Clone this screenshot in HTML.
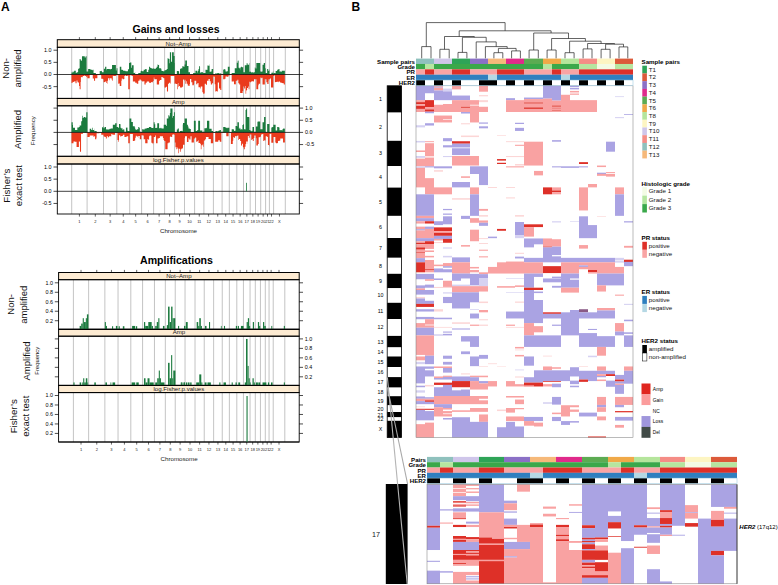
<!DOCTYPE html>
<html><head><meta charset="utf-8"><title>Figure</title>
<style>
html,body{margin:0;padding:0;background:#fff;}
body{width:778px;height:585px;overflow:hidden;font-family:"Liberation Sans",sans-serif;}
svg{display:block;font-family:"Liberation Sans",sans-serif;}
</style></head><body>
<svg width="778" height="585" viewBox="0 0 778 585">
<rect width="778" height="585" fill="#fff"/>
<g shape-rendering="auto">
<rect x="416.00" y="85.85" width="9.00" height="14.31" fill="#aaa3e3"/>
<rect x="416.00" y="100.15" width="9.00" height="2.00" fill="#f9a2a2"/>
<rect x="416.00" y="102.15" width="9.00" height="2.15" fill="#de3028"/>
<rect x="416.00" y="104.31" width="9.00" height="1.54" fill="#f9a2a2"/>
<rect x="416.00" y="105.85" width="9.00" height="3.08" fill="#de3028"/>
<rect x="416.00" y="108.92" width="9.00" height="3.08" fill="#f9a2a2"/>
<rect x="416.00" y="125.23" width="9.00" height="2.15" fill="#d6d2f2"/>
<rect x="416.00" y="140.92" width="9.00" height="1.54" fill="#d6d2f2"/>
<rect x="416.00" y="150.46" width="9.00" height="1.54" fill="#f9a2a2"/>
<rect x="416.00" y="156.00" width="9.00" height="1.85" fill="#d6d2f2"/>
<rect x="416.00" y="158.62" width="9.00" height="7.69" fill="#f9a2a2"/>
<rect x="416.00" y="166.31" width="9.00" height="1.54" fill="#d6d2f2"/>
<rect x="416.00" y="167.85" width="9.00" height="6.15" fill="#f9a2a2"/>
<rect x="425.00" y="85.85" width="9.00" height="7.38" fill="#aaa3e3"/>
<rect x="425.00" y="100.15" width="9.00" height="6.92" fill="#de3028"/>
<rect x="425.00" y="107.08" width="9.00" height="2.31" fill="#f9a2a2"/>
<rect x="425.00" y="109.38" width="9.00" height="2.31" fill="#de3028"/>
<rect x="425.00" y="111.69" width="9.00" height="1.54" fill="#aaa3e3"/>
<rect x="425.00" y="123.23" width="9.00" height="2.31" fill="#aaa3e3"/>
<rect x="425.00" y="141.23" width="9.00" height="0.92" fill="#f9a2a2"/>
<rect x="425.00" y="143.23" width="9.00" height="13.08" fill="#f9a2a2"/>
<rect x="425.00" y="157.54" width="9.00" height="8.77" fill="#f9a2a2"/>
<rect x="425.00" y="166.31" width="9.00" height="1.08" fill="#aaa3e3"/>
<rect x="434.00" y="85.85" width="9.00" height="0.92" fill="#f9a2a2"/>
<rect x="434.00" y="86.77" width="9.00" height="0.92" fill="#aaa3e3"/>
<rect x="434.00" y="87.69" width="9.00" height="2.77" fill="#f9a2a2"/>
<rect x="434.00" y="90.46" width="9.00" height="9.69" fill="#aaa3e3"/>
<rect x="434.00" y="104.77" width="9.00" height="7.23" fill="#f9a2a2"/>
<rect x="434.00" y="115.54" width="9.00" height="6.92" fill="#f9a2a2"/>
<rect x="434.00" y="166.31" width="9.00" height="2.00" fill="#aaa3e3"/>
<rect x="434.00" y="170.15" width="9.00" height="1.54" fill="#fcd6d6"/>
<rect x="443.00" y="88.62" width="9.00" height="2.77" fill="#d6d2f2"/>
<rect x="443.00" y="91.38" width="9.00" height="8.77" fill="#aaa3e3"/>
<rect x="443.00" y="104.00" width="9.00" height="8.00" fill="#f9a2a2"/>
<rect x="443.00" y="115.54" width="9.00" height="3.54" fill="#f9a2a2"/>
<rect x="443.00" y="119.69" width="9.00" height="2.77" fill="#f9a2a2"/>
<rect x="443.00" y="138.15" width="9.00" height="3.08" fill="#aaa3e3"/>
<rect x="443.00" y="145.23" width="9.00" height="2.15" fill="#aaa3e3"/>
<rect x="443.00" y="156.00" width="9.00" height="1.08" fill="#d6d2f2"/>
<rect x="443.00" y="166.31" width="9.00" height="2.00" fill="#aaa3e3"/>
<rect x="452.00" y="85.85" width="9.00" height="3.54" fill="#f9a2a2"/>
<rect x="452.00" y="95.54" width="9.00" height="4.62" fill="#aaa3e3"/>
<rect x="452.00" y="100.15" width="9.00" height="11.85" fill="#f9a2a2"/>
<rect x="452.00" y="141.23" width="9.00" height="2.46" fill="#de3028"/>
<rect x="452.00" y="143.69" width="9.00" height="3.38" fill="#aaa3e3"/>
<rect x="452.00" y="147.08" width="9.00" height="1.23" fill="#d6d2f2"/>
<rect x="452.00" y="148.31" width="9.00" height="6.77" fill="#aaa3e3"/>
<rect x="452.00" y="156.00" width="9.00" height="9.54" fill="#f9a2a2"/>
<rect x="461.00" y="95.54" width="9.00" height="4.62" fill="#aaa3e3"/>
<rect x="461.00" y="100.15" width="9.00" height="6.62" fill="#f9a2a2"/>
<rect x="461.00" y="106.77" width="9.00" height="1.08" fill="#de3028"/>
<rect x="461.00" y="107.85" width="9.00" height="4.15" fill="#f9a2a2"/>
<rect x="461.00" y="112.00" width="9.00" height="1.54" fill="#aaa3e3"/>
<rect x="461.00" y="123.23" width="9.00" height="1.08" fill="#fcd6d6"/>
<rect x="461.00" y="135.54" width="9.00" height="1.54" fill="#fcd6d6"/>
<rect x="461.00" y="141.23" width="9.00" height="2.46" fill="#de3028"/>
<rect x="461.00" y="143.69" width="9.00" height="3.38" fill="#aaa3e3"/>
<rect x="461.00" y="147.08" width="9.00" height="1.23" fill="#d6d2f2"/>
<rect x="461.00" y="148.31" width="9.00" height="6.77" fill="#aaa3e3"/>
<rect x="461.00" y="156.00" width="9.00" height="9.54" fill="#f9a2a2"/>
<rect x="470.00" y="100.15" width="9.00" height="4.62" fill="#f9a2a2"/>
<rect x="470.00" y="105.54" width="9.00" height="16.92" fill="#f9a2a2"/>
<rect x="470.00" y="135.54" width="9.00" height="1.54" fill="#fcd6d6"/>
<rect x="470.00" y="156.00" width="9.00" height="9.54" fill="#f9a2a2"/>
<rect x="470.00" y="166.31" width="9.00" height="7.69" fill="#aaa3e3"/>
<rect x="479.00" y="85.85" width="9.00" height="5.85" fill="#f9a2a2"/>
<rect x="479.00" y="95.08" width="9.00" height="1.23" fill="#fcd6d6"/>
<rect x="479.00" y="100.15" width="9.00" height="2.00" fill="#fcd6d6"/>
<rect x="479.00" y="106.77" width="9.00" height="5.23" fill="#f9a2a2"/>
<rect x="479.00" y="122.46" width="9.00" height="1.23" fill="#aaa3e3"/>
<rect x="479.00" y="126.31" width="9.00" height="2.00" fill="#aaa3e3"/>
<rect x="479.00" y="166.31" width="9.00" height="7.69" fill="#aaa3e3"/>
<rect x="497.00" y="135.08" width="9.00" height="0.62" fill="#fcd6d6"/>
<rect x="497.00" y="159.08" width="9.00" height="1.54" fill="#de3028"/>
<rect x="497.00" y="162.77" width="9.00" height="1.23" fill="#de3028"/>
<rect x="506.00" y="98.15" width="9.00" height="2.00" fill="#aaa3e3"/>
<rect x="506.00" y="100.15" width="9.00" height="11.85" fill="#f9a2a2"/>
<rect x="506.00" y="141.23" width="9.00" height="0.92" fill="#fcd6d6"/>
<rect x="506.00" y="156.00" width="9.00" height="1.08" fill="#fcd6d6"/>
<rect x="506.00" y="166.31" width="9.00" height="1.08" fill="#f9a2a2"/>
<rect x="515.00" y="100.15" width="9.00" height="11.85" fill="#f9a2a2"/>
<rect x="515.00" y="122.77" width="9.00" height="1.23" fill="#aaa3e3"/>
<rect x="515.00" y="127.85" width="9.00" height="3.08" fill="#aaa3e3"/>
<rect x="515.00" y="141.23" width="9.00" height="0.92" fill="#fcd6d6"/>
<rect x="515.00" y="144.77" width="9.00" height="1.08" fill="#f9a2a2"/>
<rect x="515.00" y="156.00" width="9.00" height="1.08" fill="#fcd6d6"/>
<rect x="515.00" y="164.00" width="9.00" height="1.54" fill="#fcd6d6"/>
<rect x="515.00" y="166.31" width="9.00" height="1.08" fill="#f9a2a2"/>
<rect x="524.00" y="97.54" width="10.00" height="1.54" fill="#aaa3e3"/>
<rect x="524.00" y="99.08" width="10.00" height="3.38" fill="#f9a2a2"/>
<rect x="524.00" y="102.46" width="10.00" height="1.23" fill="#de3028"/>
<rect x="524.00" y="103.69" width="10.00" height="3.69" fill="#f9a2a2"/>
<rect x="524.00" y="107.38" width="10.00" height="1.54" fill="#de3028"/>
<rect x="524.00" y="108.92" width="10.00" height="3.08" fill="#f9a2a2"/>
<rect x="524.00" y="141.69" width="10.00" height="23.85" fill="#f9a2a2"/>
<rect x="534.00" y="97.54" width="9.00" height="1.54" fill="#aaa3e3"/>
<rect x="534.00" y="99.08" width="9.00" height="3.38" fill="#f9a2a2"/>
<rect x="534.00" y="102.46" width="9.00" height="1.23" fill="#de3028"/>
<rect x="534.00" y="103.69" width="9.00" height="3.69" fill="#f9a2a2"/>
<rect x="534.00" y="107.38" width="9.00" height="1.54" fill="#de3028"/>
<rect x="534.00" y="108.92" width="9.00" height="3.08" fill="#f9a2a2"/>
<rect x="534.00" y="141.69" width="9.00" height="23.85" fill="#f9a2a2"/>
<rect x="534.00" y="170.92" width="9.00" height="3.08" fill="#f9a2a2"/>
<rect x="543.00" y="85.85" width="9.00" height="12.77" fill="#aaa3e3"/>
<rect x="543.00" y="98.62" width="9.00" height="13.38" fill="#f9a2a2"/>
<rect x="552.00" y="85.85" width="9.00" height="14.77" fill="#aaa3e3"/>
<rect x="552.00" y="100.62" width="9.00" height="4.92" fill="#f9a2a2"/>
<rect x="552.00" y="105.54" width="9.00" height="1.23" fill="#de3028"/>
<rect x="552.00" y="106.77" width="9.00" height="1.08" fill="#f9a2a2"/>
<rect x="552.00" y="107.85" width="9.00" height="0.77" fill="#de3028"/>
<rect x="552.00" y="108.62" width="9.00" height="1.85" fill="#f9a2a2"/>
<rect x="552.00" y="110.46" width="9.00" height="0.92" fill="#de3028"/>
<rect x="552.00" y="111.38" width="9.00" height="0.62" fill="#f9a2a2"/>
<rect x="552.00" y="140.15" width="9.00" height="1.54" fill="#aaa3e3"/>
<rect x="552.00" y="166.31" width="9.00" height="1.08" fill="#aaa3e3"/>
<rect x="561.00" y="94.77" width="9.00" height="17.23" fill="#f9a2a2"/>
<rect x="561.00" y="166.31" width="9.00" height="1.54" fill="#aaa3e3"/>
<rect x="570.00" y="85.85" width="9.00" height="1.23" fill="#aaa3e3"/>
<rect x="570.00" y="87.85" width="9.00" height="1.54" fill="#aaa3e3"/>
<rect x="570.00" y="90.92" width="9.00" height="1.54" fill="#f9a2a2"/>
<rect x="570.00" y="93.54" width="9.00" height="1.23" fill="#f9a2a2"/>
<rect x="570.00" y="100.15" width="9.00" height="11.85" fill="#f9a2a2"/>
<rect x="570.00" y="166.31" width="9.00" height="1.54" fill="#aaa3e3"/>
<rect x="579.00" y="100.15" width="9.00" height="11.85" fill="#f9a2a2"/>
<rect x="579.00" y="162.15" width="9.00" height="1.85" fill="#de3028"/>
<rect x="579.00" y="166.31" width="9.00" height="1.08" fill="#aaa3e3"/>
<rect x="588.00" y="100.15" width="9.00" height="11.85" fill="#f9a2a2"/>
<rect x="597.00" y="165.54" width="9.00" height="1.54" fill="#f9a2a2"/>
<rect x="597.00" y="172.92" width="9.00" height="1.08" fill="#aaa3e3"/>
<rect x="606.00" y="141.69" width="9.00" height="10.00" fill="#aaa3e3"/>
<rect x="606.00" y="172.00" width="9.00" height="0.92" fill="#f9a2a2"/>
<rect x="615.00" y="96.31" width="9.00" height="0.77" fill="#d6d2f2"/>
<rect x="615.00" y="117.08" width="9.00" height="1.08" fill="#d6d2f2"/>
<rect x="624.00" y="114.00" width="9.00" height="0.77" fill="#aaa3e3"/>
<rect x="416.00" y="172.00" width="9.00" height="15.38" fill="#f9a2a2"/>
<rect x="416.00" y="194.31" width="9.00" height="21.54" fill="#aaa3e3"/>
<rect x="416.00" y="215.85" width="9.00" height="2.31" fill="#f9a2a2"/>
<rect x="416.00" y="218.15" width="9.00" height="3.08" fill="#aaa3e3"/>
<rect x="416.00" y="221.23" width="9.00" height="2.31" fill="#f9a2a2"/>
<rect x="416.00" y="226.62" width="9.00" height="2.62" fill="#f9a2a2"/>
<rect x="416.00" y="229.23" width="9.00" height="1.23" fill="#aaa3e3"/>
<rect x="416.00" y="230.46" width="9.00" height="7.69" fill="#f9a2a2"/>
<rect x="416.00" y="238.15" width="9.00" height="3.08" fill="#aaa3e3"/>
<rect x="416.00" y="241.23" width="9.00" height="1.54" fill="#f9a2a2"/>
<rect x="416.00" y="242.77" width="9.00" height="1.54" fill="#de3028"/>
<rect x="416.00" y="244.31" width="9.00" height="3.08" fill="#f9a2a2"/>
<rect x="416.00" y="247.38" width="9.00" height="2.31" fill="#de3028"/>
<rect x="416.00" y="249.69" width="9.00" height="2.31" fill="#f9a2a2"/>
<rect x="416.00" y="252.00" width="9.00" height="0.77" fill="#de3028"/>
<rect x="416.00" y="252.77" width="9.00" height="5.38" fill="#f9a2a2"/>
<rect x="416.00" y="258.15" width="9.00" height="2.31" fill="#aaa3e3"/>
<rect x="416.00" y="260.46" width="9.00" height="1.54" fill="#f9a2a2"/>
<rect x="425.00" y="178.15" width="9.00" height="16.15" fill="#f9a2a2"/>
<rect x="425.00" y="194.31" width="9.00" height="21.54" fill="#aaa3e3"/>
<rect x="425.00" y="215.85" width="9.00" height="2.31" fill="#f9a2a2"/>
<rect x="425.00" y="218.15" width="9.00" height="3.08" fill="#aaa3e3"/>
<rect x="425.00" y="221.23" width="9.00" height="2.31" fill="#de3028"/>
<rect x="425.00" y="226.62" width="9.00" height="2.31" fill="#aaa3e3"/>
<rect x="425.00" y="228.92" width="9.00" height="9.23" fill="#f9a2a2"/>
<rect x="425.00" y="238.15" width="9.00" height="3.08" fill="#aaa3e3"/>
<rect x="425.00" y="241.23" width="9.00" height="2.77" fill="#de3028"/>
<rect x="425.00" y="244.00" width="9.00" height="4.92" fill="#f9a2a2"/>
<rect x="425.00" y="250.46" width="9.00" height="1.54" fill="#f9a2a2"/>
<rect x="425.00" y="255.85" width="9.00" height="1.54" fill="#f9a2a2"/>
<rect x="434.00" y="187.38" width="9.00" height="6.92" fill="#f9a2a2"/>
<rect x="434.00" y="221.23" width="9.00" height="3.85" fill="#aaa3e3"/>
<rect x="434.00" y="227.38" width="9.00" height="3.85" fill="#de3028"/>
<rect x="434.00" y="231.23" width="9.00" height="1.54" fill="#f9a2a2"/>
<rect x="434.00" y="232.77" width="9.00" height="3.08" fill="#de3028"/>
<rect x="434.00" y="235.85" width="9.00" height="3.08" fill="#aaa3e3"/>
<rect x="434.00" y="238.92" width="9.00" height="1.54" fill="#f9a2a2"/>
<rect x="434.00" y="242.00" width="9.00" height="1.08" fill="#fcd6d6"/>
<rect x="443.00" y="187.38" width="9.00" height="6.92" fill="#f9a2a2"/>
<rect x="443.00" y="208.92" width="9.00" height="1.23" fill="#aaa3e3"/>
<rect x="443.00" y="213.54" width="9.00" height="1.23" fill="#aaa3e3"/>
<rect x="443.00" y="216.31" width="9.00" height="8.00" fill="#aaa3e3"/>
<rect x="443.00" y="227.38" width="9.00" height="3.85" fill="#de3028"/>
<rect x="443.00" y="231.23" width="9.00" height="1.54" fill="#f9a2a2"/>
<rect x="443.00" y="232.77" width="9.00" height="3.08" fill="#de3028"/>
<rect x="443.00" y="235.85" width="9.00" height="3.08" fill="#aaa3e3"/>
<rect x="443.00" y="238.92" width="9.00" height="3.85" fill="#de3028"/>
<rect x="443.00" y="247.38" width="9.00" height="1.23" fill="#d6d2f2"/>
<rect x="443.00" y="255.85" width="9.00" height="1.54" fill="#d6d2f2"/>
<rect x="452.00" y="182.00" width="9.00" height="5.38" fill="#aaa3e3"/>
<rect x="452.00" y="198.15" width="9.00" height="1.54" fill="#fcd6d6"/>
<rect x="452.00" y="257.38" width="9.00" height="4.62" fill="#aaa3e3"/>
<rect x="461.00" y="176.31" width="9.00" height="1.54" fill="#f9a2a2"/>
<rect x="461.00" y="182.00" width="9.00" height="5.38" fill="#aaa3e3"/>
<rect x="461.00" y="198.15" width="9.00" height="1.54" fill="#fcd6d6"/>
<rect x="461.00" y="215.85" width="9.00" height="3.08" fill="#aaa3e3"/>
<rect x="461.00" y="245.08" width="9.00" height="1.54" fill="#f9a2a2"/>
<rect x="461.00" y="257.38" width="9.00" height="4.62" fill="#aaa3e3"/>
<rect x="470.00" y="172.00" width="9.00" height="1.85" fill="#aaa3e3"/>
<rect x="470.00" y="187.38" width="9.00" height="6.92" fill="#f9a2a2"/>
<rect x="470.00" y="194.31" width="9.00" height="21.54" fill="#aaa3e3"/>
<rect x="470.00" y="218.15" width="9.00" height="4.62" fill="#f9a2a2"/>
<rect x="470.00" y="229.69" width="9.00" height="11.54" fill="#f9a2a2"/>
<rect x="479.00" y="172.00" width="9.00" height="13.08" fill="#aaa3e3"/>
<rect x="479.00" y="208.92" width="9.00" height="1.85" fill="#f9a2a2"/>
<rect x="479.00" y="215.08" width="9.00" height="1.54" fill="#fcd6d6"/>
<rect x="479.00" y="220.46" width="9.00" height="2.31" fill="#f9a2a2"/>
<rect x="479.00" y="222.77" width="9.00" height="3.08" fill="#aaa3e3"/>
<rect x="479.00" y="238.15" width="9.00" height="0.92" fill="#fcd6d6"/>
<rect x="479.00" y="243.08" width="9.00" height="0.92" fill="#fcd6d6"/>
<rect x="479.00" y="249.69" width="9.00" height="1.08" fill="#f9a2a2"/>
<rect x="479.00" y="256.31" width="9.00" height="1.08" fill="#f9a2a2"/>
<rect x="488.00" y="187.08" width="9.00" height="0.92" fill="#fcd6d6"/>
<rect x="488.00" y="236.62" width="9.00" height="1.54" fill="#aaa3e3"/>
<rect x="497.00" y="228.92" width="9.00" height="1.85" fill="#de3028"/>
<rect x="506.00" y="187.08" width="9.00" height="0.92" fill="#fcd6d6"/>
<rect x="506.00" y="197.38" width="9.00" height="1.08" fill="#fcd6d6"/>
<rect x="515.00" y="215.08" width="9.00" height="1.54" fill="#fcd6d6"/>
<rect x="515.00" y="222.00" width="9.00" height="13.08" fill="#aaa3e3"/>
<rect x="515.00" y="235.08" width="9.00" height="3.08" fill="#d6d2f2"/>
<rect x="515.00" y="252.77" width="9.00" height="1.08" fill="#fcd6d6"/>
<rect x="515.00" y="256.62" width="9.00" height="1.85" fill="#aaa3e3"/>
<rect x="524.00" y="224.31" width="10.00" height="2.77" fill="#de3028"/>
<rect x="524.00" y="227.08" width="10.00" height="9.54" fill="#f9a2a2"/>
<rect x="524.00" y="238.46" width="10.00" height="8.92" fill="#aaa3e3"/>
<rect x="524.00" y="257.85" width="10.00" height="4.15" fill="#aaa3e3"/>
<rect x="534.00" y="172.00" width="9.00" height="3.38" fill="#f9a2a2"/>
<rect x="534.00" y="224.31" width="9.00" height="2.77" fill="#de3028"/>
<rect x="534.00" y="238.46" width="9.00" height="5.85" fill="#aaa3e3"/>
<rect x="534.00" y="257.85" width="9.00" height="4.15" fill="#aaa3e3"/>
<rect x="543.00" y="187.38" width="9.00" height="6.92" fill="#de3028"/>
<rect x="543.00" y="238.46" width="9.00" height="8.15" fill="#f9a2a2"/>
<rect x="543.00" y="246.62" width="9.00" height="0.77" fill="#de3028"/>
<rect x="543.00" y="247.38" width="9.00" height="14.62" fill="#aaa3e3"/>
<rect x="552.00" y="187.38" width="9.00" height="3.08" fill="#f9a2a2"/>
<rect x="552.00" y="190.46" width="9.00" height="1.85" fill="#de3028"/>
<rect x="552.00" y="192.31" width="9.00" height="2.00" fill="#f9a2a2"/>
<rect x="552.00" y="221.23" width="9.00" height="1.23" fill="#d6d2f2"/>
<rect x="552.00" y="239.23" width="9.00" height="7.38" fill="#f9a2a2"/>
<rect x="552.00" y="246.62" width="9.00" height="8.46" fill="#aaa3e3"/>
<rect x="552.00" y="256.31" width="9.00" height="5.69" fill="#aaa3e3"/>
<rect x="561.00" y="257.85" width="9.00" height="4.15" fill="#aaa3e3"/>
<rect x="570.00" y="221.23" width="9.00" height="0.62" fill="#d6d2f2"/>
<rect x="570.00" y="257.85" width="9.00" height="4.15" fill="#aaa3e3"/>
<rect x="579.00" y="187.38" width="9.00" height="23.08" fill="#f9a2a2"/>
<rect x="579.00" y="216.31" width="9.00" height="21.85" fill="#aaa3e3"/>
<rect x="579.00" y="245.08" width="9.00" height="3.54" fill="#f9a2a2"/>
<rect x="579.00" y="257.85" width="9.00" height="4.15" fill="#aaa3e3"/>
<rect x="588.00" y="184.00" width="9.00" height="3.38" fill="#f9a2a2"/>
<rect x="588.00" y="225.08" width="9.00" height="13.08" fill="#aaa3e3"/>
<rect x="588.00" y="257.85" width="9.00" height="4.15" fill="#aaa3e3"/>
<rect x="597.00" y="172.77" width="9.00" height="1.08" fill="#aaa3e3"/>
<rect x="597.00" y="173.85" width="9.00" height="2.00" fill="#f9a2a2"/>
<rect x="597.00" y="216.31" width="9.00" height="0.62" fill="#fcd6d6"/>
<rect x="597.00" y="257.85" width="9.00" height="4.15" fill="#aaa3e3"/>
<rect x="606.00" y="173.85" width="9.00" height="2.77" fill="#f9a2a2"/>
<rect x="606.00" y="257.85" width="9.00" height="4.15" fill="#aaa3e3"/>
<rect x="615.00" y="187.38" width="9.00" height="6.92" fill="#f9a2a2"/>
<rect x="615.00" y="194.31" width="9.00" height="21.54" fill="#aaa3e3"/>
<rect x="615.00" y="257.85" width="9.00" height="2.62" fill="#d6d2f2"/>
<rect x="624.00" y="221.23" width="9.00" height="1.23" fill="#aaa3e3"/>
<rect x="624.00" y="245.85" width="9.00" height="1.85" fill="#f9a2a2"/>
<rect x="624.00" y="259.69" width="9.00" height="2.31" fill="#de3028"/>
<rect x="416.00" y="260.00" width="9.00" height="2.31" fill="#aaa3e3"/>
<rect x="416.00" y="262.31" width="9.00" height="10.00" fill="#de3028"/>
<rect x="416.00" y="273.85" width="9.00" height="5.38" fill="#aaa3e3"/>
<rect x="416.00" y="285.38" width="9.00" height="3.08" fill="#aaa3e3"/>
<rect x="416.00" y="288.46" width="9.00" height="1.54" fill="#f9a2a2"/>
<rect x="416.00" y="290.00" width="9.00" height="4.62" fill="#aaa3e3"/>
<rect x="416.00" y="296.92" width="9.00" height="1.54" fill="#fcd6d6"/>
<rect x="416.00" y="298.46" width="9.00" height="5.38" fill="#aaa3e3"/>
<rect x="416.00" y="303.85" width="9.00" height="3.08" fill="#de3028"/>
<rect x="416.00" y="309.23" width="9.00" height="2.31" fill="#aaa3e3"/>
<rect x="416.00" y="316.92" width="9.00" height="2.31" fill="#aaa3e3"/>
<rect x="416.00" y="323.08" width="9.00" height="4.62" fill="#f9a2a2"/>
<rect x="416.00" y="327.69" width="9.00" height="7.69" fill="#aaa3e3"/>
<rect x="416.00" y="335.38" width="9.00" height="14.62" fill="#f9a2a2"/>
<rect x="425.00" y="260.00" width="9.00" height="9.23" fill="#f9a2a2"/>
<rect x="425.00" y="269.23" width="9.00" height="1.23" fill="#de3028"/>
<rect x="425.00" y="270.46" width="9.00" height="1.85" fill="#f9a2a2"/>
<rect x="425.00" y="273.85" width="9.00" height="5.38" fill="#aaa3e3"/>
<rect x="425.00" y="279.23" width="9.00" height="1.54" fill="#f9a2a2"/>
<rect x="425.00" y="284.62" width="9.00" height="3.08" fill="#aaa3e3"/>
<rect x="425.00" y="290.00" width="9.00" height="4.62" fill="#aaa3e3"/>
<rect x="425.00" y="300.77" width="9.00" height="3.08" fill="#aaa3e3"/>
<rect x="425.00" y="303.85" width="9.00" height="3.08" fill="#de3028"/>
<rect x="425.00" y="309.23" width="9.00" height="2.31" fill="#aaa3e3"/>
<rect x="425.00" y="316.92" width="9.00" height="2.31" fill="#aaa3e3"/>
<rect x="425.00" y="319.23" width="9.00" height="5.38" fill="#f9a2a2"/>
<rect x="425.00" y="325.38" width="9.00" height="2.31" fill="#f9a2a2"/>
<rect x="425.00" y="327.69" width="9.00" height="7.69" fill="#aaa3e3"/>
<rect x="425.00" y="335.38" width="9.00" height="14.62" fill="#f9a2a2"/>
<rect x="434.00" y="264.62" width="9.00" height="1.54" fill="#f9a2a2"/>
<rect x="434.00" y="268.46" width="9.00" height="3.85" fill="#aaa3e3"/>
<rect x="434.00" y="278.46" width="9.00" height="1.54" fill="#aaa3e3"/>
<rect x="434.00" y="286.92" width="9.00" height="1.08" fill="#fcd6d6"/>
<rect x="434.00" y="309.23" width="9.00" height="2.31" fill="#fcd6d6"/>
<rect x="434.00" y="317.69" width="9.00" height="1.54" fill="#aaa3e3"/>
<rect x="434.00" y="326.92" width="9.00" height="0.77" fill="#fcd6d6"/>
<rect x="434.00" y="334.62" width="9.00" height="0.77" fill="#aaa3e3"/>
<rect x="443.00" y="263.08" width="9.00" height="3.08" fill="#f9a2a2"/>
<rect x="443.00" y="266.15" width="9.00" height="1.54" fill="#aaa3e3"/>
<rect x="443.00" y="269.23" width="9.00" height="3.08" fill="#aaa3e3"/>
<rect x="443.00" y="280.77" width="9.00" height="6.15" fill="#f9a2a2"/>
<rect x="443.00" y="286.92" width="9.00" height="1.08" fill="#fcd6d6"/>
<rect x="443.00" y="292.31" width="9.00" height="1.23" fill="#d6d2f2"/>
<rect x="443.00" y="296.92" width="9.00" height="6.15" fill="#aaa3e3"/>
<rect x="443.00" y="317.69" width="9.00" height="1.54" fill="#aaa3e3"/>
<rect x="443.00" y="326.92" width="9.00" height="0.77" fill="#fcd6d6"/>
<rect x="443.00" y="331.54" width="9.00" height="1.08" fill="#aaa3e3"/>
<rect x="443.00" y="333.85" width="9.00" height="1.54" fill="#aaa3e3"/>
<rect x="452.00" y="260.00" width="9.00" height="2.31" fill="#aaa3e3"/>
<rect x="452.00" y="262.31" width="9.00" height="11.23" fill="#f9a2a2"/>
<rect x="452.00" y="273.54" width="9.00" height="7.23" fill="#aaa3e3"/>
<rect x="452.00" y="284.62" width="9.00" height="1.54" fill="#d6d2f2"/>
<rect x="452.00" y="286.15" width="9.00" height="6.15" fill="#f9a2a2"/>
<rect x="452.00" y="292.31" width="9.00" height="16.15" fill="#aaa3e3"/>
<rect x="452.00" y="322.31" width="9.00" height="1.54" fill="#fcd6d6"/>
<rect x="452.00" y="328.46" width="9.00" height="1.08" fill="#aaa3e3"/>
<rect x="461.00" y="260.00" width="9.00" height="2.31" fill="#aaa3e3"/>
<rect x="461.00" y="262.31" width="9.00" height="11.23" fill="#f9a2a2"/>
<rect x="461.00" y="273.54" width="9.00" height="4.92" fill="#aaa3e3"/>
<rect x="461.00" y="284.62" width="9.00" height="1.54" fill="#d6d2f2"/>
<rect x="461.00" y="286.15" width="9.00" height="6.15" fill="#f9a2a2"/>
<rect x="461.00" y="292.31" width="9.00" height="16.15" fill="#aaa3e3"/>
<rect x="461.00" y="322.31" width="9.00" height="1.54" fill="#fcd6d6"/>
<rect x="461.00" y="328.46" width="9.00" height="1.08" fill="#aaa3e3"/>
<rect x="461.00" y="336.15" width="9.00" height="5.38" fill="#aaa3e3"/>
<rect x="470.00" y="266.92" width="9.00" height="1.54" fill="#f9a2a2"/>
<rect x="470.00" y="270.00" width="9.00" height="2.31" fill="#f9a2a2"/>
<rect x="470.00" y="273.85" width="9.00" height="11.54" fill="#aaa3e3"/>
<rect x="470.00" y="286.15" width="9.00" height="6.15" fill="#f9a2a2"/>
<rect x="470.00" y="292.31" width="9.00" height="10.00" fill="#aaa3e3"/>
<rect x="470.00" y="309.23" width="9.00" height="0.77" fill="#d6d2f2"/>
<rect x="470.00" y="313.54" width="9.00" height="4.92" fill="#aaa3e3"/>
<rect x="470.00" y="324.62" width="9.00" height="1.23" fill="#f9a2a2"/>
<rect x="470.00" y="336.15" width="9.00" height="10.77" fill="#aaa3e3"/>
<rect x="479.00" y="272.31" width="9.00" height="1.85" fill="#f9a2a2"/>
<rect x="479.00" y="274.15" width="9.00" height="4.31" fill="#aaa3e3"/>
<rect x="479.00" y="278.46" width="9.00" height="7.69" fill="#d6d2f2"/>
<rect x="479.00" y="286.15" width="9.00" height="5.38" fill="#f9a2a2"/>
<rect x="479.00" y="301.54" width="9.00" height="1.54" fill="#fcd6d6"/>
<rect x="479.00" y="310.00" width="9.00" height="2.31" fill="#f9a2a2"/>
<rect x="479.00" y="319.23" width="9.00" height="1.08" fill="#fcd6d6"/>
<rect x="479.00" y="324.62" width="9.00" height="1.23" fill="#fcd6d6"/>
<rect x="488.00" y="266.92" width="9.00" height="6.62" fill="#f9a2a2"/>
<rect x="497.00" y="262.31" width="9.00" height="11.23" fill="#f9a2a2"/>
<rect x="497.00" y="286.15" width="9.00" height="1.54" fill="#f9a2a2"/>
<rect x="506.00" y="261.54" width="9.00" height="12.00" fill="#f9a2a2"/>
<rect x="506.00" y="278.15" width="9.00" height="0.62" fill="#d6d2f2"/>
<rect x="506.00" y="286.15" width="9.00" height="1.54" fill="#f9a2a2"/>
<rect x="506.00" y="292.00" width="9.00" height="0.62" fill="#d6d2f2"/>
<rect x="506.00" y="311.54" width="9.00" height="6.92" fill="#aaa3e3"/>
<rect x="506.00" y="324.62" width="9.00" height="1.23" fill="#f9a2a2"/>
<rect x="506.00" y="326.92" width="9.00" height="0.77" fill="#fcd6d6"/>
<rect x="515.00" y="261.54" width="9.00" height="12.00" fill="#f9a2a2"/>
<rect x="515.00" y="278.15" width="9.00" height="0.62" fill="#d6d2f2"/>
<rect x="515.00" y="285.38" width="9.00" height="1.54" fill="#f9a2a2"/>
<rect x="515.00" y="292.00" width="9.00" height="0.62" fill="#d6d2f2"/>
<rect x="515.00" y="301.54" width="9.00" height="1.23" fill="#fcd6d6"/>
<rect x="515.00" y="311.54" width="9.00" height="6.92" fill="#aaa3e3"/>
<rect x="515.00" y="326.92" width="9.00" height="0.77" fill="#fcd6d6"/>
<rect x="515.00" y="346.92" width="9.00" height="1.54" fill="#f9a2a2"/>
<rect x="524.00" y="260.00" width="10.00" height="2.31" fill="#aaa3e3"/>
<rect x="524.00" y="262.31" width="10.00" height="11.23" fill="#f9a2a2"/>
<rect x="524.00" y="273.54" width="10.00" height="14.15" fill="#aaa3e3"/>
<rect x="524.00" y="287.69" width="10.00" height="2.31" fill="#de3028"/>
<rect x="524.00" y="290.00" width="10.00" height="33.08" fill="#aaa3e3"/>
<rect x="524.00" y="323.08" width="10.00" height="12.31" fill="#f9a2a2"/>
<rect x="524.00" y="335.38" width="10.00" height="11.54" fill="#aaa3e3"/>
<rect x="534.00" y="260.00" width="9.00" height="2.31" fill="#aaa3e3"/>
<rect x="534.00" y="262.31" width="9.00" height="11.23" fill="#f9a2a2"/>
<rect x="534.00" y="273.54" width="9.00" height="3.38" fill="#aaa3e3"/>
<rect x="534.00" y="287.69" width="9.00" height="2.31" fill="#de3028"/>
<rect x="534.00" y="291.54" width="9.00" height="1.54" fill="#aaa3e3"/>
<rect x="534.00" y="300.00" width="9.00" height="23.08" fill="#aaa3e3"/>
<rect x="534.00" y="326.15" width="9.00" height="6.15" fill="#f9a2a2"/>
<rect x="534.00" y="335.38" width="9.00" height="11.54" fill="#aaa3e3"/>
<rect x="543.00" y="260.00" width="9.00" height="2.31" fill="#aaa3e3"/>
<rect x="543.00" y="266.15" width="9.00" height="6.92" fill="#de3028"/>
<rect x="543.00" y="278.46" width="9.00" height="3.85" fill="#aaa3e3"/>
<rect x="543.00" y="312.31" width="9.00" height="1.54" fill="#de3028"/>
<rect x="543.00" y="313.85" width="9.00" height="4.62" fill="#aaa3e3"/>
<rect x="543.00" y="335.38" width="9.00" height="11.54" fill="#aaa3e3"/>
<rect x="552.00" y="260.00" width="9.00" height="2.31" fill="#aaa3e3"/>
<rect x="552.00" y="266.15" width="9.00" height="6.92" fill="#de3028"/>
<rect x="552.00" y="276.62" width="9.00" height="1.54" fill="#aaa3e3"/>
<rect x="552.00" y="278.46" width="9.00" height="3.85" fill="#aaa3e3"/>
<rect x="552.00" y="285.85" width="9.00" height="1.85" fill="#aaa3e3"/>
<rect x="552.00" y="312.31" width="9.00" height="1.54" fill="#de3028"/>
<rect x="552.00" y="313.85" width="9.00" height="4.62" fill="#aaa3e3"/>
<rect x="552.00" y="324.62" width="9.00" height="1.23" fill="#aaa3e3"/>
<rect x="552.00" y="335.38" width="9.00" height="11.54" fill="#aaa3e3"/>
<rect x="561.00" y="260.00" width="9.00" height="2.31" fill="#aaa3e3"/>
<rect x="561.00" y="262.31" width="9.00" height="11.23" fill="#f9a2a2"/>
<rect x="561.00" y="273.54" width="9.00" height="14.15" fill="#aaa3e3"/>
<rect x="561.00" y="287.69" width="9.00" height="4.92" fill="#f9a2a2"/>
<rect x="561.00" y="312.31" width="9.00" height="23.08" fill="#aaa3e3"/>
<rect x="570.00" y="260.00" width="9.00" height="2.31" fill="#aaa3e3"/>
<rect x="570.00" y="262.31" width="9.00" height="11.23" fill="#f9a2a2"/>
<rect x="570.00" y="273.54" width="9.00" height="4.92" fill="#aaa3e3"/>
<rect x="570.00" y="279.69" width="9.00" height="8.00" fill="#aaa3e3"/>
<rect x="570.00" y="287.69" width="9.00" height="4.92" fill="#f9a2a2"/>
<rect x="570.00" y="310.00" width="9.00" height="25.38" fill="#aaa3e3"/>
<rect x="579.00" y="260.00" width="9.00" height="2.31" fill="#aaa3e3"/>
<rect x="579.00" y="262.31" width="9.00" height="3.08" fill="#f9a2a2"/>
<rect x="579.00" y="265.38" width="9.00" height="1.54" fill="#aaa3e3"/>
<rect x="579.00" y="266.92" width="9.00" height="2.31" fill="#f9a2a2"/>
<rect x="579.00" y="309.23" width="9.00" height="3.08" fill="#8a5a86"/>
<rect x="579.00" y="312.31" width="9.00" height="6.15" fill="#aaa3e3"/>
<rect x="579.00" y="333.08" width="9.00" height="13.85" fill="#aaa3e3"/>
<rect x="588.00" y="260.00" width="9.00" height="2.31" fill="#aaa3e3"/>
<rect x="588.00" y="262.31" width="9.00" height="7.69" fill="#f9a2a2"/>
<rect x="588.00" y="270.00" width="9.00" height="2.31" fill="#de3028"/>
<rect x="588.00" y="272.31" width="9.00" height="1.23" fill="#f9a2a2"/>
<rect x="588.00" y="312.31" width="9.00" height="6.15" fill="#aaa3e3"/>
<rect x="588.00" y="328.92" width="9.00" height="1.08" fill="#aaa3e3"/>
<rect x="588.00" y="333.08" width="9.00" height="13.85" fill="#aaa3e3"/>
<rect x="597.00" y="260.00" width="9.00" height="2.31" fill="#aaa3e3"/>
<rect x="597.00" y="262.31" width="9.00" height="11.23" fill="#f9a2a2"/>
<rect x="597.00" y="273.54" width="9.00" height="11.85" fill="#aaa3e3"/>
<rect x="597.00" y="285.38" width="9.00" height="6.15" fill="#f9a2a2"/>
<rect x="597.00" y="308.00" width="9.00" height="2.46" fill="#f9a2a2"/>
<rect x="597.00" y="310.46" width="9.00" height="8.00" fill="#aaa3e3"/>
<rect x="597.00" y="336.15" width="9.00" height="10.77" fill="#aaa3e3"/>
<rect x="597.00" y="346.92" width="9.00" height="3.08" fill="#f9a2a2"/>
<rect x="606.00" y="260.00" width="9.00" height="2.31" fill="#aaa3e3"/>
<rect x="606.00" y="262.31" width="9.00" height="11.23" fill="#f9a2a2"/>
<rect x="606.00" y="273.54" width="9.00" height="11.85" fill="#aaa3e3"/>
<rect x="606.00" y="308.00" width="9.00" height="2.46" fill="#f9a2a2"/>
<rect x="606.00" y="310.46" width="9.00" height="8.00" fill="#aaa3e3"/>
<rect x="606.00" y="336.15" width="9.00" height="10.77" fill="#aaa3e3"/>
<rect x="615.00" y="261.54" width="9.00" height="0.77" fill="#aaa3e3"/>
<rect x="615.00" y="266.92" width="9.00" height="6.62" fill="#f9a2a2"/>
<rect x="615.00" y="273.54" width="9.00" height="11.85" fill="#aaa3e3"/>
<rect x="615.00" y="294.62" width="9.00" height="1.08" fill="#f9a2a2"/>
<rect x="615.00" y="323.08" width="9.00" height="8.46" fill="#f9a2a2"/>
<rect x="615.00" y="331.54" width="9.00" height="3.85" fill="#aaa3e3"/>
<rect x="624.00" y="260.00" width="9.00" height="1.85" fill="#de3028"/>
<rect x="624.00" y="261.85" width="9.00" height="4.31" fill="#aaa3e3"/>
<rect x="624.00" y="303.85" width="9.00" height="1.08" fill="#d6d2f2"/>
<rect x="624.00" y="319.69" width="9.00" height="1.54" fill="#aaa3e3"/>
<rect x="624.00" y="332.31" width="9.00" height="1.54" fill="#aaa3e3"/>
<rect x="624.00" y="335.38" width="9.00" height="11.54" fill="#aaa3e3"/>
<rect x="416.00" y="348.00" width="9.00" height="6.92" fill="#f9a2a2"/>
<rect x="416.00" y="356.46" width="9.00" height="3.85" fill="#f9a2a2"/>
<rect x="416.00" y="361.85" width="9.00" height="2.31" fill="#d6d2f2"/>
<rect x="416.00" y="366.46" width="9.00" height="16.92" fill="#aaa3e3"/>
<rect x="416.00" y="385.69" width="9.00" height="1.54" fill="#aaa3e3"/>
<rect x="416.00" y="390.31" width="9.00" height="2.31" fill="#d6d2f2"/>
<rect x="416.00" y="396.46" width="9.00" height="2.31" fill="#aaa3e3"/>
<rect x="416.00" y="398.77" width="9.00" height="2.31" fill="#f9a2a2"/>
<rect x="416.00" y="401.08" width="9.00" height="3.08" fill="#aaa3e3"/>
<rect x="416.00" y="406.46" width="9.00" height="0.77" fill="#fcd6d6"/>
<rect x="416.00" y="408.77" width="9.00" height="1.08" fill="#de3028"/>
<rect x="416.00" y="409.85" width="9.00" height="10.46" fill="#aaa3e3"/>
<rect x="416.00" y="424.15" width="9.00" height="13.35" fill="#f9a2a2"/>
<rect x="425.00" y="348.00" width="9.00" height="7.69" fill="#f9a2a2"/>
<rect x="425.00" y="355.69" width="9.00" height="8.46" fill="#aaa3e3"/>
<rect x="425.00" y="366.46" width="9.00" height="2.31" fill="#aaa3e3"/>
<rect x="425.00" y="370.31" width="9.00" height="6.15" fill="#aaa3e3"/>
<rect x="425.00" y="384.92" width="9.00" height="1.54" fill="#fcd6d6"/>
<rect x="425.00" y="397.23" width="9.00" height="1.54" fill="#aaa3e3"/>
<rect x="425.00" y="398.77" width="9.00" height="1.54" fill="#f9a2a2"/>
<rect x="425.00" y="400.31" width="9.00" height="1.54" fill="#de3028"/>
<rect x="425.00" y="401.85" width="9.00" height="2.31" fill="#aaa3e3"/>
<rect x="425.00" y="408.77" width="9.00" height="1.08" fill="#de3028"/>
<rect x="425.00" y="411.08" width="9.00" height="9.23" fill="#aaa3e3"/>
<rect x="425.00" y="422.62" width="9.00" height="14.88" fill="#f9a2a2"/>
<rect x="434.00" y="366.46" width="9.00" height="1.54" fill="#f9a2a2"/>
<rect x="434.00" y="376.46" width="9.00" height="1.54" fill="#f9a2a2"/>
<rect x="434.00" y="378.00" width="9.00" height="1.54" fill="#aaa3e3"/>
<rect x="434.00" y="382.62" width="9.00" height="2.31" fill="#de3028"/>
<rect x="434.00" y="387.23" width="9.00" height="8.77" fill="#aaa3e3"/>
<rect x="434.00" y="396.00" width="9.00" height="8.15" fill="#f9a2a2"/>
<rect x="434.00" y="404.15" width="9.00" height="3.08" fill="#aaa3e3"/>
<rect x="434.00" y="407.23" width="9.00" height="9.23" fill="#f9a2a2"/>
<rect x="443.00" y="355.69" width="9.00" height="3.08" fill="#aaa3e3"/>
<rect x="443.00" y="361.85" width="9.00" height="2.77" fill="#aaa3e3"/>
<rect x="443.00" y="366.46" width="9.00" height="1.54" fill="#f9a2a2"/>
<rect x="443.00" y="368.00" width="9.00" height="4.62" fill="#aaa3e3"/>
<rect x="443.00" y="375.69" width="9.00" height="1.23" fill="#f9a2a2"/>
<rect x="443.00" y="376.92" width="9.00" height="2.62" fill="#aaa3e3"/>
<rect x="443.00" y="382.62" width="9.00" height="2.31" fill="#de3028"/>
<rect x="443.00" y="384.92" width="9.00" height="11.08" fill="#aaa3e3"/>
<rect x="443.00" y="396.00" width="9.00" height="8.15" fill="#f9a2a2"/>
<rect x="443.00" y="404.15" width="9.00" height="3.85" fill="#aaa3e3"/>
<rect x="443.00" y="408.00" width="9.00" height="1.54" fill="#f9a2a2"/>
<rect x="443.00" y="411.08" width="9.00" height="2.31" fill="#f9a2a2"/>
<rect x="443.00" y="414.15" width="9.00" height="2.31" fill="#f9a2a2"/>
<rect x="443.00" y="418.00" width="9.00" height="1.54" fill="#aaa3e3"/>
<rect x="452.00" y="376.46" width="9.00" height="4.62" fill="#aaa3e3"/>
<rect x="452.00" y="381.08" width="9.00" height="6.15" fill="#de3028"/>
<rect x="452.00" y="390.31" width="9.00" height="5.69" fill="#aaa3e3"/>
<rect x="452.00" y="396.00" width="9.00" height="8.15" fill="#f9a2a2"/>
<rect x="452.00" y="410.31" width="9.00" height="1.54" fill="#f9a2a2"/>
<rect x="452.00" y="417.23" width="9.00" height="20.27" fill="#aaa3e3"/>
<rect x="461.00" y="351.38" width="9.00" height="2.77" fill="#aaa3e3"/>
<rect x="461.00" y="373.38" width="9.00" height="1.08" fill="#fcd6d6"/>
<rect x="461.00" y="376.46" width="9.00" height="4.62" fill="#aaa3e3"/>
<rect x="461.00" y="381.08" width="9.00" height="6.15" fill="#de3028"/>
<rect x="461.00" y="389.54" width="9.00" height="6.46" fill="#aaa3e3"/>
<rect x="461.00" y="396.00" width="9.00" height="8.15" fill="#f9a2a2"/>
<rect x="461.00" y="410.31" width="9.00" height="1.54" fill="#f9a2a2"/>
<rect x="461.00" y="417.23" width="9.00" height="20.27" fill="#aaa3e3"/>
<rect x="470.00" y="356.46" width="9.00" height="9.69" fill="#aaa3e3"/>
<rect x="470.00" y="375.69" width="9.00" height="1.54" fill="#f9a2a2"/>
<rect x="470.00" y="377.23" width="9.00" height="3.85" fill="#aaa3e3"/>
<rect x="470.00" y="381.08" width="9.00" height="8.46" fill="#f9a2a2"/>
<rect x="470.00" y="396.00" width="9.00" height="8.15" fill="#f9a2a2"/>
<rect x="470.00" y="408.00" width="9.00" height="3.85" fill="#f9a2a2"/>
<rect x="470.00" y="421.85" width="9.00" height="15.65" fill="#aaa3e3"/>
<rect x="479.00" y="354.92" width="9.00" height="3.85" fill="#aaa3e3"/>
<rect x="479.00" y="366.15" width="9.00" height="0.62" fill="#fcd6d6"/>
<rect x="479.00" y="375.69" width="9.00" height="1.54" fill="#f9a2a2"/>
<rect x="479.00" y="381.08" width="9.00" height="2.31" fill="#aaa3e3"/>
<rect x="479.00" y="383.38" width="9.00" height="6.15" fill="#f9a2a2"/>
<rect x="479.00" y="396.00" width="9.00" height="2.77" fill="#f9a2a2"/>
<rect x="479.00" y="400.31" width="9.00" height="3.85" fill="#f9a2a2"/>
<rect x="479.00" y="408.00" width="9.00" height="3.85" fill="#f9a2a2"/>
<rect x="479.00" y="414.46" width="9.00" height="7.38" fill="#f9a2a2"/>
<rect x="479.00" y="421.85" width="9.00" height="15.65" fill="#aaa3e3"/>
<rect x="488.00" y="363.38" width="9.00" height="0.77" fill="#fcd6d6"/>
<rect x="488.00" y="381.08" width="9.00" height="5.38" fill="#f9a2a2"/>
<rect x="497.00" y="366.46" width="9.00" height="0.46" fill="#fcd6d6"/>
<rect x="497.00" y="409.54" width="9.00" height="1.54" fill="#fcd6d6"/>
<rect x="497.00" y="427.23" width="9.00" height="10.27" fill="#aaa3e3"/>
<rect x="506.00" y="381.08" width="9.00" height="5.38" fill="#f9a2a2"/>
<rect x="506.00" y="396.00" width="9.00" height="1.54" fill="#f9a2a2"/>
<rect x="506.00" y="408.00" width="9.00" height="4.62" fill="#f9a2a2"/>
<rect x="506.00" y="416.46" width="9.00" height="4.62" fill="#f9a2a2"/>
<rect x="506.00" y="421.85" width="9.00" height="15.65" fill="#aaa3e3"/>
<rect x="515.00" y="349.54" width="9.00" height="0.77" fill="#fcd6d6"/>
<rect x="515.00" y="354.92" width="9.00" height="1.54" fill="#f9a2a2"/>
<rect x="515.00" y="369.54" width="9.00" height="0.77" fill="#d6d2f2"/>
<rect x="515.00" y="376.46" width="9.00" height="1.08" fill="#fcd6d6"/>
<rect x="515.00" y="384.15" width="9.00" height="2.31" fill="#f9a2a2"/>
<rect x="515.00" y="396.00" width="9.00" height="1.54" fill="#f9a2a2"/>
<rect x="515.00" y="399.54" width="9.00" height="4.62" fill="#f9a2a2"/>
<rect x="515.00" y="408.00" width="9.00" height="1.23" fill="#f9a2a2"/>
<rect x="515.00" y="416.46" width="9.00" height="4.62" fill="#f9a2a2"/>
<rect x="515.00" y="426.46" width="9.00" height="11.04" fill="#aaa3e3"/>
<rect x="524.00" y="356.46" width="10.00" height="9.23" fill="#aaa3e3"/>
<rect x="524.00" y="377.23" width="10.00" height="5.38" fill="#aaa3e3"/>
<rect x="524.00" y="382.62" width="10.00" height="3.08" fill="#de3028"/>
<rect x="524.00" y="385.69" width="10.00" height="1.08" fill="#f9a2a2"/>
<rect x="524.00" y="416.92" width="10.00" height="4.15" fill="#aaa3e3"/>
<rect x="524.00" y="421.08" width="10.00" height="4.62" fill="#f9a2a2"/>
<rect x="534.00" y="370.31" width="9.00" height="12.31" fill="#aaa3e3"/>
<rect x="534.00" y="382.62" width="9.00" height="3.85" fill="#de3028"/>
<rect x="534.00" y="416.92" width="9.00" height="4.15" fill="#aaa3e3"/>
<rect x="534.00" y="422.62" width="9.00" height="3.85" fill="#f9a2a2"/>
<rect x="543.00" y="355.69" width="9.00" height="0.77" fill="#fcd6d6"/>
<rect x="543.00" y="366.46" width="9.00" height="3.85" fill="#f9a2a2"/>
<rect x="543.00" y="370.31" width="9.00" height="10.77" fill="#aaa3e3"/>
<rect x="543.00" y="381.08" width="9.00" height="0.77" fill="#de3028"/>
<rect x="543.00" y="384.15" width="9.00" height="2.31" fill="#f9a2a2"/>
<rect x="543.00" y="402.62" width="9.00" height="0.77" fill="#aaa3e3"/>
<rect x="552.00" y="367.23" width="9.00" height="1.54" fill="#f9a2a2"/>
<rect x="552.00" y="370.31" width="9.00" height="10.77" fill="#aaa3e3"/>
<rect x="552.00" y="381.08" width="9.00" height="0.77" fill="#de3028"/>
<rect x="552.00" y="383.69" width="9.00" height="3.54" fill="#aaa3e3"/>
<rect x="552.00" y="396.92" width="9.00" height="7.69" fill="#aaa3e3"/>
<rect x="552.00" y="412.62" width="9.00" height="1.54" fill="#f9a2a2"/>
<rect x="552.00" y="416.92" width="9.00" height="4.15" fill="#aaa3e3"/>
<rect x="561.00" y="370.31" width="9.00" height="10.77" fill="#aaa3e3"/>
<rect x="561.00" y="405.23" width="9.00" height="11.23" fill="#f9a2a2"/>
<rect x="561.00" y="421.08" width="9.00" height="3.85" fill="#aaa3e3"/>
<rect x="570.00" y="367.23" width="9.00" height="9.23" fill="#aaa3e3"/>
<rect x="570.00" y="380.62" width="9.00" height="3.54" fill="#aaa3e3"/>
<rect x="570.00" y="385.69" width="9.00" height="1.54" fill="#aaa3e3"/>
<rect x="570.00" y="405.23" width="9.00" height="2.00" fill="#f9a2a2"/>
<rect x="570.00" y="409.54" width="9.00" height="2.31" fill="#f9a2a2"/>
<rect x="570.00" y="421.08" width="9.00" height="1.54" fill="#aaa3e3"/>
<rect x="579.00" y="366.15" width="9.00" height="0.62" fill="#fcd6d6"/>
<rect x="579.00" y="370.77" width="9.00" height="8.77" fill="#aaa3e3"/>
<rect x="579.00" y="379.54" width="9.00" height="2.31" fill="#de3028"/>
<rect x="579.00" y="412.62" width="9.00" height="3.85" fill="#aaa3e3"/>
<rect x="588.00" y="355.69" width="9.00" height="1.54" fill="#d6d2f2"/>
<rect x="588.00" y="370.77" width="9.00" height="10.31" fill="#aaa3e3"/>
<rect x="588.00" y="412.62" width="9.00" height="3.85" fill="#aaa3e3"/>
<rect x="588.00" y="436.46" width="9.00" height="1.04" fill="#de3028"/>
<rect x="597.00" y="348.00" width="9.00" height="7.69" fill="#f9a2a2"/>
<rect x="597.00" y="366.46" width="9.00" height="4.31" fill="#f9a2a2"/>
<rect x="597.00" y="370.77" width="9.00" height="3.38" fill="#aaa3e3"/>
<rect x="597.00" y="374.15" width="9.00" height="1.85" fill="#f9a2a2"/>
<rect x="597.00" y="376.00" width="9.00" height="1.23" fill="#aaa3e3"/>
<rect x="597.00" y="379.54" width="9.00" height="1.54" fill="#f9a2a2"/>
<rect x="597.00" y="396.92" width="9.00" height="8.00" fill="#f9a2a2"/>
<rect x="597.00" y="404.92" width="9.00" height="2.31" fill="#aaa3e3"/>
<rect x="597.00" y="407.23" width="9.00" height="4.62" fill="#f9a2a2"/>
<rect x="597.00" y="416.46" width="9.00" height="3.85" fill="#f9a2a2"/>
<rect x="597.00" y="436.46" width="9.00" height="1.04" fill="#de3028"/>
<rect x="606.00" y="370.77" width="9.00" height="3.38" fill="#aaa3e3"/>
<rect x="606.00" y="374.15" width="9.00" height="1.85" fill="#de3028"/>
<rect x="606.00" y="380.62" width="9.00" height="6.15" fill="#aaa3e3"/>
<rect x="615.00" y="374.92" width="9.00" height="4.62" fill="#aaa3e3"/>
<rect x="615.00" y="379.54" width="9.00" height="2.00" fill="#de3028"/>
<rect x="615.00" y="381.54" width="9.00" height="2.15" fill="#aaa3e3"/>
<rect x="615.00" y="383.69" width="9.00" height="1.23" fill="#f9a2a2"/>
<rect x="615.00" y="384.92" width="9.00" height="8.92" fill="#aaa3e3"/>
<rect x="615.00" y="396.92" width="9.00" height="8.00" fill="#f9a2a2"/>
<rect x="615.00" y="404.92" width="9.00" height="2.31" fill="#aaa3e3"/>
<rect x="615.00" y="411.08" width="9.00" height="1.23" fill="#de3028"/>
<rect x="615.00" y="416.92" width="9.00" height="3.69" fill="#aaa3e3"/>
<rect x="615.00" y="424.92" width="9.00" height="2.77" fill="#f9a2a2"/>
<rect x="624.00" y="366.46" width="9.00" height="4.31" fill="#f9a2a2"/>
<rect x="624.00" y="370.77" width="9.00" height="12.92" fill="#aaa3e3"/>
<rect x="624.00" y="396.92" width="9.00" height="8.00" fill="#f9a2a2"/>
<rect x="624.00" y="411.08" width="9.00" height="1.23" fill="#de3028"/>
<rect x="624.00" y="416.92" width="9.00" height="3.69" fill="#aaa3e3"/>
</g>
<rect x="416.0" y="85.8" width="217.0" height="351.7" fill="none" stroke="#777" stroke-width="0.5"/>
<rect x="416.00" y="58.60" width="9.00" height="5.41" fill="#8fc1bd"/>
<rect x="416.00" y="63.96" width="9.00" height="5.41" fill="#3aa84a"/>
<rect x="416.00" y="69.32" width="9.00" height="5.41" fill="#f9a4a4"/>
<rect x="416.00" y="74.68" width="9.00" height="5.41" fill="#2f7fbf"/>
<rect x="416.00" y="80.04" width="9.00" height="5.36" fill="#000"/>
<rect x="425.00" y="58.60" width="9.00" height="5.41" fill="#8fc1bd"/>
<rect x="425.00" y="63.96" width="9.00" height="5.41" fill="#b6e6a0"/>
<rect x="425.00" y="69.32" width="9.00" height="5.41" fill="#de3028"/>
<rect x="425.00" y="74.68" width="9.00" height="5.41" fill="#2f7fbf"/>
<rect x="425.00" y="80.04" width="9.00" height="5.36" fill="#fff"/>
<rect x="434.00" y="58.60" width="9.00" height="5.41" fill="#cfc6ea"/>
<rect x="434.00" y="63.96" width="9.00" height="5.41" fill="#3aa84a"/>
<rect x="434.00" y="69.32" width="9.00" height="5.41" fill="#f9a4a4"/>
<rect x="434.00" y="74.68" width="9.00" height="5.41" fill="#2f7fbf"/>
<rect x="434.00" y="80.04" width="9.00" height="5.36" fill="#000"/>
<rect x="443.00" y="58.60" width="9.00" height="5.41" fill="#cfc6ea"/>
<rect x="443.00" y="63.96" width="9.00" height="5.41" fill="#3aa84a"/>
<rect x="443.00" y="69.32" width="9.00" height="5.41" fill="#f9a4a4"/>
<rect x="443.00" y="74.68" width="9.00" height="5.41" fill="#2f7fbf"/>
<rect x="443.00" y="80.04" width="9.00" height="5.36" fill="#fff"/>
<rect x="452.00" y="58.60" width="9.00" height="5.41" fill="#2ea457"/>
<rect x="452.00" y="63.96" width="9.00" height="5.41" fill="#3aa84a"/>
<rect x="452.00" y="69.32" width="9.00" height="5.41" fill="#de3028"/>
<rect x="452.00" y="74.68" width="9.00" height="5.41" fill="#2f7fbf"/>
<rect x="452.00" y="80.04" width="9.00" height="5.36" fill="#000"/>
<rect x="461.00" y="58.60" width="9.00" height="5.41" fill="#2ea457"/>
<rect x="461.00" y="63.96" width="9.00" height="5.41" fill="#3aa84a"/>
<rect x="461.00" y="69.32" width="9.00" height="5.41" fill="#de3028"/>
<rect x="461.00" y="74.68" width="9.00" height="5.41" fill="#2f7fbf"/>
<rect x="461.00" y="80.04" width="9.00" height="5.36" fill="#fff"/>
<rect x="470.00" y="58.60" width="9.00" height="5.41" fill="#8b70c6"/>
<rect x="470.00" y="63.96" width="9.00" height="5.41" fill="#3aa84a"/>
<rect x="470.00" y="69.32" width="9.00" height="5.41" fill="#f9a4a4"/>
<rect x="470.00" y="74.68" width="9.00" height="5.41" fill="#2f7fbf"/>
<rect x="470.00" y="80.04" width="9.00" height="5.36" fill="#fff"/>
<rect x="479.00" y="58.60" width="9.00" height="5.41" fill="#8b70c6"/>
<rect x="479.00" y="63.96" width="9.00" height="5.41" fill="#3aa84a"/>
<rect x="479.00" y="69.32" width="9.00" height="5.41" fill="#f9a4a4"/>
<rect x="479.00" y="74.68" width="9.00" height="5.41" fill="#2f7fbf"/>
<rect x="479.00" y="80.04" width="9.00" height="5.36" fill="#000"/>
<rect x="488.00" y="58.60" width="9.00" height="5.41" fill="#f6b97a"/>
<rect x="488.00" y="63.96" width="9.00" height="5.41" fill="#3aa84a"/>
<rect x="488.00" y="69.32" width="9.00" height="5.41" fill="#f9a4a4"/>
<rect x="488.00" y="74.68" width="9.00" height="5.41" fill="#b5d8e4"/>
<rect x="488.00" y="80.04" width="9.00" height="5.36" fill="#000"/>
<rect x="497.00" y="58.60" width="9.00" height="5.41" fill="#f6b97a"/>
<rect x="497.00" y="63.96" width="9.00" height="5.41" fill="#3aa84a"/>
<rect x="497.00" y="69.32" width="9.00" height="5.41" fill="#de3028"/>
<rect x="497.00" y="74.68" width="9.00" height="5.41" fill="#2f7fbf"/>
<rect x="497.00" y="80.04" width="9.00" height="5.36" fill="#fff"/>
<rect x="506.00" y="58.60" width="9.00" height="5.41" fill="#e02a8b"/>
<rect x="506.00" y="63.96" width="9.00" height="5.41" fill="#3aa84a"/>
<rect x="506.00" y="69.32" width="9.00" height="5.41" fill="#de3028"/>
<rect x="506.00" y="74.68" width="9.00" height="5.41" fill="#2f7fbf"/>
<rect x="506.00" y="80.04" width="9.00" height="5.36" fill="#000"/>
<rect x="515.00" y="58.60" width="9.00" height="5.41" fill="#e02a8b"/>
<rect x="515.00" y="63.96" width="9.00" height="5.41" fill="#3aa84a"/>
<rect x="515.00" y="69.32" width="9.00" height="5.41" fill="#de3028"/>
<rect x="515.00" y="74.68" width="9.00" height="5.41" fill="#2f7fbf"/>
<rect x="515.00" y="80.04" width="9.00" height="5.36" fill="#fff"/>
<rect x="524.00" y="58.60" width="10.00" height="5.41" fill="#5cab52"/>
<rect x="524.00" y="63.96" width="10.00" height="5.41" fill="#3aa84a"/>
<rect x="524.00" y="69.32" width="10.00" height="5.41" fill="#f9a4a4"/>
<rect x="524.00" y="74.68" width="10.00" height="5.41" fill="#2f7fbf"/>
<rect x="524.00" y="80.04" width="10.00" height="5.36" fill="#000"/>
<rect x="534.00" y="58.60" width="9.00" height="5.41" fill="#5cab52"/>
<rect x="534.00" y="63.96" width="9.00" height="5.41" fill="#3aa84a"/>
<rect x="534.00" y="69.32" width="9.00" height="5.41" fill="#f9a4a4"/>
<rect x="534.00" y="74.68" width="9.00" height="5.41" fill="#2f7fbf"/>
<rect x="534.00" y="80.04" width="9.00" height="5.36" fill="#fff"/>
<rect x="543.00" y="58.60" width="9.00" height="5.41" fill="#f0a948"/>
<rect x="543.00" y="63.96" width="9.00" height="5.41" fill="#b6e6a0"/>
<rect x="543.00" y="69.32" width="9.00" height="5.41" fill="#f9a4a4"/>
<rect x="543.00" y="74.68" width="9.00" height="5.41" fill="#2f7fbf"/>
<rect x="543.00" y="80.04" width="9.00" height="5.36" fill="#000"/>
<rect x="552.00" y="58.60" width="9.00" height="5.41" fill="#f0a948"/>
<rect x="552.00" y="63.96" width="9.00" height="5.41" fill="#3aa84a"/>
<rect x="552.00" y="69.32" width="9.00" height="5.41" fill="#de3028"/>
<rect x="552.00" y="74.68" width="9.00" height="5.41" fill="#2f7fbf"/>
<rect x="552.00" y="80.04" width="9.00" height="5.36" fill="#fff"/>
<rect x="561.00" y="58.60" width="9.00" height="5.41" fill="#b5e59c"/>
<rect x="561.00" y="63.96" width="9.00" height="5.41" fill="#3aa84a"/>
<rect x="561.00" y="69.32" width="9.00" height="5.41" fill="#f9a4a4"/>
<rect x="561.00" y="74.68" width="9.00" height="5.41" fill="#b5d8e4"/>
<rect x="561.00" y="80.04" width="9.00" height="5.36" fill="#000"/>
<rect x="570.00" y="58.60" width="9.00" height="5.41" fill="#b5e59c"/>
<rect x="570.00" y="63.96" width="9.00" height="5.41" fill="#3aa84a"/>
<rect x="570.00" y="69.32" width="9.00" height="5.41" fill="#f9a4a4"/>
<rect x="570.00" y="74.68" width="9.00" height="5.41" fill="#2f7fbf"/>
<rect x="570.00" y="80.04" width="9.00" height="5.36" fill="#fff"/>
<rect x="579.00" y="58.60" width="9.00" height="5.41" fill="#f58d86"/>
<rect x="579.00" y="63.96" width="9.00" height="5.41" fill="#b6e6a0"/>
<rect x="579.00" y="69.32" width="9.00" height="5.41" fill="#de3028"/>
<rect x="579.00" y="74.68" width="9.00" height="5.41" fill="#2f7fbf"/>
<rect x="579.00" y="80.04" width="9.00" height="5.36" fill="#000"/>
<rect x="588.00" y="58.60" width="9.00" height="5.41" fill="#f58d86"/>
<rect x="588.00" y="63.96" width="9.00" height="5.41" fill="#b6e6a0"/>
<rect x="588.00" y="69.32" width="9.00" height="5.41" fill="#de3028"/>
<rect x="588.00" y="74.68" width="9.00" height="5.41" fill="#2f7fbf"/>
<rect x="588.00" y="80.04" width="9.00" height="5.36" fill="#fff"/>
<rect x="597.00" y="58.60" width="9.00" height="5.41" fill="#fdf5c2"/>
<rect x="597.00" y="63.96" width="9.00" height="5.41" fill="#f3fbe4"/>
<rect x="597.00" y="69.32" width="9.00" height="5.41" fill="#de3028"/>
<rect x="597.00" y="74.68" width="9.00" height="5.41" fill="#2f7fbf"/>
<rect x="597.00" y="80.04" width="9.00" height="5.36" fill="#000"/>
<rect x="606.00" y="58.60" width="9.00" height="5.41" fill="#fdf5c2"/>
<rect x="606.00" y="63.96" width="9.00" height="5.41" fill="#f3fbe4"/>
<rect x="606.00" y="69.32" width="9.00" height="5.41" fill="#de3028"/>
<rect x="606.00" y="74.68" width="9.00" height="5.41" fill="#2f7fbf"/>
<rect x="606.00" y="80.04" width="9.00" height="5.36" fill="#fff"/>
<rect x="615.00" y="58.60" width="9.00" height="5.41" fill="#dc5a3a"/>
<rect x="615.00" y="63.96" width="9.00" height="5.41" fill="#b6e6a0"/>
<rect x="615.00" y="69.32" width="9.00" height="5.41" fill="#de3028"/>
<rect x="615.00" y="74.68" width="9.00" height="5.41" fill="#2f7fbf"/>
<rect x="615.00" y="80.04" width="9.00" height="5.36" fill="#000"/>
<rect x="624.00" y="58.60" width="9.00" height="5.41" fill="#dc5a3a"/>
<rect x="624.00" y="63.96" width="9.00" height="5.41" fill="#b6e6a0"/>
<rect x="624.00" y="69.32" width="9.00" height="5.41" fill="#de3028"/>
<rect x="624.00" y="74.68" width="9.00" height="5.41" fill="#2f7fbf"/>
<rect x="624.00" y="80.04" width="9.00" height="5.36" fill="#fff"/>
<rect x="416.0" y="80.04" width="217.0" height="5.36" fill="none" stroke="#8fc4dc" stroke-width="0.5"/>
<text x="415.00" y="63.76" font-size="6.1" text-anchor="end" font-weight="bold" fill="#000">Sample pairs</text>
<text x="415.00" y="69.12" font-size="6.1" text-anchor="end" font-weight="bold" fill="#000">Grade</text>
<text x="415.00" y="74.48" font-size="6.1" text-anchor="end" font-weight="bold" fill="#000">PR</text>
<text x="415.00" y="79.84" font-size="6.1" text-anchor="end" font-weight="bold" fill="#000">ER</text>
<text x="415.00" y="85.20" font-size="6.1" text-anchor="end" font-weight="bold" fill="#000">HER2</text>
<path d="M421.7 58.3 L421.7 46.6 L431.0 46.6 L431.0 58.3" fill="none" stroke="#222" stroke-width="0.7"/>
<path d="M439.9 58.3 L439.9 49.3 L449.2 49.3 L449.2 58.3" fill="none" stroke="#222" stroke-width="0.7"/>
<path d="M458.0 58.3 L458.0 52.4 L466.9 52.4 L466.9 58.3" fill="none" stroke="#222" stroke-width="0.7"/>
<path d="M493.9 58.3 L493.9 52.7 L502.8 52.7 L502.8 58.3" fill="none" stroke="#222" stroke-width="0.7"/>
<path d="M511.6 58.3 L511.6 50.9 L520.4 50.9 L520.4 58.3" fill="none" stroke="#222" stroke-width="0.7"/>
<path d="M498.4 52.7 L498.4 48.4 L516.1 48.4 L516.1 50.9" fill="none" stroke="#222" stroke-width="0.7"/>
<path d="M485.4 58.3 L485.4 46.6 L507.2 46.6 L507.2 48.4" fill="none" stroke="#222" stroke-width="0.7"/>
<path d="M476.2 58.3 L476.2 41.9 L496.2 41.9 L496.2 46.6" fill="none" stroke="#222" stroke-width="0.7"/>
<path d="M462.4 52.4 L462.4 37.3 L486.2 37.3 L486.2 41.9" fill="none" stroke="#222" stroke-width="0.7"/>
<path d="M444.5 49.3 L444.5 36.5 L474.3 36.5 L474.3 37.3" fill="none" stroke="#222" stroke-width="0.7"/>
<path d="M529.1 58.3 L529.1 50.0 L538.3 50.0 L538.3 58.3" fill="none" stroke="#222" stroke-width="0.7"/>
<path d="M547.1 58.3 L547.1 50.0 L556.1 50.0 L556.1 58.3" fill="none" stroke="#222" stroke-width="0.7"/>
<path d="M565.0 58.3 L565.0 52.7 L574.1 52.7 L574.1 58.3" fill="none" stroke="#222" stroke-width="0.7"/>
<path d="M583.1 58.3 L583.1 48.9 L592.0 48.9 L592.0 58.3" fill="none" stroke="#222" stroke-width="0.7"/>
<path d="M601.1 58.3 L601.1 49.3 L610.1 49.3 L610.1 58.3" fill="none" stroke="#222" stroke-width="0.7"/>
<path d="M619.0 58.3 L619.0 46.9 L627.8 46.9 L627.8 58.3" fill="none" stroke="#222" stroke-width="0.7"/>
<path d="M605.6 49.3 L605.6 44.2 L623.5 44.2 L623.5 46.9" fill="none" stroke="#222" stroke-width="0.7"/>
<path d="M587.6 48.9 L587.6 43.5 L614.5 43.5 L614.5 44.2" fill="none" stroke="#222" stroke-width="0.7"/>
<path d="M569.6 52.7 L569.6 41.2 L601.1 41.2 L601.1 43.5" fill="none" stroke="#222" stroke-width="0.7"/>
<path d="M551.6 50.0 L551.6 38.5 L585.4 38.5 L585.4 41.2" fill="none" stroke="#222" stroke-width="0.7"/>
<path d="M533.7 50.0 L533.7 33.0 L568.5 33.0 L568.5 38.5" fill="none" stroke="#222" stroke-width="0.7"/>
<path d="M459.2 36.5 L459.2 30.8 L551.1 30.8 L551.1 33.0" fill="none" stroke="#222" stroke-width="0.7"/>
<path d="M426.3 46.6 L426.3 22.6 L505.1 22.6 L505.1 30.8" fill="none" stroke="#222" stroke-width="0.7"/>
<rect x="387.20" y="85.80" width="14.30" height="26.80" fill="#000"/>
<rect x="387.20" y="112.60" width="14.30" height="28.20" fill="#fff"/>
<rect x="387.20" y="140.80" width="14.30" height="25.30" fill="#000"/>
<rect x="387.20" y="166.10" width="14.30" height="21.50" fill="#fff"/>
<rect x="387.20" y="187.60" width="14.30" height="28.30" fill="#000"/>
<rect x="387.20" y="215.90" width="14.30" height="22.10" fill="#fff"/>
<rect x="387.20" y="238.00" width="14.30" height="19.80" fill="#000"/>
<rect x="387.20" y="257.80" width="14.30" height="16.00" fill="#fff"/>
<rect x="387.20" y="273.80" width="14.30" height="14.40" fill="#000"/>
<rect x="387.20" y="288.20" width="14.30" height="14.60" fill="#fff"/>
<rect x="387.20" y="302.80" width="14.30" height="16.20" fill="#000"/>
<rect x="387.20" y="319.00" width="14.30" height="16.90" fill="#fff"/>
<rect x="387.20" y="335.90" width="14.30" height="11.50" fill="#000"/>
<rect x="387.20" y="347.40" width="14.30" height="9.10" fill="#fff"/>
<rect x="387.20" y="356.50" width="14.30" height="10.50" fill="#000"/>
<rect x="387.20" y="367.00" width="14.30" height="10.10" fill="#fff"/>
<rect x="387.20" y="377.10" width="14.30" height="10.50" fill="#000"/>
<rect x="387.20" y="387.60" width="14.30" height="8.60" fill="#fff"/>
<rect x="387.20" y="396.20" width="14.30" height="9.10" fill="#000"/>
<rect x="387.20" y="405.30" width="14.30" height="6.70" fill="#fff"/>
<rect x="387.20" y="412.00" width="14.30" height="5.30" fill="#000"/>
<rect x="387.20" y="417.30" width="14.30" height="3.50" fill="#fff"/>
<rect x="387.20" y="420.80" width="14.30" height="16.70" fill="#000"/>
<rect x="387.2" y="85.8" width="14.3" height="351.7" fill="none" stroke="#000" stroke-width="0.8"/>
<text x="380.50" y="101.10" font-size="5.3" text-anchor="middle" font-weight="normal" fill="#000">1</text>
<text x="380.50" y="128.60" font-size="5.3" text-anchor="middle" font-weight="normal" fill="#000">2</text>
<text x="380.50" y="155.35" font-size="5.3" text-anchor="middle" font-weight="normal" fill="#000">3</text>
<text x="380.50" y="178.75" font-size="5.3" text-anchor="middle" font-weight="normal" fill="#000">4</text>
<text x="380.50" y="203.65" font-size="5.3" text-anchor="middle" font-weight="normal" fill="#000">5</text>
<text x="380.50" y="228.85" font-size="5.3" text-anchor="middle" font-weight="normal" fill="#000">6</text>
<text x="380.50" y="249.80" font-size="5.3" text-anchor="middle" font-weight="normal" fill="#000">7</text>
<text x="380.50" y="267.70" font-size="5.3" text-anchor="middle" font-weight="normal" fill="#000">8</text>
<text x="380.50" y="282.90" font-size="5.3" text-anchor="middle" font-weight="normal" fill="#000">9</text>
<text x="380.50" y="297.40" font-size="5.3" text-anchor="middle" font-weight="normal" fill="#000">10</text>
<text x="380.50" y="312.80" font-size="5.3" text-anchor="middle" font-weight="normal" fill="#000">11</text>
<text x="380.50" y="329.35" font-size="5.3" text-anchor="middle" font-weight="normal" fill="#000">12</text>
<text x="380.50" y="343.55" font-size="5.3" text-anchor="middle" font-weight="normal" fill="#000">13</text>
<text x="380.50" y="353.85" font-size="5.3" text-anchor="middle" font-weight="normal" fill="#000">14</text>
<text x="380.50" y="363.65" font-size="5.3" text-anchor="middle" font-weight="normal" fill="#000">15</text>
<text x="380.50" y="373.95" font-size="5.3" text-anchor="middle" font-weight="normal" fill="#000">16</text>
<text x="380.50" y="384.25" font-size="5.3" text-anchor="middle" font-weight="normal" fill="#000">17</text>
<text x="380.50" y="393.80" font-size="5.3" text-anchor="middle" font-weight="normal" fill="#000">18</text>
<text x="380.50" y="402.65" font-size="5.3" text-anchor="middle" font-weight="normal" fill="#000">19</text>
<text x="380.50" y="410.55" font-size="5.3" text-anchor="middle" font-weight="normal" fill="#000">20</text>
<text x="380.50" y="416.55" font-size="5.3" text-anchor="middle" font-weight="normal" fill="#000">21</text>
<text x="380.50" y="420.95" font-size="5.3" text-anchor="middle" font-weight="normal" fill="#000">22</text>
<text x="380.50" y="431.05" font-size="5.3" text-anchor="middle" font-weight="normal" fill="#000">X</text>
<rect x="385.80" y="484.00" width="21.80" height="100.00" fill="#000"/>
<text x="376.00" y="536.50" font-size="7.2" text-anchor="middle" font-weight="normal" fill="#111">17</text>
<line x1="387.40" y1="377.40" x2="407.20" y2="584.00" stroke="#b4b4b4" stroke-width="1.1"/>
<line x1="387.40" y1="387.50" x2="407.60" y2="484.00" stroke="#a8a8a8" stroke-width="1.1"/>
<rect x="427.00" y="484.49" width="13.00" height="41.29" fill="#aaa3e3"/>
<rect x="427.00" y="525.77" width="13.00" height="1.97" fill="#de3028"/>
<rect x="427.00" y="527.75" width="13.00" height="22.26" fill="#aaa3e3"/>
<rect x="427.00" y="560.78" width="13.00" height="1.08" fill="#aaa3e3"/>
<rect x="427.00" y="570.65" width="13.00" height="13.10" fill="#aaa3e3"/>
<rect x="440.00" y="509.26" width="13.00" height="1.26" fill="#aaa3e3"/>
<rect x="440.00" y="522.54" width="13.00" height="1.08" fill="#f9a2a2"/>
<rect x="440.00" y="571.19" width="13.00" height="1.44" fill="#aaa3e3"/>
<rect x="453.00" y="484.49" width="13.00" height="3.59" fill="#f9a2a2"/>
<rect x="453.00" y="488.80" width="13.00" height="3.41" fill="#f9a2a2"/>
<rect x="453.00" y="492.92" width="13.00" height="3.23" fill="#f9a2a2"/>
<rect x="453.00" y="496.16" width="13.00" height="3.95" fill="#aaa3e3"/>
<rect x="453.00" y="501.18" width="13.00" height="1.44" fill="#de3028"/>
<rect x="453.00" y="503.87" width="13.00" height="1.44" fill="#f9a2a2"/>
<rect x="453.00" y="505.31" width="13.00" height="1.26" fill="#de3028"/>
<rect x="453.00" y="508.36" width="13.00" height="3.23" fill="#aaa3e3"/>
<rect x="453.00" y="512.31" width="13.00" height="5.92" fill="#f9a2a2"/>
<rect x="453.00" y="518.23" width="13.00" height="0.90" fill="#de3028"/>
<rect x="453.00" y="524.88" width="13.00" height="2.15" fill="#de3028"/>
<rect x="453.00" y="536.00" width="13.00" height="2.87" fill="#de3028"/>
<rect x="453.00" y="538.88" width="13.00" height="1.08" fill="#f9a2a2"/>
<rect x="453.00" y="539.95" width="13.00" height="1.97" fill="#de3028"/>
<rect x="453.00" y="541.93" width="13.00" height="8.08" fill="#aaa3e3"/>
<rect x="453.00" y="550.01" width="13.00" height="3.95" fill="#de3028"/>
<rect x="453.00" y="553.95" width="13.00" height="1.08" fill="#f9a2a2"/>
<rect x="453.00" y="555.03" width="13.00" height="4.85" fill="#de3028"/>
<rect x="453.00" y="559.88" width="13.00" height="3.23" fill="#f9a2a2"/>
<rect x="453.00" y="563.11" width="13.00" height="1.26" fill="#de3028"/>
<rect x="453.00" y="564.37" width="13.00" height="1.44" fill="#f9a2a2"/>
<rect x="453.00" y="571.90" width="13.00" height="11.85" fill="#f9a2a2"/>
<rect x="466.00" y="484.49" width="13.00" height="1.44" fill="#f9a2a2"/>
<rect x="466.00" y="488.08" width="13.00" height="1.26" fill="#f9a2a2"/>
<rect x="466.00" y="491.49" width="13.00" height="1.44" fill="#f9a2a2"/>
<rect x="466.00" y="496.16" width="13.00" height="5.03" fill="#aaa3e3"/>
<rect x="466.00" y="501.90" width="13.00" height="1.44" fill="#f9a2a2"/>
<rect x="466.00" y="504.41" width="13.00" height="1.44" fill="#f9a2a2"/>
<rect x="466.00" y="508.36" width="13.00" height="3.23" fill="#aaa3e3"/>
<rect x="466.00" y="521.64" width="13.00" height="1.97" fill="#aaa3e3"/>
<rect x="466.00" y="524.88" width="13.00" height="2.15" fill="#f9a2a2"/>
<rect x="466.00" y="537.08" width="13.00" height="2.15" fill="#de3028"/>
<rect x="466.00" y="539.24" width="13.00" height="2.69" fill="#f9a2a2"/>
<rect x="466.00" y="541.93" width="13.00" height="8.08" fill="#aaa3e3"/>
<rect x="466.00" y="550.01" width="13.00" height="1.44" fill="#de3028"/>
<rect x="466.00" y="551.44" width="13.00" height="1.26" fill="#f9a2a2"/>
<rect x="466.00" y="552.70" width="13.00" height="1.26" fill="#de3028"/>
<rect x="466.00" y="553.95" width="13.00" height="1.44" fill="#f9a2a2"/>
<rect x="466.00" y="555.39" width="13.00" height="4.49" fill="#de3028"/>
<rect x="466.00" y="559.88" width="13.00" height="5.92" fill="#f9a2a2"/>
<rect x="466.00" y="571.90" width="13.00" height="3.23" fill="#f9a2a2"/>
<rect x="466.00" y="576.21" width="13.00" height="1.08" fill="#aaa3e3"/>
<rect x="466.00" y="578.37" width="13.00" height="1.08" fill="#aaa3e3"/>
<rect x="466.00" y="580.52" width="13.00" height="3.23" fill="#f9a2a2"/>
<rect x="479.00" y="484.49" width="13.00" height="27.82" fill="#aaa3e3"/>
<rect x="479.00" y="512.31" width="13.00" height="25.13" fill="#f9a2a2"/>
<rect x="479.00" y="537.44" width="13.00" height="6.28" fill="#de3028"/>
<rect x="479.00" y="543.72" width="13.00" height="1.26" fill="#f9a2a2"/>
<rect x="479.00" y="544.98" width="13.00" height="14.90" fill="#de3028"/>
<rect x="479.00" y="559.88" width="13.00" height="1.26" fill="#f9a2a2"/>
<rect x="479.00" y="561.13" width="13.00" height="22.62" fill="#de3028"/>
<rect x="492.00" y="484.49" width="12.00" height="27.82" fill="#aaa3e3"/>
<rect x="492.00" y="512.31" width="12.00" height="26.57" fill="#f9a2a2"/>
<rect x="492.00" y="538.88" width="12.00" height="4.85" fill="#de3028"/>
<rect x="492.00" y="543.72" width="12.00" height="1.26" fill="#f9a2a2"/>
<rect x="492.00" y="544.98" width="12.00" height="14.90" fill="#de3028"/>
<rect x="492.00" y="559.88" width="12.00" height="1.26" fill="#f9a2a2"/>
<rect x="492.00" y="561.13" width="12.00" height="22.62" fill="#de3028"/>
<rect x="504.00" y="500.64" width="13.00" height="2.69" fill="#aaa3e3"/>
<rect x="504.00" y="503.34" width="13.00" height="6.82" fill="#f9a2a2"/>
<rect x="504.00" y="511.41" width="13.00" height="1.26" fill="#aaa3e3"/>
<rect x="504.00" y="518.59" width="13.00" height="6.28" fill="#aaa3e3"/>
<rect x="504.00" y="524.88" width="13.00" height="2.15" fill="#f9a2a2"/>
<rect x="504.00" y="527.03" width="13.00" height="1.44" fill="#de3028"/>
<rect x="504.00" y="537.80" width="13.00" height="1.44" fill="#f9a2a2"/>
<rect x="504.00" y="541.93" width="13.00" height="7.18" fill="#aaa3e3"/>
<rect x="504.00" y="549.11" width="13.00" height="7.18" fill="#f9a2a2"/>
<rect x="504.00" y="556.29" width="13.00" height="1.26" fill="#aaa3e3"/>
<rect x="504.00" y="557.54" width="13.00" height="26.21" fill="#f9a2a2"/>
<rect x="517.00" y="484.49" width="13.00" height="7.18" fill="#f9a2a2"/>
<rect x="517.00" y="524.88" width="13.00" height="17.05" fill="#f9a2a2"/>
<rect x="517.00" y="541.93" width="13.00" height="7.18" fill="#aaa3e3"/>
<rect x="517.00" y="549.11" width="13.00" height="34.64" fill="#f9a2a2"/>
<rect x="530.00" y="523.08" width="13.00" height="1.44" fill="#f9a2a2"/>
<rect x="530.00" y="524.52" width="13.00" height="2.51" fill="#de3028"/>
<rect x="530.00" y="527.03" width="13.00" height="56.72" fill="#f9a2a2"/>
<rect x="543.00" y="506.57" width="13.00" height="2.15" fill="#f9a2a2"/>
<rect x="543.00" y="513.75" width="13.00" height="2.69" fill="#f9a2a2"/>
<rect x="543.00" y="582.32" width="13.00" height="1.44" fill="#f9a2a2"/>
<rect x="556.00" y="518.05" width="13.00" height="1.08" fill="#f9a2a2"/>
<rect x="556.00" y="524.88" width="13.00" height="2.15" fill="#de3028"/>
<rect x="556.00" y="527.03" width="13.00" height="7.72" fill="#f9a2a2"/>
<rect x="556.00" y="534.75" width="13.00" height="1.26" fill="#de3028"/>
<rect x="556.00" y="536.00" width="13.00" height="3.23" fill="#f9a2a2"/>
<rect x="556.00" y="539.24" width="13.00" height="1.80" fill="#de3028"/>
<rect x="556.00" y="541.03" width="13.00" height="42.72" fill="#f9a2a2"/>
<rect x="569.00" y="504.23" width="13.00" height="1.44" fill="#f9a2a2"/>
<rect x="569.00" y="511.95" width="13.00" height="0.90" fill="#aaa3e3"/>
<rect x="569.00" y="541.03" width="13.00" height="1.80" fill="#f9a2a2"/>
<rect x="569.00" y="550.01" width="13.00" height="33.75" fill="#f9a2a2"/>
<rect x="582.00" y="484.49" width="13.00" height="40.75" fill="#aaa3e3"/>
<rect x="582.00" y="525.23" width="13.00" height="2.87" fill="#de3028"/>
<rect x="582.00" y="528.11" width="13.00" height="9.69" fill="#aaa3e3"/>
<rect x="582.00" y="537.80" width="13.00" height="1.80" fill="#de3028"/>
<rect x="582.00" y="539.59" width="13.00" height="1.44" fill="#aaa3e3"/>
<rect x="582.00" y="541.03" width="13.00" height="1.44" fill="#de3028"/>
<rect x="582.00" y="542.47" width="13.00" height="1.80" fill="#aaa3e3"/>
<rect x="582.00" y="544.26" width="13.00" height="4.85" fill="#de3028"/>
<rect x="582.00" y="549.11" width="13.00" height="1.26" fill="#aaa3e3"/>
<rect x="582.00" y="550.36" width="13.00" height="9.51" fill="#de3028"/>
<rect x="582.00" y="559.88" width="13.00" height="2.69" fill="#aaa3e3"/>
<rect x="582.00" y="562.57" width="13.00" height="2.69" fill="#de3028"/>
<rect x="582.00" y="565.26" width="13.00" height="1.26" fill="#f9a2a2"/>
<rect x="582.00" y="566.52" width="13.00" height="1.80" fill="#de3028"/>
<rect x="582.00" y="568.31" width="13.00" height="6.82" fill="#f9a2a2"/>
<rect x="582.00" y="575.14" width="13.00" height="2.69" fill="#de3028"/>
<rect x="582.00" y="577.83" width="13.00" height="5.92" fill="#aaa3e3"/>
<rect x="595.00" y="484.49" width="13.00" height="52.95" fill="#aaa3e3"/>
<rect x="595.00" y="537.44" width="13.00" height="1.80" fill="#de3028"/>
<rect x="595.00" y="539.24" width="13.00" height="2.69" fill="#f9a2a2"/>
<rect x="595.00" y="545.52" width="13.00" height="4.85" fill="#f9a2a2"/>
<rect x="595.00" y="550.36" width="13.00" height="9.51" fill="#de3028"/>
<rect x="595.00" y="562.21" width="13.00" height="9.33" fill="#de3028"/>
<rect x="595.00" y="571.55" width="13.00" height="3.59" fill="#f9a2a2"/>
<rect x="595.00" y="575.14" width="13.00" height="2.69" fill="#de3028"/>
<rect x="595.00" y="577.83" width="13.00" height="5.92" fill="#aaa3e3"/>
<rect x="608.00" y="484.49" width="13.00" height="26.93" fill="#aaa3e3"/>
<rect x="608.00" y="515.90" width="13.00" height="6.28" fill="#aaa3e3"/>
<rect x="608.00" y="522.18" width="13.00" height="6.28" fill="#de3028"/>
<rect x="608.00" y="536.00" width="13.00" height="0.72" fill="#de3028"/>
<rect x="608.00" y="552.70" width="13.00" height="31.05" fill="#f9a2a2"/>
<rect x="621.00" y="484.49" width="13.00" height="56.54" fill="#aaa3e3"/>
<rect x="621.00" y="548.21" width="13.00" height="35.54" fill="#aaa3e3"/>
<rect x="634.00" y="484.49" width="13.00" height="40.75" fill="#aaa3e3"/>
<rect x="634.00" y="525.23" width="13.00" height="2.33" fill="#de3028"/>
<rect x="634.00" y="527.57" width="13.00" height="7.18" fill="#aaa3e3"/>
<rect x="634.00" y="546.77" width="13.00" height="0.90" fill="#de3028"/>
<rect x="647.00" y="507.28" width="13.00" height="1.80" fill="#f9a2a2"/>
<rect x="647.00" y="512.67" width="13.00" height="0.90" fill="#aaa3e3"/>
<rect x="647.00" y="518.05" width="13.00" height="8.26" fill="#aaa3e3"/>
<rect x="647.00" y="526.31" width="13.00" height="1.26" fill="#f9a2a2"/>
<rect x="647.00" y="527.57" width="13.00" height="5.39" fill="#aaa3e3"/>
<rect x="647.00" y="534.21" width="13.00" height="8.62" fill="#aaa3e3"/>
<rect x="647.00" y="545.52" width="13.00" height="8.44" fill="#f9a2a2"/>
<rect x="647.00" y="569.21" width="13.00" height="14.54" fill="#aaa3e3"/>
<rect x="660.00" y="484.49" width="12.00" height="25.67" fill="#aaa3e3"/>
<rect x="660.00" y="510.16" width="12.00" height="1.80" fill="#de3028"/>
<rect x="660.00" y="511.95" width="12.00" height="6.10" fill="#f9a2a2"/>
<rect x="660.00" y="518.05" width="12.00" height="5.92" fill="#de3028"/>
<rect x="660.00" y="523.98" width="12.00" height="1.80" fill="#aaa3e3"/>
<rect x="660.00" y="525.77" width="12.00" height="1.80" fill="#de3028"/>
<rect x="660.00" y="527.57" width="12.00" height="7.18" fill="#aaa3e3"/>
<rect x="660.00" y="534.75" width="12.00" height="1.26" fill="#f9a2a2"/>
<rect x="660.00" y="581.42" width="12.00" height="2.33" fill="#aaa3e3"/>
<rect x="672.00" y="484.49" width="13.00" height="41.29" fill="#aaa3e3"/>
<rect x="672.00" y="534.75" width="13.00" height="0.90" fill="#aaa3e3"/>
<rect x="685.00" y="505.13" width="13.00" height="7.18" fill="#f9a2a2"/>
<rect x="685.00" y="512.31" width="13.00" height="0.72" fill="#aaa3e3"/>
<rect x="685.00" y="513.03" width="13.00" height="5.56" fill="#f9a2a2"/>
<rect x="685.00" y="523.08" width="13.00" height="3.59" fill="#de3028"/>
<rect x="698.00" y="518.59" width="13.00" height="65.16" fill="#aaa3e3"/>
<rect x="711.00" y="484.49" width="13.00" height="22.44" fill="#aaa3e3"/>
<rect x="711.00" y="510.87" width="13.00" height="8.98" fill="#f9a2a2"/>
<rect x="711.00" y="519.85" width="13.00" height="6.82" fill="#de3028"/>
<rect x="711.00" y="526.67" width="13.00" height="24.23" fill="#aaa3e3"/>
<rect x="711.00" y="550.90" width="13.00" height="4.49" fill="#de3028"/>
<rect x="711.00" y="555.39" width="13.00" height="28.36" fill="#aaa3e3"/>
<rect x="724.00" y="484.49" width="13.00" height="22.44" fill="#aaa3e3"/>
<rect x="724.00" y="506.93" width="13.00" height="1.80" fill="#f9a2a2"/>
<rect x="724.00" y="512.67" width="13.00" height="0.90" fill="#aaa3e3"/>
<rect x="724.00" y="518.59" width="13.00" height="32.31" fill="#aaa3e3"/>
<rect x="427.0" y="484.5" width="310.0" height="99.3" fill="none" stroke="#777" stroke-width="0.5"/>
<line x1="737.00" y1="484.50" x2="737.00" y2="583.80" stroke="#333" stroke-width="0.8"/>
<rect x="427.00" y="456.90" width="13.00" height="5.35" fill="#8fc1bd"/>
<rect x="427.00" y="462.20" width="13.00" height="5.35" fill="#3aa84a"/>
<rect x="427.00" y="467.50" width="13.00" height="5.35" fill="#f9a4a4"/>
<rect x="427.00" y="472.80" width="13.00" height="5.35" fill="#2f7fbf"/>
<rect x="427.00" y="478.10" width="13.00" height="5.30" fill="#000"/>
<rect x="440.00" y="456.90" width="13.00" height="5.35" fill="#8fc1bd"/>
<rect x="440.00" y="462.20" width="13.00" height="5.35" fill="#b6e6a0"/>
<rect x="440.00" y="467.50" width="13.00" height="5.35" fill="#de3028"/>
<rect x="440.00" y="472.80" width="13.00" height="5.35" fill="#2f7fbf"/>
<rect x="440.00" y="478.10" width="13.00" height="5.30" fill="#fff"/>
<rect x="453.00" y="456.90" width="13.00" height="5.35" fill="#cfc6ea"/>
<rect x="453.00" y="462.20" width="13.00" height="5.35" fill="#3aa84a"/>
<rect x="453.00" y="467.50" width="13.00" height="5.35" fill="#f9a4a4"/>
<rect x="453.00" y="472.80" width="13.00" height="5.35" fill="#2f7fbf"/>
<rect x="453.00" y="478.10" width="13.00" height="5.30" fill="#000"/>
<rect x="466.00" y="456.90" width="13.00" height="5.35" fill="#cfc6ea"/>
<rect x="466.00" y="462.20" width="13.00" height="5.35" fill="#3aa84a"/>
<rect x="466.00" y="467.50" width="13.00" height="5.35" fill="#f9a4a4"/>
<rect x="466.00" y="472.80" width="13.00" height="5.35" fill="#2f7fbf"/>
<rect x="466.00" y="478.10" width="13.00" height="5.30" fill="#fff"/>
<rect x="479.00" y="456.90" width="13.00" height="5.35" fill="#2ea457"/>
<rect x="479.00" y="462.20" width="13.00" height="5.35" fill="#3aa84a"/>
<rect x="479.00" y="467.50" width="13.00" height="5.35" fill="#de3028"/>
<rect x="479.00" y="472.80" width="13.00" height="5.35" fill="#2f7fbf"/>
<rect x="479.00" y="478.10" width="13.00" height="5.30" fill="#000"/>
<rect x="492.00" y="456.90" width="12.00" height="5.35" fill="#2ea457"/>
<rect x="492.00" y="462.20" width="12.00" height="5.35" fill="#3aa84a"/>
<rect x="492.00" y="467.50" width="12.00" height="5.35" fill="#de3028"/>
<rect x="492.00" y="472.80" width="12.00" height="5.35" fill="#2f7fbf"/>
<rect x="492.00" y="478.10" width="12.00" height="5.30" fill="#fff"/>
<rect x="504.00" y="456.90" width="13.00" height="5.35" fill="#8b70c6"/>
<rect x="504.00" y="462.20" width="13.00" height="5.35" fill="#3aa84a"/>
<rect x="504.00" y="467.50" width="13.00" height="5.35" fill="#f9a4a4"/>
<rect x="504.00" y="472.80" width="13.00" height="5.35" fill="#2f7fbf"/>
<rect x="504.00" y="478.10" width="13.00" height="5.30" fill="#fff"/>
<rect x="517.00" y="456.90" width="13.00" height="5.35" fill="#8b70c6"/>
<rect x="517.00" y="462.20" width="13.00" height="5.35" fill="#3aa84a"/>
<rect x="517.00" y="467.50" width="13.00" height="5.35" fill="#f9a4a4"/>
<rect x="517.00" y="472.80" width="13.00" height="5.35" fill="#2f7fbf"/>
<rect x="517.00" y="478.10" width="13.00" height="5.30" fill="#000"/>
<rect x="530.00" y="456.90" width="13.00" height="5.35" fill="#f6b97a"/>
<rect x="530.00" y="462.20" width="13.00" height="5.35" fill="#3aa84a"/>
<rect x="530.00" y="467.50" width="13.00" height="5.35" fill="#f9a4a4"/>
<rect x="530.00" y="472.80" width="13.00" height="5.35" fill="#b5d8e4"/>
<rect x="530.00" y="478.10" width="13.00" height="5.30" fill="#000"/>
<rect x="543.00" y="456.90" width="13.00" height="5.35" fill="#f6b97a"/>
<rect x="543.00" y="462.20" width="13.00" height="5.35" fill="#3aa84a"/>
<rect x="543.00" y="467.50" width="13.00" height="5.35" fill="#de3028"/>
<rect x="543.00" y="472.80" width="13.00" height="5.35" fill="#2f7fbf"/>
<rect x="543.00" y="478.10" width="13.00" height="5.30" fill="#fff"/>
<rect x="556.00" y="456.90" width="13.00" height="5.35" fill="#e02a8b"/>
<rect x="556.00" y="462.20" width="13.00" height="5.35" fill="#3aa84a"/>
<rect x="556.00" y="467.50" width="13.00" height="5.35" fill="#de3028"/>
<rect x="556.00" y="472.80" width="13.00" height="5.35" fill="#2f7fbf"/>
<rect x="556.00" y="478.10" width="13.00" height="5.30" fill="#000"/>
<rect x="569.00" y="456.90" width="13.00" height="5.35" fill="#e02a8b"/>
<rect x="569.00" y="462.20" width="13.00" height="5.35" fill="#3aa84a"/>
<rect x="569.00" y="467.50" width="13.00" height="5.35" fill="#de3028"/>
<rect x="569.00" y="472.80" width="13.00" height="5.35" fill="#2f7fbf"/>
<rect x="569.00" y="478.10" width="13.00" height="5.30" fill="#fff"/>
<rect x="582.00" y="456.90" width="13.00" height="5.35" fill="#5cab52"/>
<rect x="582.00" y="462.20" width="13.00" height="5.35" fill="#3aa84a"/>
<rect x="582.00" y="467.50" width="13.00" height="5.35" fill="#f9a4a4"/>
<rect x="582.00" y="472.80" width="13.00" height="5.35" fill="#2f7fbf"/>
<rect x="582.00" y="478.10" width="13.00" height="5.30" fill="#000"/>
<rect x="595.00" y="456.90" width="13.00" height="5.35" fill="#5cab52"/>
<rect x="595.00" y="462.20" width="13.00" height="5.35" fill="#3aa84a"/>
<rect x="595.00" y="467.50" width="13.00" height="5.35" fill="#f9a4a4"/>
<rect x="595.00" y="472.80" width="13.00" height="5.35" fill="#2f7fbf"/>
<rect x="595.00" y="478.10" width="13.00" height="5.30" fill="#fff"/>
<rect x="608.00" y="456.90" width="13.00" height="5.35" fill="#f0a948"/>
<rect x="608.00" y="462.20" width="13.00" height="5.35" fill="#b6e6a0"/>
<rect x="608.00" y="467.50" width="13.00" height="5.35" fill="#f9a4a4"/>
<rect x="608.00" y="472.80" width="13.00" height="5.35" fill="#2f7fbf"/>
<rect x="608.00" y="478.10" width="13.00" height="5.30" fill="#000"/>
<rect x="621.00" y="456.90" width="13.00" height="5.35" fill="#f0a948"/>
<rect x="621.00" y="462.20" width="13.00" height="5.35" fill="#3aa84a"/>
<rect x="621.00" y="467.50" width="13.00" height="5.35" fill="#de3028"/>
<rect x="621.00" y="472.80" width="13.00" height="5.35" fill="#2f7fbf"/>
<rect x="621.00" y="478.10" width="13.00" height="5.30" fill="#fff"/>
<rect x="634.00" y="456.90" width="13.00" height="5.35" fill="#b5e59c"/>
<rect x="634.00" y="462.20" width="13.00" height="5.35" fill="#3aa84a"/>
<rect x="634.00" y="467.50" width="13.00" height="5.35" fill="#f9a4a4"/>
<rect x="634.00" y="472.80" width="13.00" height="5.35" fill="#b5d8e4"/>
<rect x="634.00" y="478.10" width="13.00" height="5.30" fill="#000"/>
<rect x="647.00" y="456.90" width="13.00" height="5.35" fill="#b5e59c"/>
<rect x="647.00" y="462.20" width="13.00" height="5.35" fill="#3aa84a"/>
<rect x="647.00" y="467.50" width="13.00" height="5.35" fill="#f9a4a4"/>
<rect x="647.00" y="472.80" width="13.00" height="5.35" fill="#2f7fbf"/>
<rect x="647.00" y="478.10" width="13.00" height="5.30" fill="#fff"/>
<rect x="660.00" y="456.90" width="12.00" height="5.35" fill="#f58d86"/>
<rect x="660.00" y="462.20" width="12.00" height="5.35" fill="#b6e6a0"/>
<rect x="660.00" y="467.50" width="12.00" height="5.35" fill="#de3028"/>
<rect x="660.00" y="472.80" width="12.00" height="5.35" fill="#2f7fbf"/>
<rect x="660.00" y="478.10" width="12.00" height="5.30" fill="#000"/>
<rect x="672.00" y="456.90" width="13.00" height="5.35" fill="#f58d86"/>
<rect x="672.00" y="462.20" width="13.00" height="5.35" fill="#b6e6a0"/>
<rect x="672.00" y="467.50" width="13.00" height="5.35" fill="#de3028"/>
<rect x="672.00" y="472.80" width="13.00" height="5.35" fill="#2f7fbf"/>
<rect x="672.00" y="478.10" width="13.00" height="5.30" fill="#fff"/>
<rect x="685.00" y="456.90" width="13.00" height="5.35" fill="#fdf5c2"/>
<rect x="685.00" y="462.20" width="13.00" height="5.35" fill="#f3fbe4"/>
<rect x="685.00" y="467.50" width="13.00" height="5.35" fill="#de3028"/>
<rect x="685.00" y="472.80" width="13.00" height="5.35" fill="#2f7fbf"/>
<rect x="685.00" y="478.10" width="13.00" height="5.30" fill="#000"/>
<rect x="698.00" y="456.90" width="13.00" height="5.35" fill="#fdf5c2"/>
<rect x="698.00" y="462.20" width="13.00" height="5.35" fill="#f3fbe4"/>
<rect x="698.00" y="467.50" width="13.00" height="5.35" fill="#de3028"/>
<rect x="698.00" y="472.80" width="13.00" height="5.35" fill="#2f7fbf"/>
<rect x="698.00" y="478.10" width="13.00" height="5.30" fill="#fff"/>
<rect x="711.00" y="456.90" width="13.00" height="5.35" fill="#dc5a3a"/>
<rect x="711.00" y="462.20" width="13.00" height="5.35" fill="#b6e6a0"/>
<rect x="711.00" y="467.50" width="13.00" height="5.35" fill="#de3028"/>
<rect x="711.00" y="472.80" width="13.00" height="5.35" fill="#2f7fbf"/>
<rect x="711.00" y="478.10" width="13.00" height="5.30" fill="#000"/>
<rect x="724.00" y="456.90" width="13.00" height="5.35" fill="#dc5a3a"/>
<rect x="724.00" y="462.20" width="13.00" height="5.35" fill="#b6e6a0"/>
<rect x="724.00" y="467.50" width="13.00" height="5.35" fill="#de3028"/>
<rect x="724.00" y="472.80" width="13.00" height="5.35" fill="#2f7fbf"/>
<rect x="724.00" y="478.10" width="13.00" height="5.30" fill="#fff"/>
<rect x="427.0" y="478.10" width="310.0" height="5.30" fill="none" stroke="#8fc4dc" stroke-width="0.5"/>
<text x="426.00" y="462.00" font-size="6.1" text-anchor="end" font-weight="bold" fill="#000">Pairs</text>
<text x="426.00" y="467.30" font-size="6.1" text-anchor="end" font-weight="bold" fill="#000">Grade</text>
<text x="426.00" y="472.60" font-size="6.1" text-anchor="end" font-weight="bold" fill="#000">PR</text>
<text x="426.00" y="477.90" font-size="6.1" text-anchor="end" font-weight="bold" fill="#000">ER</text>
<text x="426.00" y="483.20" font-size="6.1" text-anchor="end" font-weight="bold" fill="#000">HER2</text>
<text x="739.3" y="528.7" font-size="6.0" fill="#000"><tspan font-weight="bold" font-style="italic">HER2</tspan> (17q12)</text>
<text x="641.50" y="64.00" font-size="6.2" text-anchor="start" font-weight="bold" fill="#000">Sample pairs</text>
<rect x="642.30" y="65.70" width="4.60" height="7.80" fill="#2ea457"/>
<text x="648.80" y="71.70" font-size="6.2" text-anchor="start" font-weight="normal" fill="#111">T1</text>
<rect x="642.30" y="73.42" width="4.60" height="7.80" fill="#dc5a3a"/>
<text x="648.80" y="79.42" font-size="6.2" text-anchor="start" font-weight="normal" fill="#111">T2</text>
<rect x="642.30" y="81.14" width="4.60" height="7.80" fill="#8b70c6"/>
<text x="648.80" y="87.14" font-size="6.2" text-anchor="start" font-weight="normal" fill="#111">T3</text>
<rect x="642.30" y="88.86" width="4.60" height="7.80" fill="#e02a8b"/>
<text x="648.80" y="94.86" font-size="6.2" text-anchor="start" font-weight="normal" fill="#111">T4</text>
<rect x="642.30" y="96.58" width="4.60" height="7.80" fill="#5cab52"/>
<text x="648.80" y="102.58" font-size="6.2" text-anchor="start" font-weight="normal" fill="#111">T5</text>
<rect x="642.30" y="104.30" width="4.60" height="7.80" fill="#f0a948"/>
<text x="648.80" y="110.30" font-size="6.2" text-anchor="start" font-weight="normal" fill="#111">T6</text>
<rect x="642.30" y="112.02" width="4.60" height="7.80" fill="#b5e59c"/>
<text x="648.80" y="118.02" font-size="6.2" text-anchor="start" font-weight="normal" fill="#111">T8</text>
<rect x="642.30" y="119.74" width="4.60" height="7.80" fill="#fdf5c2"/>
<text x="648.80" y="125.74" font-size="6.2" text-anchor="start" font-weight="normal" fill="#111">T9</text>
<rect x="642.30" y="127.46" width="4.60" height="7.80" fill="#cfc6ea"/>
<text x="648.80" y="133.46" font-size="6.2" text-anchor="start" font-weight="normal" fill="#111">T10</text>
<rect x="642.30" y="135.18" width="4.60" height="7.80" fill="#f58d86"/>
<text x="648.80" y="141.18" font-size="6.2" text-anchor="start" font-weight="normal" fill="#111">T11</text>
<rect x="642.30" y="142.90" width="4.60" height="7.80" fill="#8fc1bd"/>
<text x="648.80" y="148.90" font-size="6.2" text-anchor="start" font-weight="normal" fill="#111">T12</text>
<rect x="642.30" y="150.62" width="4.60" height="7.80" fill="#f6b97a"/>
<text x="648.80" y="156.62" font-size="6.2" text-anchor="start" font-weight="normal" fill="#111">T13</text>
<text x="641.50" y="186.00" font-size="6.2" text-anchor="start" font-weight="bold" fill="#000">Histologic grade</text>
<rect x="642.30" y="187.10" width="4.60" height="8.40" fill="#f3fbe4"/>
<text x="648.80" y="193.40" font-size="6.2" text-anchor="start" font-weight="normal" fill="#111">Grade 1</text>
<rect x="642.30" y="195.60" width="4.60" height="8.40" fill="#b6e6a0"/>
<text x="648.80" y="201.90" font-size="6.2" text-anchor="start" font-weight="normal" fill="#111">Grade 2</text>
<rect x="642.30" y="204.10" width="4.60" height="8.40" fill="#3aa84a"/>
<text x="648.80" y="210.40" font-size="6.2" text-anchor="start" font-weight="normal" fill="#111">Grade 3</text>
<text x="641.50" y="239.60" font-size="6.2" text-anchor="start" font-weight="bold" fill="#000">PR status</text>
<rect x="642.30" y="241.80" width="4.60" height="8.00" fill="#de3028"/>
<text x="648.80" y="247.90" font-size="6.2" text-anchor="start" font-weight="normal" fill="#111">positive</text>
<rect x="642.30" y="249.80" width="4.60" height="8.00" fill="#f9a4a4"/>
<text x="648.80" y="255.90" font-size="6.2" text-anchor="start" font-weight="normal" fill="#111">negative</text>
<text x="641.50" y="293.70" font-size="6.2" text-anchor="start" font-weight="bold" fill="#000">ER status</text>
<rect x="642.30" y="295.90" width="4.60" height="8.00" fill="#2f7fbf"/>
<text x="648.80" y="302.00" font-size="6.2" text-anchor="start" font-weight="normal" fill="#111">positive</text>
<rect x="642.30" y="304.10" width="4.60" height="8.00" fill="#b5d8e4"/>
<text x="648.80" y="310.20" font-size="6.2" text-anchor="start" font-weight="normal" fill="#111">negative</text>
<text x="641.50" y="342.90" font-size="6.2" text-anchor="start" font-weight="bold" fill="#000">HER2 status</text>
<rect x="642.30" y="345.00" width="4.60" height="8.00" fill="#000"/>
<text x="648.80" y="351.10" font-size="6.2" text-anchor="start" font-weight="normal" fill="#111">amplified</text>
<rect x="642.3" y="353" width="4.6" height="8" fill="#fff" stroke="#000" stroke-width="0.5"/>
<text x="648.80" y="359.10" font-size="6.2" text-anchor="start" font-weight="normal" fill="#111">non-amplified</text>
<rect x="641.50" y="383.50" width="9.00" height="10.90" fill="#e0261f"/>
<text x="652.8" y="390.9" font-size="6" fill="#000" textLength="10.3" lengthAdjust="spacingAndGlyphs">Amp</text>
<rect x="641.50" y="394.35" width="9.00" height="10.90" fill="#fb9c9c"/>
<text x="652.8" y="401.8" font-size="6" fill="#000" textLength="10.3" lengthAdjust="spacingAndGlyphs">Gain</text>
<rect x="641.50" y="405.20" width="9.00" height="10.90" fill="#ffffff"/>
<text x="652.8" y="412.6" font-size="6" fill="#000" textLength="7" lengthAdjust="spacingAndGlyphs">NC</text>
<rect x="641.50" y="416.05" width="9.00" height="10.90" fill="#9f96dc"/>
<text x="652.8" y="423.4" font-size="6" fill="#000" textLength="10.3" lengthAdjust="spacingAndGlyphs">Loss</text>
<rect x="641.50" y="426.90" width="9.00" height="10.90" fill="#414b47"/>
<text x="652.8" y="434.3" font-size="6" fill="#000" textLength="7" lengthAdjust="spacingAndGlyphs">Del</text>
<text x="1.00" y="11.40" font-size="12" text-anchor="start" font-weight="bold" fill="#000">A</text>
<text x="351.50" y="11.40" font-size="12" text-anchor="start" font-weight="bold" fill="#000">B</text>
<rect x="57.30" y="39.70" width="242.00" height="7.60" fill="#fdebd2"/>
<rect x="57.30" y="47.30" width="242.00" height="51.10" fill="#fff"/>
<line x1="71.70" y1="47.30" x2="71.70" y2="98.40" stroke="#ababab" stroke-width="0.7"/>
<line x1="87.10" y1="47.30" x2="87.10" y2="98.40" stroke="#ababab" stroke-width="0.7"/>
<line x1="103.50" y1="47.30" x2="103.50" y2="98.40" stroke="#ababab" stroke-width="0.7"/>
<line x1="116.80" y1="47.30" x2="116.80" y2="98.40" stroke="#ababab" stroke-width="0.7"/>
<line x1="129.70" y1="47.30" x2="129.70" y2="98.40" stroke="#ababab" stroke-width="0.7"/>
<line x1="141.60" y1="47.30" x2="141.60" y2="98.40" stroke="#ababab" stroke-width="0.7"/>
<line x1="153.60" y1="47.30" x2="153.60" y2="98.40" stroke="#ababab" stroke-width="0.7"/>
<line x1="164.60" y1="47.30" x2="164.60" y2="98.40" stroke="#ababab" stroke-width="0.7"/>
<line x1="174.60" y1="47.30" x2="174.60" y2="98.40" stroke="#ababab" stroke-width="0.7"/>
<line x1="184.50" y1="47.30" x2="184.50" y2="98.40" stroke="#ababab" stroke-width="0.7"/>
<line x1="194.60" y1="47.30" x2="194.60" y2="98.40" stroke="#ababab" stroke-width="0.7"/>
<line x1="203.90" y1="47.30" x2="203.90" y2="98.40" stroke="#ababab" stroke-width="0.7"/>
<line x1="213.40" y1="47.30" x2="213.40" y2="98.40" stroke="#ababab" stroke-width="0.7"/>
<line x1="222.10" y1="47.30" x2="222.10" y2="98.40" stroke="#ababab" stroke-width="0.7"/>
<line x1="229.30" y1="47.30" x2="229.30" y2="98.40" stroke="#ababab" stroke-width="0.7"/>
<line x1="236.80" y1="47.30" x2="236.80" y2="98.40" stroke="#ababab" stroke-width="0.7"/>
<line x1="243.50" y1="47.30" x2="243.50" y2="98.40" stroke="#ababab" stroke-width="0.7"/>
<line x1="250.20" y1="47.30" x2="250.20" y2="98.40" stroke="#ababab" stroke-width="0.7"/>
<line x1="255.50" y1="47.30" x2="255.50" y2="98.40" stroke="#ababab" stroke-width="0.7"/>
<line x1="260.70" y1="47.30" x2="260.70" y2="98.40" stroke="#ababab" stroke-width="0.7"/>
<line x1="265.60" y1="47.30" x2="265.60" y2="98.40" stroke="#ababab" stroke-width="0.7"/>
<line x1="269.40" y1="47.30" x2="269.40" y2="98.40" stroke="#ababab" stroke-width="0.7"/>
<line x1="273.60" y1="47.30" x2="273.60" y2="98.40" stroke="#ababab" stroke-width="0.7"/>
<line x1="285.30" y1="47.30" x2="285.30" y2="98.40" stroke="#ababab" stroke-width="0.7"/>
<text x="178.30" y="45.50" font-size="6.1" text-anchor="middle" font-weight="normal" fill="#1a1a1a">Not–Amp</text>
<rect x="57.30" y="98.40" width="242.00" height="7.40" fill="#fdebd2"/>
<rect x="57.30" y="105.80" width="242.00" height="50.50" fill="#fff"/>
<line x1="71.70" y1="105.80" x2="71.70" y2="156.30" stroke="#ababab" stroke-width="0.7"/>
<line x1="87.10" y1="105.80" x2="87.10" y2="156.30" stroke="#ababab" stroke-width="0.7"/>
<line x1="103.50" y1="105.80" x2="103.50" y2="156.30" stroke="#ababab" stroke-width="0.7"/>
<line x1="116.80" y1="105.80" x2="116.80" y2="156.30" stroke="#ababab" stroke-width="0.7"/>
<line x1="129.70" y1="105.80" x2="129.70" y2="156.30" stroke="#ababab" stroke-width="0.7"/>
<line x1="141.60" y1="105.80" x2="141.60" y2="156.30" stroke="#ababab" stroke-width="0.7"/>
<line x1="153.60" y1="105.80" x2="153.60" y2="156.30" stroke="#ababab" stroke-width="0.7"/>
<line x1="164.60" y1="105.80" x2="164.60" y2="156.30" stroke="#ababab" stroke-width="0.7"/>
<line x1="174.60" y1="105.80" x2="174.60" y2="156.30" stroke="#ababab" stroke-width="0.7"/>
<line x1="184.50" y1="105.80" x2="184.50" y2="156.30" stroke="#ababab" stroke-width="0.7"/>
<line x1="194.60" y1="105.80" x2="194.60" y2="156.30" stroke="#ababab" stroke-width="0.7"/>
<line x1="203.90" y1="105.80" x2="203.90" y2="156.30" stroke="#ababab" stroke-width="0.7"/>
<line x1="213.40" y1="105.80" x2="213.40" y2="156.30" stroke="#ababab" stroke-width="0.7"/>
<line x1="222.10" y1="105.80" x2="222.10" y2="156.30" stroke="#ababab" stroke-width="0.7"/>
<line x1="229.30" y1="105.80" x2="229.30" y2="156.30" stroke="#ababab" stroke-width="0.7"/>
<line x1="236.80" y1="105.80" x2="236.80" y2="156.30" stroke="#ababab" stroke-width="0.7"/>
<line x1="243.50" y1="105.80" x2="243.50" y2="156.30" stroke="#ababab" stroke-width="0.7"/>
<line x1="250.20" y1="105.80" x2="250.20" y2="156.30" stroke="#ababab" stroke-width="0.7"/>
<line x1="255.50" y1="105.80" x2="255.50" y2="156.30" stroke="#ababab" stroke-width="0.7"/>
<line x1="260.70" y1="105.80" x2="260.70" y2="156.30" stroke="#ababab" stroke-width="0.7"/>
<line x1="265.60" y1="105.80" x2="265.60" y2="156.30" stroke="#ababab" stroke-width="0.7"/>
<line x1="269.40" y1="105.80" x2="269.40" y2="156.30" stroke="#ababab" stroke-width="0.7"/>
<line x1="273.60" y1="105.80" x2="273.60" y2="156.30" stroke="#ababab" stroke-width="0.7"/>
<line x1="285.30" y1="105.80" x2="285.30" y2="156.30" stroke="#ababab" stroke-width="0.7"/>
<text x="178.30" y="104.00" font-size="6.1" text-anchor="middle" font-weight="normal" fill="#1a1a1a">Amp</text>
<rect x="57.30" y="156.30" width="242.00" height="7.70" fill="#fdebd2"/>
<rect x="57.30" y="164.00" width="242.00" height="50.00" fill="#fff"/>
<line x1="71.70" y1="164.00" x2="71.70" y2="214.00" stroke="#ababab" stroke-width="0.7"/>
<line x1="87.10" y1="164.00" x2="87.10" y2="214.00" stroke="#ababab" stroke-width="0.7"/>
<line x1="103.50" y1="164.00" x2="103.50" y2="214.00" stroke="#ababab" stroke-width="0.7"/>
<line x1="116.80" y1="164.00" x2="116.80" y2="214.00" stroke="#ababab" stroke-width="0.7"/>
<line x1="129.70" y1="164.00" x2="129.70" y2="214.00" stroke="#ababab" stroke-width="0.7"/>
<line x1="141.60" y1="164.00" x2="141.60" y2="214.00" stroke="#ababab" stroke-width="0.7"/>
<line x1="153.60" y1="164.00" x2="153.60" y2="214.00" stroke="#ababab" stroke-width="0.7"/>
<line x1="164.60" y1="164.00" x2="164.60" y2="214.00" stroke="#ababab" stroke-width="0.7"/>
<line x1="174.60" y1="164.00" x2="174.60" y2="214.00" stroke="#ababab" stroke-width="0.7"/>
<line x1="184.50" y1="164.00" x2="184.50" y2="214.00" stroke="#ababab" stroke-width="0.7"/>
<line x1="194.60" y1="164.00" x2="194.60" y2="214.00" stroke="#ababab" stroke-width="0.7"/>
<line x1="203.90" y1="164.00" x2="203.90" y2="214.00" stroke="#ababab" stroke-width="0.7"/>
<line x1="213.40" y1="164.00" x2="213.40" y2="214.00" stroke="#ababab" stroke-width="0.7"/>
<line x1="222.10" y1="164.00" x2="222.10" y2="214.00" stroke="#ababab" stroke-width="0.7"/>
<line x1="229.30" y1="164.00" x2="229.30" y2="214.00" stroke="#ababab" stroke-width="0.7"/>
<line x1="236.80" y1="164.00" x2="236.80" y2="214.00" stroke="#ababab" stroke-width="0.7"/>
<line x1="243.50" y1="164.00" x2="243.50" y2="214.00" stroke="#ababab" stroke-width="0.7"/>
<line x1="250.20" y1="164.00" x2="250.20" y2="214.00" stroke="#ababab" stroke-width="0.7"/>
<line x1="255.50" y1="164.00" x2="255.50" y2="214.00" stroke="#ababab" stroke-width="0.7"/>
<line x1="260.70" y1="164.00" x2="260.70" y2="214.00" stroke="#ababab" stroke-width="0.7"/>
<line x1="265.60" y1="164.00" x2="265.60" y2="214.00" stroke="#ababab" stroke-width="0.7"/>
<line x1="269.40" y1="164.00" x2="269.40" y2="214.00" stroke="#ababab" stroke-width="0.7"/>
<line x1="273.60" y1="164.00" x2="273.60" y2="214.00" stroke="#ababab" stroke-width="0.7"/>
<line x1="285.30" y1="164.00" x2="285.30" y2="214.00" stroke="#ababab" stroke-width="0.7"/>
<text x="178.30" y="162.20" font-size="6.1" text-anchor="middle" font-weight="normal" fill="#1a1a1a">log.Fisher.p.values</text>
<rect x="57.3" y="39.7" width="242.0" height="7.60" fill="none" stroke="#000" stroke-width="1.0"/>
<rect x="57.3" y="47.3" width="242.0" height="51.10" fill="none" stroke="#000" stroke-width="0.9"/>
<rect x="57.3" y="98.4" width="242.0" height="7.40" fill="none" stroke="#000" stroke-width="1.0"/>
<rect x="57.3" y="105.8" width="242.0" height="50.50" fill="none" stroke="#000" stroke-width="0.9"/>
<rect x="57.3" y="156.3" width="242.0" height="7.70" fill="none" stroke="#000" stroke-width="1.0"/>
<rect x="57.3" y="164.0" width="242.0" height="50.00" fill="none" stroke="#000" stroke-width="0.9"/>
<text x="176.00" y="32.60" font-size="10.6" text-anchor="middle" font-weight="bold" fill="#000">Gains and losses</text>
<line x1="79.40" y1="39.70" x2="79.40" y2="37.10" stroke="#000" stroke-width="0.6"/>
<line x1="79.40" y1="214.00" x2="79.40" y2="216.60" stroke="#000" stroke-width="0.6"/>
<text x="79.40" y="222.50" font-size="4.0" text-anchor="middle" font-weight="normal" fill="#222">1</text>
<line x1="95.30" y1="39.70" x2="95.30" y2="37.10" stroke="#000" stroke-width="0.6"/>
<line x1="95.30" y1="214.00" x2="95.30" y2="216.60" stroke="#000" stroke-width="0.6"/>
<text x="95.30" y="222.50" font-size="4.0" text-anchor="middle" font-weight="normal" fill="#222">2</text>
<line x1="110.15" y1="39.70" x2="110.15" y2="37.10" stroke="#000" stroke-width="0.6"/>
<line x1="110.15" y1="214.00" x2="110.15" y2="216.60" stroke="#000" stroke-width="0.6"/>
<text x="110.15" y="222.50" font-size="4.0" text-anchor="middle" font-weight="normal" fill="#222">3</text>
<line x1="123.25" y1="39.70" x2="123.25" y2="37.10" stroke="#000" stroke-width="0.6"/>
<line x1="123.25" y1="214.00" x2="123.25" y2="216.60" stroke="#000" stroke-width="0.6"/>
<text x="123.25" y="222.50" font-size="4.0" text-anchor="middle" font-weight="normal" fill="#222">4</text>
<line x1="135.65" y1="39.70" x2="135.65" y2="37.10" stroke="#000" stroke-width="0.6"/>
<line x1="135.65" y1="214.00" x2="135.65" y2="216.60" stroke="#000" stroke-width="0.6"/>
<text x="135.65" y="222.50" font-size="4.0" text-anchor="middle" font-weight="normal" fill="#222">5</text>
<line x1="147.60" y1="39.70" x2="147.60" y2="37.10" stroke="#000" stroke-width="0.6"/>
<line x1="147.60" y1="214.00" x2="147.60" y2="216.60" stroke="#000" stroke-width="0.6"/>
<text x="147.60" y="222.50" font-size="4.0" text-anchor="middle" font-weight="normal" fill="#222">6</text>
<line x1="159.10" y1="39.70" x2="159.10" y2="37.10" stroke="#000" stroke-width="0.6"/>
<line x1="159.10" y1="214.00" x2="159.10" y2="216.60" stroke="#000" stroke-width="0.6"/>
<text x="159.10" y="222.50" font-size="4.0" text-anchor="middle" font-weight="normal" fill="#222">7</text>
<line x1="169.60" y1="39.70" x2="169.60" y2="37.10" stroke="#000" stroke-width="0.6"/>
<line x1="169.60" y1="214.00" x2="169.60" y2="216.60" stroke="#000" stroke-width="0.6"/>
<text x="169.60" y="222.50" font-size="4.0" text-anchor="middle" font-weight="normal" fill="#222">8</text>
<line x1="179.55" y1="39.70" x2="179.55" y2="37.10" stroke="#000" stroke-width="0.6"/>
<line x1="179.55" y1="214.00" x2="179.55" y2="216.60" stroke="#000" stroke-width="0.6"/>
<text x="179.55" y="222.50" font-size="4.0" text-anchor="middle" font-weight="normal" fill="#222">9</text>
<line x1="189.55" y1="39.70" x2="189.55" y2="37.10" stroke="#000" stroke-width="0.6"/>
<line x1="189.55" y1="214.00" x2="189.55" y2="216.60" stroke="#000" stroke-width="0.6"/>
<text x="189.55" y="222.50" font-size="4.0" text-anchor="middle" font-weight="normal" fill="#222">10</text>
<line x1="199.25" y1="39.70" x2="199.25" y2="37.10" stroke="#000" stroke-width="0.6"/>
<line x1="199.25" y1="214.00" x2="199.25" y2="216.60" stroke="#000" stroke-width="0.6"/>
<text x="199.25" y="222.50" font-size="4.0" text-anchor="middle" font-weight="normal" fill="#222">11</text>
<line x1="208.65" y1="39.70" x2="208.65" y2="37.10" stroke="#000" stroke-width="0.6"/>
<line x1="208.65" y1="214.00" x2="208.65" y2="216.60" stroke="#000" stroke-width="0.6"/>
<text x="208.65" y="222.50" font-size="4.0" text-anchor="middle" font-weight="normal" fill="#222">12</text>
<line x1="217.75" y1="39.70" x2="217.75" y2="37.10" stroke="#000" stroke-width="0.6"/>
<line x1="217.75" y1="214.00" x2="217.75" y2="216.60" stroke="#000" stroke-width="0.6"/>
<text x="217.75" y="222.50" font-size="4.0" text-anchor="middle" font-weight="normal" fill="#222">13</text>
<line x1="225.70" y1="39.70" x2="225.70" y2="37.10" stroke="#000" stroke-width="0.6"/>
<line x1="225.70" y1="214.00" x2="225.70" y2="216.60" stroke="#000" stroke-width="0.6"/>
<text x="225.70" y="222.50" font-size="4.0" text-anchor="middle" font-weight="normal" fill="#222">14</text>
<line x1="233.05" y1="39.70" x2="233.05" y2="37.10" stroke="#000" stroke-width="0.6"/>
<line x1="233.05" y1="214.00" x2="233.05" y2="216.60" stroke="#000" stroke-width="0.6"/>
<text x="233.05" y="222.50" font-size="4.0" text-anchor="middle" font-weight="normal" fill="#222">15</text>
<line x1="240.15" y1="39.70" x2="240.15" y2="37.10" stroke="#000" stroke-width="0.6"/>
<line x1="240.15" y1="214.00" x2="240.15" y2="216.60" stroke="#000" stroke-width="0.6"/>
<text x="240.15" y="222.50" font-size="4.0" text-anchor="middle" font-weight="normal" fill="#222">16</text>
<line x1="246.85" y1="39.70" x2="246.85" y2="37.10" stroke="#000" stroke-width="0.6"/>
<line x1="246.85" y1="214.00" x2="246.85" y2="216.60" stroke="#000" stroke-width="0.6"/>
<text x="246.85" y="222.50" font-size="4.0" text-anchor="middle" font-weight="normal" fill="#222">17</text>
<line x1="252.85" y1="39.70" x2="252.85" y2="37.10" stroke="#000" stroke-width="0.6"/>
<line x1="252.85" y1="214.00" x2="252.85" y2="216.60" stroke="#000" stroke-width="0.6"/>
<text x="252.85" y="222.50" font-size="4.0" text-anchor="middle" font-weight="normal" fill="#222">18</text>
<line x1="258.10" y1="39.70" x2="258.10" y2="37.10" stroke="#000" stroke-width="0.6"/>
<line x1="258.10" y1="214.00" x2="258.10" y2="216.60" stroke="#000" stroke-width="0.6"/>
<text x="258.10" y="222.50" font-size="4.0" text-anchor="middle" font-weight="normal" fill="#222">19</text>
<line x1="263.15" y1="39.70" x2="263.15" y2="37.10" stroke="#000" stroke-width="0.6"/>
<line x1="263.15" y1="214.00" x2="263.15" y2="216.60" stroke="#000" stroke-width="0.6"/>
<text x="263.15" y="222.50" font-size="4.0" text-anchor="middle" font-weight="normal" fill="#222">20</text>
<line x1="267.50" y1="39.70" x2="267.50" y2="37.10" stroke="#000" stroke-width="0.6"/>
<line x1="267.50" y1="214.00" x2="267.50" y2="216.60" stroke="#000" stroke-width="0.6"/>
<text x="267.50" y="222.50" font-size="4.0" text-anchor="middle" font-weight="normal" fill="#222">21</text>
<line x1="271.50" y1="39.70" x2="271.50" y2="37.10" stroke="#000" stroke-width="0.6"/>
<line x1="271.50" y1="214.00" x2="271.50" y2="216.60" stroke="#000" stroke-width="0.6"/>
<text x="271.50" y="222.50" font-size="4.0" text-anchor="middle" font-weight="normal" fill="#222">22</text>
<line x1="279.45" y1="39.70" x2="279.45" y2="37.10" stroke="#000" stroke-width="0.6"/>
<line x1="279.45" y1="214.00" x2="279.45" y2="216.60" stroke="#000" stroke-width="0.6"/>
<text x="279.45" y="222.50" font-size="4.0" text-anchor="middle" font-weight="normal" fill="#222">X</text>
<text x="178.50" y="233.00" font-size="6.2" text-anchor="middle" font-weight="normal" fill="#222">Chromosome</text>
<line x1="57.30" y1="50.20" x2="53.50" y2="50.20" stroke="#000" stroke-width="0.7"/>
<text x="51.60" y="52.10" font-size="5.4" text-anchor="end" font-weight="normal" fill="#000">1.0</text>
<line x1="57.30" y1="62.35" x2="53.50" y2="62.35" stroke="#000" stroke-width="0.7"/>
<text x="51.60" y="64.25" font-size="5.4" text-anchor="end" font-weight="normal" fill="#000">0.5</text>
<line x1="57.30" y1="74.50" x2="53.50" y2="74.50" stroke="#000" stroke-width="0.7"/>
<text x="51.60" y="76.40" font-size="5.4" text-anchor="end" font-weight="normal" fill="#000">0.0</text>
<line x1="57.30" y1="86.65" x2="53.50" y2="86.65" stroke="#000" stroke-width="0.7"/>
<text x="51.60" y="88.55" font-size="5.4" text-anchor="end" font-weight="normal" fill="#000">-0.5</text>
<line x1="299.30" y1="50.20" x2="303.10" y2="50.20" stroke="#000" stroke-width="0.7"/>
<line x1="299.30" y1="62.35" x2="303.10" y2="62.35" stroke="#000" stroke-width="0.7"/>
<line x1="299.30" y1="74.50" x2="303.10" y2="74.50" stroke="#000" stroke-width="0.7"/>
<line x1="299.30" y1="86.65" x2="303.10" y2="86.65" stroke="#000" stroke-width="0.7"/>
<line x1="299.30" y1="108.10" x2="303.10" y2="108.10" stroke="#000" stroke-width="0.7"/>
<text x="304.90" y="110.00" font-size="5.4" text-anchor="start" font-weight="normal" fill="#000">1.0</text>
<line x1="299.30" y1="120.25" x2="303.10" y2="120.25" stroke="#000" stroke-width="0.7"/>
<text x="304.90" y="122.15" font-size="5.4" text-anchor="start" font-weight="normal" fill="#000">0.5</text>
<line x1="299.30" y1="132.40" x2="303.10" y2="132.40" stroke="#000" stroke-width="0.7"/>
<text x="304.90" y="134.30" font-size="5.4" text-anchor="start" font-weight="normal" fill="#000">0.0</text>
<line x1="299.30" y1="144.55" x2="303.10" y2="144.55" stroke="#000" stroke-width="0.7"/>
<text x="304.90" y="146.45" font-size="5.4" text-anchor="start" font-weight="normal" fill="#000">-0.5</text>
<line x1="57.30" y1="108.10" x2="53.50" y2="108.10" stroke="#000" stroke-width="0.7"/>
<line x1="57.30" y1="120.25" x2="53.50" y2="120.25" stroke="#000" stroke-width="0.7"/>
<line x1="57.30" y1="132.40" x2="53.50" y2="132.40" stroke="#000" stroke-width="0.7"/>
<line x1="57.30" y1="144.55" x2="53.50" y2="144.55" stroke="#000" stroke-width="0.7"/>
<line x1="57.30" y1="167.00" x2="53.50" y2="167.00" stroke="#000" stroke-width="0.7"/>
<text x="51.60" y="168.90" font-size="5.4" text-anchor="end" font-weight="normal" fill="#000">1.0</text>
<line x1="57.30" y1="179.15" x2="53.50" y2="179.15" stroke="#000" stroke-width="0.7"/>
<text x="51.60" y="181.05" font-size="5.4" text-anchor="end" font-weight="normal" fill="#000">0.5</text>
<line x1="57.30" y1="191.30" x2="53.50" y2="191.30" stroke="#000" stroke-width="0.7"/>
<text x="51.60" y="193.20" font-size="5.4" text-anchor="end" font-weight="normal" fill="#000">0.0</text>
<line x1="57.30" y1="203.45" x2="53.50" y2="203.45" stroke="#000" stroke-width="0.7"/>
<text x="51.60" y="205.35" font-size="5.4" text-anchor="end" font-weight="normal" fill="#000">-0.5</text>
<line x1="299.30" y1="167.00" x2="303.10" y2="167.00" stroke="#000" stroke-width="0.7"/>
<line x1="299.30" y1="179.15" x2="303.10" y2="179.15" stroke="#000" stroke-width="0.7"/>
<line x1="299.30" y1="191.30" x2="303.10" y2="191.30" stroke="#000" stroke-width="0.7"/>
<line x1="299.30" y1="203.45" x2="303.10" y2="203.45" stroke="#000" stroke-width="0.7"/>
<path d="M71.48 74.50 L71.48 72.59 L72.71 72.59 L72.71 71.42 L73.33 71.42 L73.33 71.42 L73.48 71.42 L73.48 72.32 L74.10 72.32 L74.10 70.64 L74.72 70.64 L74.72 70.64 L75.33 70.64 L75.33 70.64 L75.80 70.64 L75.80 72.91 L76.41 72.91 L76.41 72.47 L77.03 72.47 L77.03 72.19 L77.96 72.19 L77.96 72.19 L78.11 72.19 L78.11 68.86 L79.04 68.86 L79.04 68.33 L79.65 68.33 L79.65 59.08 L80.58 59.08 L80.58 60.25 L81.20 60.25 L81.20 60.84 L81.97 60.84 L81.97 56.30 L83.20 56.30 L83.20 56.30 L84.74 56.30 L84.74 57.39 L85.67 57.39 L85.67 56.30 L86.59 56.30 L86.59 71.49 L87.83 71.49 L87.83 71.42 L88.14 71.42 L88.14 69.10 L88.75 69.10 L88.75 69.10 L90.30 69.10 L90.30 69.10 L90.45 69.10 L90.45 69.87 L91.99 69.87 L91.99 70.27 L92.61 70.27 L92.61 69.87 L93.54 69.87 L93.54 73.09 L94.77 73.09 L94.77 72.96 L95.85 72.96 L95.85 73.88 L96.47 73.88 L96.47 73.92 L97.08 73.92 L97.08 74.01 L98.63 74.01 L98.63 73.98 L99.71 73.98 L99.71 71.03 L100.63 71.03 L100.63 71.32 L101.56 71.32 L101.56 70.64 L102.02 70.64 L102.02 72.19 L103.56 72.19 L103.56 72.19 L103.87 72.19 L103.87 68.75 L105.10 68.75 L105.10 66.81 L106.34 66.81 L106.34 70.29 L106.65 70.29 L106.65 69.10 L107.57 69.10 L107.57 69.10 L108.50 69.10 L108.50 69.10 L109.42 69.10 L109.42 69.10 L109.73 69.10 L109.73 69.17 L110.97 69.17 L110.97 68.93 L111.89 68.93 L111.89 68.33 L112.05 68.33 L112.05 64.94 L113.59 64.94 L113.59 64.94 L115.13 64.94 L115.13 64.94 L115.90 64.94 L115.90 70.60 L116.52 70.60 L116.52 68.33 L117.14 68.33 L117.14 68.33 L117.44 68.33 L117.44 73.91 L118.37 73.91 L118.37 74.12 L118.99 74.12 L118.99 73.97 L119.76 73.97 L119.76 66.80 L120.38 66.80 L120.38 66.79 L121.30 66.79 L121.30 69.87 L122.54 69.87 L122.54 70.11 L123.15 70.11 L123.15 70.65 L123.61 70.65 L123.61 70.64 L124.23 70.64 L124.23 70.64 L125.47 70.64 L125.47 71.19 L126.08 71.19 L126.08 71.21 L126.70 71.21 L126.70 71.22 L127.93 71.22 L127.93 69.34 L128.86 69.34 L128.86 69.52 L129.01 69.52 L129.01 62.91 L129.94 62.91 L129.94 62.47 L130.86 62.47 L130.86 62.47 L131.33 62.47 L131.33 67.68 L131.94 67.68 L131.94 65.25 L133.49 65.25 L133.49 65.25 L133.64 65.25 L133.64 73.09 L134.88 73.09 L134.88 72.19 L135.18 72.19 L135.18 74.15 L136.73 74.15 L136.73 74.15 L137.34 74.15 L137.34 74.15 L137.96 74.15 L137.96 74.15 L138.27 74.15 L138.27 72.96 L139.50 72.96 L139.50 72.96 L140.58 72.96 L140.58 71.28 L141.20 71.28 L141.20 70.64 L142.12 70.64 L142.12 71.30 L143.67 71.30 L143.67 69.80 L145.21 69.80 L145.21 69.10 L146.14 69.10 L146.14 69.17 L146.75 69.17 L146.75 71.92 L148.29 71.92 L148.29 69.87 L149.07 69.87 L149.07 66.79 L149.99 66.79 L149.99 67.83 L150.92 67.83 L150.92 68.24 L152.46 68.24 L152.46 69.11 L152.92 69.11 L152.92 68.48 L154.46 68.48 L154.46 68.92 L155.39 68.92 L155.39 68.61 L156.01 68.61 L156.01 68.10 L156.62 68.10 L156.62 66.79 L157.55 66.79 L157.55 64.49 L158.17 64.49 L158.17 65.00 L159.09 65.00 L159.09 68.33 L159.71 68.33 L159.71 68.33 L160.94 68.33 L160.94 68.87 L161.41 68.87 L161.41 70.64 L162.02 70.64 L162.02 71.07 L162.95 71.07 L162.95 71.22 L164.49 71.22 L164.49 70.35 L165.72 70.35 L165.72 70.03 L166.65 70.03 L166.65 69.10 L167.27 69.10 L167.27 69.10 L167.58 69.10 L167.58 58.30 L168.50 58.30 L168.50 59.00 L169.43 59.00 L169.43 63.28 L169.89 63.28 L169.89 52.13 L171.12 52.13 L171.12 61.84 L172.05 61.84 L172.05 52.13 L172.67 52.13 L172.67 52.13 L173.75 52.13 L173.75 55.99 L174.67 55.99 L174.67 63.00 L174.83 63.00 L174.83 74.04 L176.37 74.04 L176.37 73.94 L176.83 73.94 L176.83 71.12 L178.37 71.12 L178.37 71.37 L179.14 71.37 L179.14 73.68 L180.07 73.68 L180.07 72.96 L180.69 72.96 L180.69 68.33 L181.61 68.33 L181.61 68.52 L182.54 68.52 L182.54 68.33 L183.00 68.33 L183.00 67.56 L184.54 67.56 L184.54 67.40 L185.01 67.40 L185.01 74.50Z" fill="#1b7a3e"/>
<path d="M71.48 74.50 L71.48 82.98 L72.10 82.98 L72.10 82.65 L72.71 82.65 L72.71 81.66 L73.33 81.66 L73.33 82.06 L74.25 82.06 L74.25 81.25 L75.49 81.25 L75.49 83.23 L76.57 83.23 L76.57 80.60 L77.49 80.60 L77.49 82.21 L78.11 82.21 L78.11 82.47 L79.04 82.47 L79.04 86.07 L79.65 86.07 L79.65 89.15 L80.58 89.15 L80.58 81.99 L80.89 81.99 L80.89 77.31 L81.50 77.31 L81.50 77.12 L82.43 77.12 L82.43 77.58 L82.74 77.58 L82.74 75.90 L84.28 75.90 L84.28 75.41 L85.05 75.41 L85.05 75.89 L85.98 75.89 L85.98 76.81 L86.90 76.81 L86.90 76.24 L87.37 76.24 L87.37 78.36 L87.98 78.36 L87.98 78.36 L89.22 78.36 L89.22 78.36 L89.68 78.36 L89.68 74.94 L91.22 74.94 L91.22 74.89 L92.15 74.89 L92.15 74.93 L92.76 74.93 L92.76 78.60 L94.00 78.60 L94.00 80.67 L94.92 80.67 L94.92 80.67 L95.08 80.67 L95.08 78.36 L96.00 78.36 L96.00 78.36 L97.39 78.36 L97.39 75.04 L98.63 75.04 L98.63 75.19 L99.24 75.19 L99.24 74.85 L100.17 74.85 L100.17 75.10 L100.79 75.10 L100.79 75.16 L101.25 75.16 L101.25 78.87 L102.79 78.87 L102.79 79.13 L103.56 79.13 L103.56 82.21 L104.49 82.21 L104.49 81.92 L105.41 81.92 L105.41 81.22 L106.34 81.22 L106.34 82.99 L106.96 82.99 L106.96 83.75 L107.42 83.75 L107.42 80.67 L108.04 80.67 L108.04 78.28 L109.27 78.28 L109.27 80.21 L109.73 80.21 L109.73 78.36 L110.66 78.36 L110.66 78.36 L111.27 78.36 L111.27 77.97 L111.58 77.97 L111.58 79.52 L112.20 79.52 L112.20 80.67 L112.82 80.67 L112.82 75.81 L113.43 75.81 L113.43 76.04 L114.36 76.04 L114.36 76.04 L115.90 76.04 L115.90 75.23 L117.44 75.23 L117.44 75.11 L118.22 75.11 L118.22 83.85 L118.83 83.85 L118.83 83.43 L119.76 83.43 L119.76 86.07 L121.30 86.07 L121.30 80.63 L121.76 80.63 L121.76 78.47 L122.69 78.47 L122.69 79.13 L123.92 79.13 L123.92 79.12 L124.39 79.12 L124.39 76.04 L125.31 76.04 L125.31 75.28 L125.93 75.28 L125.93 76.04 L127.47 76.04 L127.47 75.45 L128.24 75.45 L128.24 89.15 L129.17 89.15 L129.17 89.15 L129.78 89.15 L129.78 75.33 L131.02 75.33 L131.02 75.60 L132.25 75.60 L132.25 76.04 L132.87 76.04 L132.87 81.44 L134.41 81.44 L134.41 81.44 L135.18 81.44 L135.18 82.65 L136.73 82.65 L136.73 83.75 L137.65 83.75 L137.65 83.75 L138.27 83.75 L138.27 80.67 L139.50 80.67 L139.50 79.58 L140.74 79.58 L140.74 80.55 L141.66 80.55 L141.66 80.67 L142.12 80.67 L142.12 81.44 L142.74 81.44 L142.74 81.44 L143.36 81.44 L143.36 81.24 L144.44 81.24 L144.44 84.53 L145.67 84.53 L145.67 82.82 L146.75 82.82 L146.75 81.44 L147.99 81.44 L147.99 81.44 L149.07 81.44 L149.07 82.70 L150.30 82.70 L150.30 83.07 L150.92 83.07 L150.92 82.00 L151.38 82.00 L151.38 82.21 L152.92 82.21 L152.92 81.11 L153.69 81.11 L153.69 77.58 L154.31 77.58 L154.31 79.13 L155.24 79.13 L155.24 79.13 L156.47 79.13 L156.47 79.11 L156.78 79.11 L156.78 84.53 L158.01 84.53 L158.01 84.53 L158.94 84.53 L158.94 84.53 L159.09 84.53 L159.09 80.67 L160.02 80.67 L160.02 79.99 L161.41 79.99 L161.41 76.95 L162.64 76.95 L162.64 77.77 L163.57 77.77 L163.57 78.36 L164.49 78.36 L164.49 87.61 L165.11 87.61 L165.11 87.61 L166.03 87.61 L166.03 86.80 L166.96 86.80 L166.96 91.47 L168.04 91.47 L168.04 83.75 L168.96 83.75 L168.96 82.83 L170.20 82.83 L170.20 83.75 L170.66 83.75 L170.66 76.04 L171.59 76.04 L171.59 76.04 L172.51 76.04 L172.51 76.04 L174.05 76.04 L174.05 76.00 L174.52 76.00 L174.52 83.75 L175.13 83.75 L175.13 83.56 L175.75 83.56 L175.75 83.98 L177.29 83.98 L177.29 89.15 L177.91 89.15 L177.91 82.92 L178.37 82.92 L178.37 86.84 L178.99 86.84 L178.99 86.06 L179.92 86.06 L179.92 86.84 L180.69 86.84 L180.69 82.98 L181.30 82.98 L181.30 82.98 L182.23 82.98 L182.23 81.80 L182.85 81.80 L182.85 82.18 L183.00 82.18 L183.00 79.57 L184.54 79.57 L184.54 80.67 L185.01 80.67 L185.01 74.50Z" fill="#ea3a1c"/>
<path d="M180.00 74.50 L180.00 69.10 L180.93 69.10 L180.93 70.18 L181.85 70.18 L181.85 71.35 L182.31 71.35 L182.31 66.21 L183.55 66.21 L183.55 66.78 L184.63 66.78 L184.63 64.62 L185.24 64.62 L185.24 60.62 L186.48 60.62 L186.48 60.62 L186.94 60.62 L186.94 66.02 L188.48 66.02 L188.48 72.22 L189.41 72.22 L189.41 72.19 L190.03 72.19 L190.03 74.15 L191.26 74.15 L191.26 74.15 L191.88 74.15 L191.88 74.15 L192.80 74.15 L192.80 74.15 L193.11 74.15 L193.11 72.96 L194.35 72.96 L194.35 72.99 L195.42 72.99 L195.42 70.64 L196.97 70.64 L196.97 72.40 L197.58 72.40 L197.58 70.64 L198.51 70.64 L198.51 69.06 L199.13 69.06 L199.13 66.11 L199.74 66.11 L199.74 66.83 L200.05 66.83 L200.05 72.70 L200.67 72.70 L200.67 72.19 L201.90 72.19 L201.90 72.19 L203.14 72.19 L203.14 72.96 L204.68 72.96 L204.68 72.96 L205.45 72.96 L205.45 69.87 L206.07 69.87 L206.07 69.87 L206.69 69.87 L206.69 70.10 L207.30 70.10 L207.30 69.87 L207.46 69.87 L207.46 65.61 L208.69 65.61 L208.69 66.09 L209.31 66.09 L209.31 64.47 L209.62 64.47 L209.62 71.74 L210.85 71.74 L210.85 71.42 L211.62 71.42 L211.62 69.10 L213.16 69.10 L213.16 74.15 L213.78 74.15 L213.78 74.15 L214.40 74.15 L214.40 74.15 L215.48 74.15 L215.48 72.96 L216.09 72.96 L216.09 73.59 L217.33 73.59 L217.33 72.96 L217.95 72.96 L217.95 72.96 L218.87 72.96 L218.87 73.55 L220.41 73.55 L220.41 73.35 L220.88 73.35 L220.88 73.82 L221.80 73.82 L221.80 73.91 L223.04 73.91 L223.04 73.83 L223.19 73.83 L223.19 69.76 L223.81 69.76 L223.81 69.10 L224.73 69.10 L224.73 69.66 L225.35 69.66 L225.35 69.10 L225.50 69.10 L225.50 71.43 L227.05 71.43 L227.05 71.25 L227.82 71.25 L227.82 66.79 L229.36 66.79 L229.36 66.79 L229.67 66.79 L229.67 73.90 L230.59 73.90 L230.59 73.88 L231.52 73.88 L231.52 74.06 L231.67 74.06 L231.67 72.96 L232.91 72.96 L232.91 72.96 L234.14 72.96 L234.14 72.96 L234.76 72.96 L234.76 68.33 L235.68 68.33 L235.68 68.33 L236.61 68.33 L236.61 68.33 L236.76 68.33 L236.76 62.75 L237.69 62.75 L237.69 60.64 L238.31 60.64 L238.31 60.62 L238.61 60.62 L238.61 67.68 L239.54 67.68 L239.54 68.62 L240.16 68.62 L240.16 67.56 L240.77 67.56 L240.77 70.25 L240.93 70.25 L240.93 66.79 L241.85 66.79 L241.85 67.30 L243.09 67.30 L243.09 66.79 L243.24 66.79 L243.24 72.19 L244.48 72.19 L244.48 72.19 L244.78 72.19 L244.78 65.25 L245.40 65.25 L245.40 65.25 L246.64 65.25 L246.64 63.35 L247.56 63.35 L247.56 64.82 L249.10 64.82 L249.10 62.93 L249.41 62.93 L249.41 71.69 L250.03 71.69 L250.03 71.42 L250.65 71.42 L250.65 71.94 L250.95 71.94 L250.95 72.46 L251.57 72.46 L251.57 72.19 L252.81 72.19 L252.81 72.46 L254.04 72.46 L254.04 72.19 L254.66 72.19 L254.66 72.19 L254.81 72.19 L254.81 67.56 L255.43 67.56 L255.43 68.40 L256.35 68.40 L256.35 62.93 L257.90 62.93 L257.90 62.93 L258.51 62.93 L258.51 62.93 L259.44 62.93 L259.44 62.93 L260.06 62.93 L260.06 62.93 L260.21 62.93 L260.21 71.42 L261.14 71.42 L261.14 71.64 L261.75 71.64 L261.75 71.42 L262.52 71.42 L262.52 64.85 L263.76 64.85 L263.76 62.93 L264.99 62.93 L264.99 68.34 L265.61 68.34 L265.61 73.02 L267.15 73.02 L267.15 69.10 L268.08 69.10 L268.08 71.02 L268.69 71.02 L268.69 69.49 L269.31 69.49 L269.31 70.80 L269.46 70.80 L269.46 73.90 L270.39 73.90 L270.39 74.09 L271.32 74.09 L271.32 72.81 L272.86 72.81 L272.86 71.42 L273.32 71.42 L273.32 73.35 L274.25 73.35 L274.25 72.96 L275.17 72.96 L275.17 73.17 L275.63 73.17 L275.63 70.99 L277.18 70.99 L277.18 69.85 L278.41 69.85 L278.41 69.10 L279.34 69.10 L279.34 69.10 L279.49 69.10 L279.49 71.42 L281.03 71.42 L281.03 71.73 L281.65 71.73 L281.65 71.42 L281.80 71.42 L281.80 70.79 L283.35 70.79 L283.35 70.64 L284.89 70.64 L284.89 74.50Z" fill="#1b7a3e"/>
<path d="M180.00 74.50 L180.00 87.61 L180.93 87.61 L180.93 87.61 L182.16 87.61 L182.16 86.71 L183.08 86.71 L183.08 78.91 L183.70 78.91 L183.70 79.37 L184.94 79.37 L184.94 79.79 L185.40 79.79 L185.40 83.75 L186.32 83.75 L186.32 81.16 L186.94 81.16 L186.94 83.75 L187.56 83.75 L187.56 83.75 L187.71 83.75 L187.71 85.42 L188.64 85.42 L188.64 86.07 L189.56 86.07 L189.56 84.34 L190.03 84.34 L190.03 78.99 L191.26 78.99 L191.26 82.21 L192.34 82.21 L192.34 85.30 L193.88 85.30 L193.88 83.65 L194.19 83.65 L194.19 80.67 L195.42 80.67 L195.42 80.67 L196.20 80.67 L196.20 84.32 L197.43 84.32 L197.43 83.05 L198.36 83.05 L198.36 83.24 L198.51 83.24 L198.51 87.22 L200.05 87.22 L200.05 88.38 L200.67 88.38 L200.67 86.64 L200.82 86.64 L200.82 86.44 L202.37 86.44 L202.37 92.24 L203.14 92.24 L203.14 93.78 L203.75 93.78 L203.75 93.62 L204.68 93.62 L204.68 83.69 L205.91 83.69 L205.91 84.75 L206.99 84.75 L206.99 80.67 L207.92 80.67 L207.92 80.67 L208.54 80.67 L208.54 79.08 L209.77 79.08 L209.77 81.36 L210.70 81.36 L210.70 82.98 L210.85 82.98 L210.85 84.53 L212.08 84.53 L212.08 83.35 L213.16 83.35 L213.16 76.45 L214.40 76.45 L214.40 76.81 L214.71 76.81 L214.71 84.22 L215.32 84.22 L215.32 91.47 L216.25 91.47 L216.25 91.03 L216.87 91.03 L216.87 91.47 L217.79 91.47 L217.79 82.47 L219.03 82.47 L219.03 88.62 L220.26 88.62 L220.26 89.92 L221.34 89.92 L221.34 75.05 L221.96 75.05 L221.96 74.88 L223.19 74.88 L223.19 79.13 L223.81 79.13 L223.81 79.13 L224.73 79.13 L224.73 78.80 L225.50 78.80 L225.50 76.43 L227.05 76.43 L227.05 76.81 L228.28 76.81 L228.28 76.16 L228.59 76.16 L228.59 75.20 L230.13 75.20 L230.13 75.11 L231.67 75.11 L231.67 81.44 L232.60 81.44 L232.60 81.44 L233.22 81.44 L233.22 81.44 L233.83 81.44 L233.83 80.42 L233.99 80.42 L233.99 84.36 L235.53 84.36 L235.53 84.53 L235.84 84.53 L235.84 80.67 L236.76 80.67 L236.76 80.67 L237.38 80.67 L237.38 79.69 L238.31 79.69 L238.31 83.18 L239.23 83.18 L239.23 84.53 L240.16 84.53 L240.16 93.01 L241.08 93.01 L241.08 93.01 L242.63 93.01 L242.63 90.93 L243.24 90.93 L243.24 86.46 L244.17 86.46 L244.17 88.38 L245.09 88.38 L245.09 86.08 L245.56 86.08 L245.56 93.78 L246.17 93.78 L246.17 90.55 L246.79 90.55 L246.79 90.04 L247.10 90.04 L247.10 88.08 L248.02 88.08 L248.02 86.42 L248.64 86.42 L248.64 89.15 L249.41 89.15 L249.41 81.84 L250.03 81.84 L250.03 82.21 L250.95 82.21 L250.95 81.44 L251.88 81.44 L251.88 81.44 L252.50 81.44 L252.50 80.93 L253.11 80.93 L253.11 81.44 L254.04 81.44 L254.04 79.13 L254.97 79.13 L254.97 79.13 L255.89 79.13 L255.89 79.13 L256.35 79.13 L256.35 89.15 L256.97 89.15 L256.97 89.15 L258.20 89.15 L258.20 85.21 L258.67 85.21 L258.67 83.76 L260.21 83.76 L260.21 77.61 L260.83 77.61 L260.83 78.36 L261.44 78.36 L261.44 77.75 L262.06 77.75 L262.06 77.81 L262.52 77.81 L262.52 84.53 L264.07 84.53 L264.07 84.53 L264.84 84.53 L264.84 79.13 L265.45 79.13 L265.45 79.13 L266.38 79.13 L266.38 82.34 L267.31 82.34 L267.31 84.12 L268.54 84.12 L268.54 81.09 L268.69 81.09 L268.69 79.13 L269.62 79.13 L269.62 79.13 L270.24 79.13 L270.24 78.53 L270.85 78.53 L270.85 78.05 L271.01 78.05 L271.01 87.61 L271.62 87.61 L271.62 87.61 L272.24 87.61 L272.24 87.61 L273.32 87.61 L273.32 76.04 L274.25 76.04 L274.25 75.33 L274.86 75.33 L274.86 82.21 L275.48 82.21 L275.48 82.01 L276.71 82.01 L276.71 81.81 L278.26 81.81 L278.26 82.21 L278.72 82.21 L278.72 81.50 L279.95 81.50 L279.95 82.47 L281.50 82.47 L281.50 82.98 L282.42 82.98 L282.42 82.94 L282.58 82.94 L282.58 83.22 L283.81 83.22 L283.81 84.53 L284.74 84.53 L284.74 84.53 L284.89 84.53 L284.89 74.50Z" fill="#ea3a1c"/>
<path d="M71.48 132.40 L71.48 122.37 L72.10 122.37 L72.10 122.37 L72.71 122.37 L72.71 125.00 L73.02 125.00 L73.02 127.77 L74.25 127.77 L74.25 127.77 L75.03 127.77 L75.03 130.09 L75.64 130.09 L75.64 130.09 L77.19 130.09 L77.19 130.09 L77.34 130.09 L77.34 127.54 L78.88 127.54 L78.88 127.00 L79.65 127.00 L79.65 125.46 L80.58 125.46 L80.58 125.46 L81.20 125.46 L81.20 121.24 L82.12 121.24 L82.12 115.84 L82.74 115.84 L82.74 118.08 L83.66 118.08 L83.66 116.98 L85.05 116.98 L85.05 117.48 L86.29 117.48 L86.29 112.35 L87.52 112.35 L87.52 131.98 L89.06 131.98 L89.06 132.05 L89.68 132.05 L89.68 128.81 L91.22 128.81 L91.22 130.09 L91.99 130.09 L91.99 127.77 L92.61 127.77 L92.61 129.94 L94.15 129.94 L94.15 128.55 L94.31 128.55 L94.31 131.13 L95.23 131.13 L95.23 130.94 L96.62 130.94 L96.62 132.05 L97.24 132.05 L97.24 132.05 L98.78 132.05 L98.78 132.05 L99.71 132.05 L99.71 132.05 L100.32 132.05 L100.32 132.05 L101.56 132.05 L101.56 132.05 L102.02 132.05 L102.02 127.33 L103.25 127.33 L103.25 126.30 L103.56 126.30 L103.56 128.14 L104.49 128.14 L104.49 127.00 L106.03 127.00 L106.03 129.59 L106.65 129.59 L106.65 129.32 L107.57 129.32 L107.57 129.84 L108.50 129.84 L108.50 129.32 L109.73 129.32 L109.73 128.81 L110.97 128.81 L110.97 128.54 L112.51 128.54 L112.51 128.54 L112.82 128.54 L112.82 124.71 L114.36 124.71 L114.36 124.69 L115.13 124.69 L115.13 123.15 L116.37 123.15 L116.37 123.15 L116.67 123.15 L116.67 127.00 L118.22 127.00 L118.22 127.69 L118.83 127.69 L118.83 128.02 L118.99 128.02 L118.99 124.10 L120.22 124.10 L120.22 124.35 L120.53 124.35 L120.53 127.77 L121.15 127.77 L121.15 128.47 L121.76 128.47 L121.76 127.91 L122.38 127.91 L122.38 129.72 L123.31 129.72 L123.31 129.32 L124.23 129.32 L124.23 129.83 L124.39 129.83 L124.39 131.73 L125.00 131.73 L125.00 131.77 L125.93 131.77 L125.93 127.61 L126.55 127.61 L126.55 127.80 L127.16 127.80 L127.16 127.57 L127.47 127.57 L127.47 130.86 L128.09 130.86 L128.09 131.09 L129.01 131.09 L129.01 130.90 L129.48 130.90 L129.48 118.52 L130.09 118.52 L130.09 118.52 L131.33 118.52 L131.33 121.95 L132.87 121.95 L132.87 126.23 L134.10 126.23 L134.10 126.23 L134.72 126.23 L134.72 127.43 L135.18 127.43 L135.18 129.36 L135.80 129.36 L135.80 129.87 L137.03 129.87 L137.03 129.32 L138.27 129.32 L138.27 127.00 L139.19 127.00 L139.19 127.72 L139.81 127.72 L139.81 131.73 L141.05 131.73 L141.05 131.93 L141.97 131.93 L141.97 131.96 L142.12 131.96 L142.12 129.32 L143.67 129.32 L143.67 129.72 L144.44 129.72 L144.44 128.70 L145.36 128.70 L145.36 128.54 L146.60 128.54 L146.60 128.54 L146.75 128.54 L146.75 128.04 L147.37 128.04 L147.37 128.03 L148.91 128.03 L148.91 127.00 L150.15 127.00 L150.15 127.00 L150.76 127.00 L150.76 127.37 L151.38 127.37 L151.38 128.12 L152.92 128.12 L152.92 127.77 L153.54 127.77 L153.54 128.54 L153.69 128.54 L153.69 122.17 L154.62 122.17 L154.62 124.34 L155.24 124.34 L155.24 127.93 L156.47 127.93 L156.47 127.80 L157.24 127.80 L157.24 123.15 L158.48 123.15 L158.48 123.15 L159.09 123.15 L159.09 128.16 L160.63 128.16 L160.63 127.77 L161.25 127.77 L161.25 127.98 L161.41 127.98 L161.41 128.61 L162.95 128.61 L162.95 128.54 L163.72 128.54 L163.72 124.70 L165.26 124.70 L165.26 124.69 L166.19 124.69 L166.19 126.10 L166.80 126.10 L166.80 118.52 L168.35 118.52 L168.35 115.33 L169.27 115.33 L169.27 116.51 L169.89 116.51 L169.89 113.12 L170.35 113.12 L170.35 108.49 L170.97 108.49 L170.97 108.49 L171.59 108.49 L171.59 108.49 L172.51 108.49 L172.51 117.82 L172.97 117.82 L172.97 116.02 L173.90 116.02 L173.90 112.35 L174.83 112.35 L174.83 132.05 L176.06 132.05 L176.06 132.05 L176.68 132.05 L176.68 132.05 L176.83 132.05 L176.83 129.51 L177.76 129.51 L177.76 128.54 L178.37 128.54 L178.37 128.54 L178.84 128.54 L178.84 131.72 L179.76 131.72 L179.76 131.72 L181.00 131.72 L181.00 131.73 L182.54 131.73 L182.54 131.96 L183.00 131.96 L183.00 123.07 L183.62 123.07 L183.62 122.92 L184.85 122.92 L184.85 123.17 L185.01 123.17 L185.01 132.40Z" fill="#1b7a3e"/>
<path d="M71.48 132.40 L71.48 143.15 L72.71 143.15 L72.71 143.20 L73.48 143.20 L73.48 141.46 L75.03 141.46 L75.03 141.65 L76.57 141.65 L76.57 147.05 L77.19 147.05 L77.19 147.05 L78.42 147.05 L78.42 147.05 L78.88 147.05 L78.88 141.41 L79.81 141.41 L79.81 141.65 L79.96 141.65 L79.96 151.68 L81.04 151.68 L81.04 133.78 L81.66 133.78 L81.66 133.94 L82.74 133.94 L82.74 132.75 L83.66 132.75 L83.66 132.80 L85.21 132.80 L85.21 132.89 L86.44 132.89 L86.44 132.75 L87.06 132.75 L87.06 133.12 L87.37 133.12 L87.37 137.03 L88.60 137.03 L88.60 137.03 L89.53 137.03 L89.53 137.03 L89.68 137.03 L89.68 135.48 L90.91 135.48 L90.91 135.48 L92.15 135.48 L92.15 135.48 L93.07 135.48 L93.07 135.48 L93.54 135.48 L93.54 137.03 L94.15 137.03 L94.15 136.25 L95.08 136.25 L95.08 139.34 L95.70 139.34 L95.70 139.34 L96.31 139.34 L96.31 137.67 L96.62 137.67 L96.62 133.14 L98.16 133.14 L98.16 133.15 L99.40 133.15 L99.40 132.75 L100.32 132.75 L100.32 132.75 L101.25 132.75 L101.25 134.65 L101.87 134.65 L101.87 134.71 L103.41 134.71 L103.41 134.55 L103.56 134.55 L103.56 136.19 L104.18 136.19 L104.18 136.69 L105.41 136.69 L105.41 137.03 L105.88 137.03 L105.88 138.57 L106.80 138.57 L106.80 135.90 L107.73 135.90 L107.73 137.23 L108.34 137.23 L108.34 137.16 L108.96 137.16 L108.96 136.26 L109.58 136.26 L109.58 136.26 L111.12 136.26 L111.12 136.26 L111.27 136.26 L111.27 134.03 L111.89 134.03 L111.89 134.46 L113.13 134.46 L113.13 134.71 L113.74 134.71 L113.74 134.71 L114.98 134.71 L114.98 134.71 L115.13 134.71 L115.13 132.82 L116.67 132.82 L116.67 132.93 L117.44 132.93 L117.44 140.09 L118.37 140.09 L118.37 141.65 L118.99 141.65 L118.99 135.33 L120.22 135.33 L120.22 136.60 L121.30 136.60 L121.30 135.97 L122.84 135.97 L122.84 134.70 L124.39 134.70 L124.39 137.03 L125.31 137.03 L125.31 137.03 L126.55 137.03 L126.55 136.27 L127.47 136.27 L127.47 136.24 L128.24 136.24 L128.24 143.20 L129.17 143.20 L129.17 143.20 L129.78 143.20 L129.78 133.94 L130.40 133.94 L130.40 133.94 L131.64 133.94 L131.64 133.94 L132.56 133.94 L132.56 133.94 L132.87 133.94 L132.87 140.88 L134.41 140.88 L134.41 140.52 L135.03 140.52 L135.03 140.60 L135.18 140.60 L135.18 137.80 L135.80 137.80 L135.80 135.80 L136.73 135.80 L136.73 136.60 L137.96 136.60 L137.96 137.80 L138.27 137.80 L138.27 135.99 L139.81 135.99 L139.81 139.34 L141.05 139.34 L141.05 139.34 L141.35 139.34 L141.35 135.14 L142.59 135.14 L142.59 135.48 L143.67 135.48 L143.67 139.34 L145.21 139.34 L145.21 143.20 L146.75 143.20 L146.75 143.20 L147.52 143.20 L147.52 138.93 L148.45 138.93 L148.45 140.11 L149.07 140.11 L149.07 136.17 L149.68 136.17 L149.68 135.62 L151.23 135.62 L151.23 136.03 L151.38 136.03 L151.38 142.77 L152.31 142.77 L152.31 143.55 L152.92 143.55 L152.92 143.13 L153.54 143.13 L153.54 144.41 L153.69 144.41 L153.69 137.03 L155.24 137.03 L155.24 135.38 L156.01 135.38 L156.01 143.20 L157.24 143.20 L157.24 143.20 L157.55 143.20 L157.55 138.39 L158.78 138.39 L158.78 137.89 L159.86 137.89 L159.86 136.26 L160.48 136.26 L160.48 136.15 L161.41 136.15 L161.41 136.15 L162.64 136.15 L162.64 136.26 L162.95 136.26 L162.95 137.90 L163.57 137.90 L163.57 140.10 L164.18 140.10 L164.18 140.88 L164.80 140.88 L164.80 140.88 L165.26 140.88 L165.26 149.37 L166.19 149.37 L166.19 149.37 L167.42 149.37 L167.42 149.37 L167.58 149.37 L167.58 143.20 L168.50 143.20 L168.50 142.56 L169.89 142.56 L169.89 137.03 L170.51 137.03 L170.51 136.14 L171.12 136.14 L171.12 137.03 L171.74 137.03 L171.74 137.03 L172.20 137.03 L172.20 134.71 L172.82 134.71 L172.82 134.36 L173.75 134.36 L173.75 134.71 L174.67 134.71 L174.67 134.33 L174.83 134.33 L174.83 142.39 L175.44 142.39 L175.44 147.31 L176.06 147.31 L176.06 149.37 L176.68 149.37 L176.68 147.12 L177.29 147.12 L177.29 148.40 L178.22 148.40 L178.22 148.85 L178.37 148.85 L178.37 153.22 L178.99 153.22 L178.99 148.65 L179.92 148.65 L179.92 151.82 L180.69 151.82 L180.69 147.82 L181.30 147.82 L181.30 147.82 L182.23 147.82 L182.23 147.82 L183.00 147.82 L183.00 140.11 L183.62 140.11 L183.62 138.05 L185.01 138.05 L185.01 132.40Z" fill="#ea3a1c"/>
<path d="M180.00 132.40 L180.00 130.92 L181.54 130.92 L181.54 130.86 L182.16 130.86 L182.16 131.34 L182.78 131.34 L182.78 124.53 L183.39 124.53 L183.39 123.15 L184.01 123.15 L184.01 123.15 L184.63 123.15 L184.63 118.52 L185.86 118.52 L185.86 118.52 L186.79 118.52 L186.79 118.52 L186.94 118.52 L186.94 124.69 L187.87 124.69 L187.87 126.43 L188.48 126.43 L188.48 128.54 L189.72 128.54 L189.72 129.09 L190.33 129.09 L190.33 128.88 L190.80 128.88 L190.80 132.05 L192.34 132.05 L192.34 132.05 L193.88 132.05 L193.88 120.83 L195.12 120.83 L195.12 120.83 L195.73 120.83 L195.73 130.97 L197.28 130.97 L197.28 130.09 L198.20 130.09 L198.20 120.83 L199.13 120.83 L199.13 120.83 L200.05 120.83 L200.05 130.45 L201.29 130.45 L201.29 130.48 L201.90 130.48 L201.90 130.39 L202.37 130.39 L202.37 131.93 L202.98 131.93 L202.98 131.78 L203.60 131.78 L203.60 131.78 L204.37 131.78 L204.37 128.13 L205.30 128.13 L205.30 128.22 L206.53 128.22 L206.53 127.77 L206.99 127.77 L206.99 120.83 L207.92 120.83 L207.92 120.83 L208.54 120.83 L208.54 120.83 L209.15 120.83 L209.15 120.83 L209.31 120.83 L209.31 128.85 L210.54 128.85 L210.54 128.78 L211.62 128.78 L211.62 131.08 L212.86 131.08 L212.86 130.98 L213.16 130.98 L213.16 132.05 L214.40 132.05 L214.40 132.05 L215.48 132.05 L215.48 131.03 L216.71 131.03 L216.71 131.14 L218.25 131.14 L218.25 130.86 L218.56 130.86 L218.56 130.67 L219.49 130.67 L219.49 129.97 L220.88 129.97 L220.88 131.83 L221.49 131.83 L221.49 131.84 L223.04 131.84 L223.04 131.85 L223.19 131.85 L223.19 127.00 L224.73 127.00 L224.73 127.00 L225.50 127.00 L225.50 127.77 L226.74 127.77 L226.74 128.21 L227.35 128.21 L227.35 127.77 L227.97 127.77 L227.97 127.84 L229.36 127.84 L229.36 132.05 L230.29 132.05 L230.29 132.05 L231.67 132.05 L231.67 129.32 L232.29 129.32 L232.29 129.32 L233.52 129.32 L233.52 129.62 L233.99 129.62 L233.99 131.08 L234.60 131.08 L234.60 130.86 L235.53 130.86 L235.53 126.12 L237.07 126.12 L237.07 126.59 L237.38 126.59 L237.38 122.37 L238.31 122.37 L238.31 122.37 L238.92 122.37 L238.92 128.69 L239.54 128.69 L239.54 127.77 L240.16 127.77 L240.16 129.53 L240.77 129.53 L240.77 128.08 L240.93 128.08 L240.93 129.32 L241.85 129.32 L241.85 129.38 L242.47 129.38 L242.47 124.92 L243.40 124.92 L243.40 123.92 L244.01 123.92 L244.01 129.32 L244.63 129.32 L244.63 129.32 L245.25 129.32 L245.25 129.55 L245.56 129.55 L245.56 110.00 L246.17 110.00 L246.17 108.49 L247.10 108.49 L247.10 116.98 L248.02 116.98 L248.02 116.98 L248.95 116.98 L248.95 117.14 L249.41 117.14 L249.41 130.09 L250.03 130.09 L250.03 130.54 L251.26 130.54 L251.26 131.36 L252.19 131.36 L252.19 130.86 L252.50 130.86 L252.50 127.00 L253.42 127.00 L253.42 127.00 L254.04 127.00 L254.04 131.68 L254.97 131.68 L254.97 131.81 L255.89 131.81 L255.89 126.38 L257.43 126.38 L257.43 121.79 L257.90 121.79 L257.90 121.60 L259.44 121.60 L259.44 121.60 L260.21 121.60 L260.21 129.32 L261.14 129.32 L261.14 129.32 L262.06 129.32 L262.06 129.32 L262.52 129.32 L262.52 122.37 L263.76 122.37 L263.76 122.37 L264.07 122.37 L264.07 116.98 L265.61 116.98 L265.61 131.67 L266.23 131.67 L266.23 131.88 L267.15 131.88 L267.15 123.92 L268.39 123.92 L268.39 123.92 L269.00 123.92 L269.00 123.92 L269.46 123.92 L269.46 132.05 L270.39 132.05 L270.39 132.05 L271.32 132.05 L271.32 127.58 L272.24 127.58 L272.24 127.00 L273.17 127.00 L273.17 127.00 L273.32 127.00 L273.32 124.69 L274.86 124.69 L274.86 124.69 L275.63 124.69 L275.63 130.44 L277.18 130.44 L277.18 127.06 L278.72 127.06 L278.72 127.61 L279.49 127.61 L279.49 130.36 L280.72 130.36 L280.72 130.09 L281.65 130.09 L281.65 130.51 L282.27 130.51 L282.27 130.20 L282.58 130.20 L282.58 128.88 L283.19 128.88 L283.19 128.54 L284.43 128.54 L284.43 128.72 L284.89 128.72 L284.89 132.40Z" fill="#1b7a3e"/>
<path d="M180.00 132.40 L180.00 149.37 L180.93 149.37 L180.93 149.37 L181.54 149.37 L181.54 148.55 L182.78 148.55 L182.78 144.74 L183.70 144.74 L183.70 144.74 L184.63 144.74 L184.63 136.26 L185.86 136.26 L185.86 136.26 L186.94 136.26 L186.94 142.04 L188.48 142.04 L188.48 138.37 L189.25 138.37 L189.25 139.59 L190.49 139.59 L190.49 136.31 L191.57 136.31 L191.57 142.43 L193.11 142.43 L193.11 142.43 L193.88 142.43 L193.88 138.57 L194.50 138.57 L194.50 138.57 L195.12 138.57 L195.12 137.39 L196.04 137.39 L196.04 137.87 L196.20 137.87 L196.20 141.65 L197.43 141.65 L197.43 140.97 L198.05 140.97 L198.05 140.23 L198.51 140.23 L198.51 142.90 L200.05 142.90 L200.05 143.69 L200.82 143.69 L200.82 149.37 L201.44 149.37 L201.44 145.34 L202.67 145.34 L202.67 144.35 L203.29 144.35 L203.29 146.69 L203.91 146.69 L203.91 140.59 L205.14 140.59 L205.14 139.26 L205.91 139.26 L205.91 137.03 L206.84 137.03 L206.84 137.03 L207.46 137.03 L207.46 137.03 L208.54 137.03 L208.54 138.98 L209.77 138.98 L209.77 138.89 L210.85 138.89 L210.85 143.20 L211.78 143.20 L211.78 143.20 L212.70 143.20 L212.70 143.20 L213.16 143.20 L213.16 132.78 L214.40 132.78 L214.40 132.75 L215.17 132.75 L215.17 141.65 L216.40 141.65 L216.40 141.65 L217.02 141.65 L217.02 141.65 L218.25 141.65 L218.25 140.24 L219.80 140.24 L219.80 141.65 L220.72 141.65 L220.72 141.65 L221.34 141.65 L221.34 133.04 L222.57 133.04 L222.57 133.09 L223.50 133.09 L223.50 133.02 L225.04 133.02 L225.04 132.80 L226.27 132.80 L226.27 136.26 L227.51 136.26 L227.51 136.26 L228.59 136.26 L228.59 132.76 L229.21 132.76 L229.21 132.76 L230.44 132.76 L230.44 132.97 L230.90 132.97 L230.90 143.97 L232.14 143.97 L232.14 143.97 L232.75 143.97 L232.75 140.79 L233.22 140.79 L233.22 137.08 L233.83 137.08 L233.83 137.80 L235.07 137.80 L235.07 135.89 L235.53 135.89 L235.53 136.26 L236.76 136.26 L236.76 135.97 L237.38 135.97 L237.38 135.55 L238.31 135.55 L238.31 140.11 L238.92 140.11 L238.92 139.03 L240.16 139.03 L240.16 141.02 L241.08 141.02 L241.08 145.51 L242.01 145.51 L242.01 143.75 L242.93 143.75 L242.93 147.18 L243.86 147.18 L243.86 149.37 L244.78 149.37 L244.78 146.83 L245.56 146.83 L245.56 143.97 L246.17 143.97 L246.17 141.46 L247.72 141.46 L247.72 143.97 L247.87 143.97 L247.87 136.08 L248.80 136.08 L248.80 137.80 L249.41 137.80 L249.41 137.80 L249.72 137.80 L249.72 134.44 L251.26 134.44 L251.26 140.00 L251.88 140.00 L251.88 139.19 L252.81 139.19 L252.81 140.88 L253.73 140.88 L253.73 137.97 L254.35 137.97 L254.35 135.60 L255.89 135.60 L255.89 138.36 L256.35 138.36 L256.35 145.51 L257.28 145.51 L257.28 145.51 L257.90 145.51 L257.90 144.12 L258.67 144.12 L258.67 137.18 L259.90 137.18 L259.90 136.66 L260.83 136.66 L260.83 136.78 L260.98 136.78 L260.98 134.39 L262.22 134.39 L262.22 133.89 L263.29 133.89 L263.29 140.88 L264.22 140.88 L264.22 140.26 L265.45 140.26 L265.45 140.88 L265.61 140.88 L265.61 136.24 L267.15 136.24 L267.15 136.97 L267.92 136.97 L267.92 145.07 L269.16 145.07 L269.16 146.28 L269.46 146.28 L269.46 133.94 L270.39 133.94 L270.39 133.67 L271.32 133.67 L271.32 142.73 L272.55 142.73 L272.55 142.83 L273.32 142.83 L273.32 137.03 L274.86 137.03 L274.86 136.94 L275.33 136.94 L275.33 142.51 L275.94 142.51 L275.94 143.20 L277.49 143.20 L277.49 143.11 L277.95 143.11 L277.95 140.88 L278.57 140.88 L278.57 140.83 L280.11 140.83 L280.11 140.50 L280.26 140.50 L280.26 138.57 L281.19 138.57 L281.19 138.57 L281.80 138.57 L281.80 138.57 L282.42 138.57 L282.42 138.52 L283.04 138.52 L283.04 142.43 L284.58 142.43 L284.58 142.43 L284.89 142.43 L284.89 132.40Z" fill="#ea3a1c"/>
<line x1="57.30" y1="74.50" x2="299.30" y2="74.50" stroke="#000" stroke-width="0.75"/>
<line x1="57.30" y1="132.40" x2="299.30" y2="132.40" stroke="#000" stroke-width="0.75"/>
<line x1="57.30" y1="191.30" x2="299.30" y2="191.30" stroke="#000" stroke-width="0.75"/>
<rect x="246.20" y="182.80" width="0.80" height="8.50" fill="#1b7a3e"/>
<rect x="58.60" y="272.50" width="240.60" height="7.20" fill="#fdebd2"/>
<rect x="58.60" y="279.70" width="240.60" height="49.60" fill="#fff"/>
<line x1="73.40" y1="279.70" x2="73.40" y2="329.30" stroke="#ababab" stroke-width="0.7"/>
<line x1="88.64" y1="279.70" x2="88.64" y2="329.30" stroke="#ababab" stroke-width="0.7"/>
<line x1="104.87" y1="279.70" x2="104.87" y2="329.30" stroke="#ababab" stroke-width="0.7"/>
<line x1="118.04" y1="279.70" x2="118.04" y2="329.30" stroke="#ababab" stroke-width="0.7"/>
<line x1="130.80" y1="279.70" x2="130.80" y2="329.30" stroke="#ababab" stroke-width="0.7"/>
<line x1="142.58" y1="279.70" x2="142.58" y2="329.30" stroke="#ababab" stroke-width="0.7"/>
<line x1="154.46" y1="279.70" x2="154.46" y2="329.30" stroke="#ababab" stroke-width="0.7"/>
<line x1="165.34" y1="279.70" x2="165.34" y2="329.30" stroke="#ababab" stroke-width="0.7"/>
<line x1="175.24" y1="279.70" x2="175.24" y2="329.30" stroke="#ababab" stroke-width="0.7"/>
<line x1="185.04" y1="279.70" x2="185.04" y2="329.30" stroke="#ababab" stroke-width="0.7"/>
<line x1="195.03" y1="279.70" x2="195.03" y2="329.30" stroke="#ababab" stroke-width="0.7"/>
<line x1="204.24" y1="279.70" x2="204.24" y2="329.30" stroke="#ababab" stroke-width="0.7"/>
<line x1="213.64" y1="279.70" x2="213.64" y2="329.30" stroke="#ababab" stroke-width="0.7"/>
<line x1="222.25" y1="279.70" x2="222.25" y2="329.30" stroke="#ababab" stroke-width="0.7"/>
<line x1="229.38" y1="279.70" x2="229.38" y2="329.30" stroke="#ababab" stroke-width="0.7"/>
<line x1="236.80" y1="279.70" x2="236.80" y2="329.30" stroke="#ababab" stroke-width="0.7"/>
<line x1="243.43" y1="279.70" x2="243.43" y2="329.30" stroke="#ababab" stroke-width="0.7"/>
<line x1="250.06" y1="279.70" x2="250.06" y2="329.30" stroke="#ababab" stroke-width="0.7"/>
<line x1="255.31" y1="279.70" x2="255.31" y2="329.30" stroke="#ababab" stroke-width="0.7"/>
<line x1="260.45" y1="279.70" x2="260.45" y2="329.30" stroke="#ababab" stroke-width="0.7"/>
<line x1="265.30" y1="279.70" x2="265.30" y2="329.30" stroke="#ababab" stroke-width="0.7"/>
<line x1="269.06" y1="279.70" x2="269.06" y2="329.30" stroke="#ababab" stroke-width="0.7"/>
<line x1="273.22" y1="279.70" x2="273.22" y2="329.30" stroke="#ababab" stroke-width="0.7"/>
<line x1="284.80" y1="279.70" x2="284.80" y2="329.30" stroke="#ababab" stroke-width="0.7"/>
<text x="178.90" y="277.90" font-size="6.1" text-anchor="middle" font-weight="normal" fill="#1a1a1a">Not–Amp</text>
<rect x="58.60" y="329.30" width="240.60" height="6.90" fill="#fdebd2"/>
<rect x="58.60" y="336.20" width="240.60" height="49.20" fill="#fff"/>
<line x1="73.40" y1="336.20" x2="73.40" y2="385.40" stroke="#ababab" stroke-width="0.7"/>
<line x1="88.64" y1="336.20" x2="88.64" y2="385.40" stroke="#ababab" stroke-width="0.7"/>
<line x1="104.87" y1="336.20" x2="104.87" y2="385.40" stroke="#ababab" stroke-width="0.7"/>
<line x1="118.04" y1="336.20" x2="118.04" y2="385.40" stroke="#ababab" stroke-width="0.7"/>
<line x1="130.80" y1="336.20" x2="130.80" y2="385.40" stroke="#ababab" stroke-width="0.7"/>
<line x1="142.58" y1="336.20" x2="142.58" y2="385.40" stroke="#ababab" stroke-width="0.7"/>
<line x1="154.46" y1="336.20" x2="154.46" y2="385.40" stroke="#ababab" stroke-width="0.7"/>
<line x1="165.34" y1="336.20" x2="165.34" y2="385.40" stroke="#ababab" stroke-width="0.7"/>
<line x1="175.24" y1="336.20" x2="175.24" y2="385.40" stroke="#ababab" stroke-width="0.7"/>
<line x1="185.04" y1="336.20" x2="185.04" y2="385.40" stroke="#ababab" stroke-width="0.7"/>
<line x1="195.03" y1="336.20" x2="195.03" y2="385.40" stroke="#ababab" stroke-width="0.7"/>
<line x1="204.24" y1="336.20" x2="204.24" y2="385.40" stroke="#ababab" stroke-width="0.7"/>
<line x1="213.64" y1="336.20" x2="213.64" y2="385.40" stroke="#ababab" stroke-width="0.7"/>
<line x1="222.25" y1="336.20" x2="222.25" y2="385.40" stroke="#ababab" stroke-width="0.7"/>
<line x1="229.38" y1="336.20" x2="229.38" y2="385.40" stroke="#ababab" stroke-width="0.7"/>
<line x1="236.80" y1="336.20" x2="236.80" y2="385.40" stroke="#ababab" stroke-width="0.7"/>
<line x1="243.43" y1="336.20" x2="243.43" y2="385.40" stroke="#ababab" stroke-width="0.7"/>
<line x1="250.06" y1="336.20" x2="250.06" y2="385.40" stroke="#ababab" stroke-width="0.7"/>
<line x1="255.31" y1="336.20" x2="255.31" y2="385.40" stroke="#ababab" stroke-width="0.7"/>
<line x1="260.45" y1="336.20" x2="260.45" y2="385.40" stroke="#ababab" stroke-width="0.7"/>
<line x1="265.30" y1="336.20" x2="265.30" y2="385.40" stroke="#ababab" stroke-width="0.7"/>
<line x1="269.06" y1="336.20" x2="269.06" y2="385.40" stroke="#ababab" stroke-width="0.7"/>
<line x1="273.22" y1="336.20" x2="273.22" y2="385.40" stroke="#ababab" stroke-width="0.7"/>
<line x1="284.80" y1="336.20" x2="284.80" y2="385.40" stroke="#ababab" stroke-width="0.7"/>
<text x="178.90" y="334.40" font-size="6.1" text-anchor="middle" font-weight="normal" fill="#1a1a1a">Amp</text>
<rect x="58.60" y="385.40" width="240.60" height="7.20" fill="#fdebd2"/>
<rect x="58.60" y="392.60" width="240.60" height="49.40" fill="#fff"/>
<line x1="73.40" y1="392.60" x2="73.40" y2="442.00" stroke="#ababab" stroke-width="0.7"/>
<line x1="88.64" y1="392.60" x2="88.64" y2="442.00" stroke="#ababab" stroke-width="0.7"/>
<line x1="104.87" y1="392.60" x2="104.87" y2="442.00" stroke="#ababab" stroke-width="0.7"/>
<line x1="118.04" y1="392.60" x2="118.04" y2="442.00" stroke="#ababab" stroke-width="0.7"/>
<line x1="130.80" y1="392.60" x2="130.80" y2="442.00" stroke="#ababab" stroke-width="0.7"/>
<line x1="142.58" y1="392.60" x2="142.58" y2="442.00" stroke="#ababab" stroke-width="0.7"/>
<line x1="154.46" y1="392.60" x2="154.46" y2="442.00" stroke="#ababab" stroke-width="0.7"/>
<line x1="165.34" y1="392.60" x2="165.34" y2="442.00" stroke="#ababab" stroke-width="0.7"/>
<line x1="175.24" y1="392.60" x2="175.24" y2="442.00" stroke="#ababab" stroke-width="0.7"/>
<line x1="185.04" y1="392.60" x2="185.04" y2="442.00" stroke="#ababab" stroke-width="0.7"/>
<line x1="195.03" y1="392.60" x2="195.03" y2="442.00" stroke="#ababab" stroke-width="0.7"/>
<line x1="204.24" y1="392.60" x2="204.24" y2="442.00" stroke="#ababab" stroke-width="0.7"/>
<line x1="213.64" y1="392.60" x2="213.64" y2="442.00" stroke="#ababab" stroke-width="0.7"/>
<line x1="222.25" y1="392.60" x2="222.25" y2="442.00" stroke="#ababab" stroke-width="0.7"/>
<line x1="229.38" y1="392.60" x2="229.38" y2="442.00" stroke="#ababab" stroke-width="0.7"/>
<line x1="236.80" y1="392.60" x2="236.80" y2="442.00" stroke="#ababab" stroke-width="0.7"/>
<line x1="243.43" y1="392.60" x2="243.43" y2="442.00" stroke="#ababab" stroke-width="0.7"/>
<line x1="250.06" y1="392.60" x2="250.06" y2="442.00" stroke="#ababab" stroke-width="0.7"/>
<line x1="255.31" y1="392.60" x2="255.31" y2="442.00" stroke="#ababab" stroke-width="0.7"/>
<line x1="260.45" y1="392.60" x2="260.45" y2="442.00" stroke="#ababab" stroke-width="0.7"/>
<line x1="265.30" y1="392.60" x2="265.30" y2="442.00" stroke="#ababab" stroke-width="0.7"/>
<line x1="269.06" y1="392.60" x2="269.06" y2="442.00" stroke="#ababab" stroke-width="0.7"/>
<line x1="273.22" y1="392.60" x2="273.22" y2="442.00" stroke="#ababab" stroke-width="0.7"/>
<line x1="284.80" y1="392.60" x2="284.80" y2="442.00" stroke="#ababab" stroke-width="0.7"/>
<text x="178.90" y="390.80" font-size="6.1" text-anchor="middle" font-weight="normal" fill="#1a1a1a">log.Fisher.p.values</text>
<rect x="58.6" y="272.5" width="240.6" height="7.20" fill="none" stroke="#000" stroke-width="1.0"/>
<rect x="58.6" y="279.7" width="240.6" height="49.60" fill="none" stroke="#000" stroke-width="0.9"/>
<rect x="58.6" y="329.3" width="240.6" height="6.90" fill="none" stroke="#000" stroke-width="1.0"/>
<rect x="58.6" y="336.2" width="240.6" height="49.20" fill="none" stroke="#000" stroke-width="0.9"/>
<rect x="58.6" y="385.4" width="240.6" height="7.20" fill="none" stroke="#000" stroke-width="1.0"/>
<rect x="58.6" y="392.6" width="240.6" height="49.40" fill="none" stroke="#000" stroke-width="0.9"/>
<text x="176.50" y="263.60" font-size="10.6" text-anchor="middle" font-weight="bold" fill="#000">Amplifications</text>
<line x1="81.02" y1="272.50" x2="81.02" y2="269.90" stroke="#000" stroke-width="0.6"/>
<line x1="81.02" y1="442.00" x2="81.02" y2="444.60" stroke="#000" stroke-width="0.6"/>
<text x="81.02" y="450.50" font-size="4.0" text-anchor="middle" font-weight="normal" fill="#222">1</text>
<line x1="96.76" y1="272.50" x2="96.76" y2="269.90" stroke="#000" stroke-width="0.6"/>
<line x1="96.76" y1="442.00" x2="96.76" y2="444.60" stroke="#000" stroke-width="0.6"/>
<text x="96.76" y="450.50" font-size="4.0" text-anchor="middle" font-weight="normal" fill="#222">2</text>
<line x1="111.45" y1="272.50" x2="111.45" y2="269.90" stroke="#000" stroke-width="0.6"/>
<line x1="111.45" y1="442.00" x2="111.45" y2="444.60" stroke="#000" stroke-width="0.6"/>
<text x="111.45" y="450.50" font-size="4.0" text-anchor="middle" font-weight="normal" fill="#222">3</text>
<line x1="124.42" y1="272.50" x2="124.42" y2="269.90" stroke="#000" stroke-width="0.6"/>
<line x1="124.42" y1="442.00" x2="124.42" y2="444.60" stroke="#000" stroke-width="0.6"/>
<text x="124.42" y="450.50" font-size="4.0" text-anchor="middle" font-weight="normal" fill="#222">4</text>
<line x1="136.69" y1="272.50" x2="136.69" y2="269.90" stroke="#000" stroke-width="0.6"/>
<line x1="136.69" y1="442.00" x2="136.69" y2="444.60" stroke="#000" stroke-width="0.6"/>
<text x="136.69" y="450.50" font-size="4.0" text-anchor="middle" font-weight="normal" fill="#222">5</text>
<line x1="148.52" y1="272.50" x2="148.52" y2="269.90" stroke="#000" stroke-width="0.6"/>
<line x1="148.52" y1="442.00" x2="148.52" y2="444.60" stroke="#000" stroke-width="0.6"/>
<text x="148.52" y="450.50" font-size="4.0" text-anchor="middle" font-weight="normal" fill="#222">6</text>
<line x1="159.90" y1="272.50" x2="159.90" y2="269.90" stroke="#000" stroke-width="0.6"/>
<line x1="159.90" y1="442.00" x2="159.90" y2="444.60" stroke="#000" stroke-width="0.6"/>
<text x="159.90" y="450.50" font-size="4.0" text-anchor="middle" font-weight="normal" fill="#222">7</text>
<line x1="170.29" y1="272.50" x2="170.29" y2="269.90" stroke="#000" stroke-width="0.6"/>
<line x1="170.29" y1="442.00" x2="170.29" y2="444.60" stroke="#000" stroke-width="0.6"/>
<text x="170.29" y="450.50" font-size="4.0" text-anchor="middle" font-weight="normal" fill="#222">8</text>
<line x1="180.14" y1="272.50" x2="180.14" y2="269.90" stroke="#000" stroke-width="0.6"/>
<line x1="180.14" y1="442.00" x2="180.14" y2="444.60" stroke="#000" stroke-width="0.6"/>
<text x="180.14" y="450.50" font-size="4.0" text-anchor="middle" font-weight="normal" fill="#222">9</text>
<line x1="190.04" y1="272.50" x2="190.04" y2="269.90" stroke="#000" stroke-width="0.6"/>
<line x1="190.04" y1="442.00" x2="190.04" y2="444.60" stroke="#000" stroke-width="0.6"/>
<text x="190.04" y="450.50" font-size="4.0" text-anchor="middle" font-weight="normal" fill="#222">10</text>
<line x1="199.64" y1="272.50" x2="199.64" y2="269.90" stroke="#000" stroke-width="0.6"/>
<line x1="199.64" y1="442.00" x2="199.64" y2="444.60" stroke="#000" stroke-width="0.6"/>
<text x="199.64" y="450.50" font-size="4.0" text-anchor="middle" font-weight="normal" fill="#222">11</text>
<line x1="208.94" y1="272.50" x2="208.94" y2="269.90" stroke="#000" stroke-width="0.6"/>
<line x1="208.94" y1="442.00" x2="208.94" y2="444.60" stroke="#000" stroke-width="0.6"/>
<text x="208.94" y="450.50" font-size="4.0" text-anchor="middle" font-weight="normal" fill="#222">12</text>
<line x1="217.95" y1="272.50" x2="217.95" y2="269.90" stroke="#000" stroke-width="0.6"/>
<line x1="217.95" y1="442.00" x2="217.95" y2="444.60" stroke="#000" stroke-width="0.6"/>
<text x="217.95" y="450.50" font-size="4.0" text-anchor="middle" font-weight="normal" fill="#222">13</text>
<line x1="225.81" y1="272.50" x2="225.81" y2="269.90" stroke="#000" stroke-width="0.6"/>
<line x1="225.81" y1="442.00" x2="225.81" y2="444.60" stroke="#000" stroke-width="0.6"/>
<text x="225.81" y="450.50" font-size="4.0" text-anchor="middle" font-weight="normal" fill="#222">14</text>
<line x1="233.09" y1="272.50" x2="233.09" y2="269.90" stroke="#000" stroke-width="0.6"/>
<line x1="233.09" y1="442.00" x2="233.09" y2="444.60" stroke="#000" stroke-width="0.6"/>
<text x="233.09" y="450.50" font-size="4.0" text-anchor="middle" font-weight="normal" fill="#222">15</text>
<line x1="240.11" y1="272.50" x2="240.11" y2="269.90" stroke="#000" stroke-width="0.6"/>
<line x1="240.11" y1="442.00" x2="240.11" y2="444.60" stroke="#000" stroke-width="0.6"/>
<text x="240.11" y="450.50" font-size="4.0" text-anchor="middle" font-weight="normal" fill="#222">16</text>
<line x1="246.75" y1="272.50" x2="246.75" y2="269.90" stroke="#000" stroke-width="0.6"/>
<line x1="246.75" y1="442.00" x2="246.75" y2="444.60" stroke="#000" stroke-width="0.6"/>
<text x="246.75" y="450.50" font-size="4.0" text-anchor="middle" font-weight="normal" fill="#222">17</text>
<line x1="252.68" y1="272.50" x2="252.68" y2="269.90" stroke="#000" stroke-width="0.6"/>
<line x1="252.68" y1="442.00" x2="252.68" y2="444.60" stroke="#000" stroke-width="0.6"/>
<text x="252.68" y="450.50" font-size="4.0" text-anchor="middle" font-weight="normal" fill="#222">18</text>
<line x1="257.88" y1="272.50" x2="257.88" y2="269.90" stroke="#000" stroke-width="0.6"/>
<line x1="257.88" y1="442.00" x2="257.88" y2="444.60" stroke="#000" stroke-width="0.6"/>
<text x="257.88" y="450.50" font-size="4.0" text-anchor="middle" font-weight="normal" fill="#222">19</text>
<line x1="262.88" y1="272.50" x2="262.88" y2="269.90" stroke="#000" stroke-width="0.6"/>
<line x1="262.88" y1="442.00" x2="262.88" y2="444.60" stroke="#000" stroke-width="0.6"/>
<text x="262.88" y="450.50" font-size="4.0" text-anchor="middle" font-weight="normal" fill="#222">20</text>
<line x1="267.18" y1="272.50" x2="267.18" y2="269.90" stroke="#000" stroke-width="0.6"/>
<line x1="267.18" y1="442.00" x2="267.18" y2="444.60" stroke="#000" stroke-width="0.6"/>
<text x="267.18" y="450.50" font-size="4.0" text-anchor="middle" font-weight="normal" fill="#222">21</text>
<line x1="271.14" y1="272.50" x2="271.14" y2="269.90" stroke="#000" stroke-width="0.6"/>
<line x1="271.14" y1="442.00" x2="271.14" y2="444.60" stroke="#000" stroke-width="0.6"/>
<text x="271.14" y="450.50" font-size="4.0" text-anchor="middle" font-weight="normal" fill="#222">22</text>
<line x1="279.01" y1="272.50" x2="279.01" y2="269.90" stroke="#000" stroke-width="0.6"/>
<line x1="279.01" y1="442.00" x2="279.01" y2="444.60" stroke="#000" stroke-width="0.6"/>
<text x="279.01" y="450.50" font-size="4.0" text-anchor="middle" font-weight="normal" fill="#222">X</text>
<text x="179.10" y="461.00" font-size="6.2" text-anchor="middle" font-weight="normal" fill="#222">Chromosome</text>
<line x1="58.60" y1="282.80" x2="54.80" y2="282.80" stroke="#000" stroke-width="0.7"/>
<text x="52.90" y="284.70" font-size="5.4" text-anchor="end" font-weight="normal" fill="#000">1.0</text>
<line x1="58.60" y1="292.28" x2="54.80" y2="292.28" stroke="#000" stroke-width="0.7"/>
<text x="52.90" y="294.18" font-size="5.4" text-anchor="end" font-weight="normal" fill="#000">0.8</text>
<line x1="58.60" y1="301.76" x2="54.80" y2="301.76" stroke="#000" stroke-width="0.7"/>
<text x="52.90" y="303.66" font-size="5.4" text-anchor="end" font-weight="normal" fill="#000">0.6</text>
<line x1="58.60" y1="311.24" x2="54.80" y2="311.24" stroke="#000" stroke-width="0.7"/>
<text x="52.90" y="313.14" font-size="5.4" text-anchor="end" font-weight="normal" fill="#000">0.4</text>
<line x1="58.60" y1="320.72" x2="54.80" y2="320.72" stroke="#000" stroke-width="0.7"/>
<text x="52.90" y="322.62" font-size="5.4" text-anchor="end" font-weight="normal" fill="#000">0.2</text>
<line x1="299.20" y1="282.80" x2="303.00" y2="282.80" stroke="#000" stroke-width="0.7"/>
<line x1="299.20" y1="292.28" x2="303.00" y2="292.28" stroke="#000" stroke-width="0.7"/>
<line x1="299.20" y1="301.76" x2="303.00" y2="301.76" stroke="#000" stroke-width="0.7"/>
<line x1="299.20" y1="311.24" x2="303.00" y2="311.24" stroke="#000" stroke-width="0.7"/>
<line x1="299.20" y1="320.72" x2="303.00" y2="320.72" stroke="#000" stroke-width="0.7"/>
<line x1="299.20" y1="338.90" x2="303.00" y2="338.90" stroke="#000" stroke-width="0.7"/>
<text x="304.80" y="340.80" font-size="5.4" text-anchor="start" font-weight="normal" fill="#000">1.0</text>
<line x1="299.20" y1="348.38" x2="303.00" y2="348.38" stroke="#000" stroke-width="0.7"/>
<text x="304.80" y="350.28" font-size="5.4" text-anchor="start" font-weight="normal" fill="#000">0.8</text>
<line x1="299.20" y1="357.86" x2="303.00" y2="357.86" stroke="#000" stroke-width="0.7"/>
<text x="304.80" y="359.76" font-size="5.4" text-anchor="start" font-weight="normal" fill="#000">0.6</text>
<line x1="299.20" y1="367.34" x2="303.00" y2="367.34" stroke="#000" stroke-width="0.7"/>
<text x="304.80" y="369.24" font-size="5.4" text-anchor="start" font-weight="normal" fill="#000">0.4</text>
<line x1="299.20" y1="376.82" x2="303.00" y2="376.82" stroke="#000" stroke-width="0.7"/>
<text x="304.80" y="378.72" font-size="5.4" text-anchor="start" font-weight="normal" fill="#000">0.2</text>
<line x1="58.60" y1="338.90" x2="54.80" y2="338.90" stroke="#000" stroke-width="0.7"/>
<line x1="58.60" y1="348.38" x2="54.80" y2="348.38" stroke="#000" stroke-width="0.7"/>
<line x1="58.60" y1="357.86" x2="54.80" y2="357.86" stroke="#000" stroke-width="0.7"/>
<line x1="58.60" y1="367.34" x2="54.80" y2="367.34" stroke="#000" stroke-width="0.7"/>
<line x1="58.60" y1="376.82" x2="54.80" y2="376.82" stroke="#000" stroke-width="0.7"/>
<line x1="58.60" y1="395.50" x2="54.80" y2="395.50" stroke="#000" stroke-width="0.7"/>
<text x="52.90" y="397.40" font-size="5.4" text-anchor="end" font-weight="normal" fill="#000">1.0</text>
<line x1="58.60" y1="404.98" x2="54.80" y2="404.98" stroke="#000" stroke-width="0.7"/>
<text x="52.90" y="406.88" font-size="5.4" text-anchor="end" font-weight="normal" fill="#000">0.8</text>
<line x1="58.60" y1="414.46" x2="54.80" y2="414.46" stroke="#000" stroke-width="0.7"/>
<text x="52.90" y="416.36" font-size="5.4" text-anchor="end" font-weight="normal" fill="#000">0.6</text>
<line x1="58.60" y1="423.94" x2="54.80" y2="423.94" stroke="#000" stroke-width="0.7"/>
<text x="52.90" y="425.84" font-size="5.4" text-anchor="end" font-weight="normal" fill="#000">0.4</text>
<line x1="58.60" y1="433.42" x2="54.80" y2="433.42" stroke="#000" stroke-width="0.7"/>
<text x="52.90" y="435.32" font-size="5.4" text-anchor="end" font-weight="normal" fill="#000">0.2</text>
<line x1="299.20" y1="395.50" x2="303.00" y2="395.50" stroke="#000" stroke-width="0.7"/>
<line x1="299.20" y1="404.98" x2="303.00" y2="404.98" stroke="#000" stroke-width="0.7"/>
<line x1="299.20" y1="414.46" x2="303.00" y2="414.46" stroke="#000" stroke-width="0.7"/>
<line x1="299.20" y1="423.94" x2="303.00" y2="423.94" stroke="#000" stroke-width="0.7"/>
<line x1="299.20" y1="433.42" x2="303.00" y2="433.42" stroke="#000" stroke-width="0.7"/>
<rect x="79.65" y="325.92" width="1.54" height="3.08" fill="#1b7a3e"/>
<rect x="81.20" y="323.60" width="1.54" height="5.40" fill="#1b7a3e"/>
<rect x="82.74" y="318.20" width="1.08" height="10.80" fill="#1b7a3e"/>
<rect x="83.82" y="322.06" width="2.01" height="6.94" fill="#1b7a3e"/>
<rect x="85.82" y="318.20" width="1.08" height="10.80" fill="#1b7a3e"/>
<rect x="86.90" y="314.35" width="1.54" height="14.65" fill="#1b7a3e"/>
<rect x="104.80" y="322.06" width="1.08" height="6.94" fill="#1b7a3e"/>
<rect x="105.88" y="325.92" width="1.08" height="3.08" fill="#1b7a3e"/>
<rect x="112.05" y="326.22" width="1.08" height="2.78" fill="#1b7a3e"/>
<rect x="115.90" y="325.92" width="1.54" height="3.08" fill="#1b7a3e"/>
<rect x="118.68" y="326.22" width="1.08" height="2.78" fill="#1b7a3e"/>
<rect x="122.84" y="326.22" width="1.54" height="2.78" fill="#1b7a3e"/>
<rect x="132.10" y="325.92" width="3.08" height="3.08" fill="#1b7a3e"/>
<rect x="135.95" y="326.22" width="1.23" height="2.78" fill="#1b7a3e"/>
<rect x="143.98" y="322.06" width="1.23" height="6.94" fill="#1b7a3e"/>
<rect x="145.21" y="325.92" width="3.08" height="3.08" fill="#1b7a3e"/>
<rect x="148.29" y="322.06" width="3.39" height="6.94" fill="#1b7a3e"/>
<rect x="151.69" y="325.92" width="1.23" height="3.08" fill="#1b7a3e"/>
<rect x="155.24" y="325.92" width="1.54" height="3.08" fill="#1b7a3e"/>
<rect x="156.78" y="322.06" width="1.54" height="6.94" fill="#1b7a3e"/>
<rect x="158.32" y="318.20" width="1.08" height="10.80" fill="#1b7a3e"/>
<rect x="162.95" y="325.92" width="1.54" height="3.08" fill="#1b7a3e"/>
<rect x="166.80" y="325.14" width="1.23" height="3.86" fill="#1b7a3e"/>
<rect x="168.04" y="306.63" width="1.54" height="22.37" fill="#1b7a3e"/>
<rect x="169.58" y="322.06" width="1.54" height="6.94" fill="#1b7a3e"/>
<rect x="171.12" y="306.63" width="1.39" height="22.37" fill="#1b7a3e"/>
<rect x="172.51" y="318.20" width="1.23" height="10.80" fill="#1b7a3e"/>
<rect x="173.75" y="318.20" width="1.54" height="10.80" fill="#1b7a3e"/>
<rect x="178.06" y="325.92" width="1.08" height="3.08" fill="#1b7a3e"/>
<rect x="184.08" y="325.92" width="0.93" height="3.08" fill="#1b7a3e"/>
<rect x="184.32" y="325.92" width="1.08" height="3.08" fill="#1b7a3e"/>
<rect x="185.86" y="322.06" width="1.85" height="6.94" fill="#1b7a3e"/>
<rect x="196.66" y="322.06" width="1.54" height="6.94" fill="#1b7a3e"/>
<rect x="198.20" y="325.92" width="1.08" height="3.08" fill="#1b7a3e"/>
<rect x="199.28" y="318.20" width="1.54" height="10.80" fill="#1b7a3e"/>
<rect x="200.82" y="325.92" width="1.08" height="3.08" fill="#1b7a3e"/>
<rect x="204.99" y="325.92" width="1.54" height="3.08" fill="#1b7a3e"/>
<rect x="209.00" y="322.06" width="1.08" height="6.94" fill="#1b7a3e"/>
<rect x="220.88" y="325.92" width="0.77" height="3.08" fill="#1b7a3e"/>
<rect x="223.96" y="325.92" width="1.08" height="3.08" fill="#1b7a3e"/>
<rect x="235.84" y="325.92" width="1.23" height="3.08" fill="#1b7a3e"/>
<rect x="237.84" y="325.92" width="1.08" height="3.08" fill="#1b7a3e"/>
<rect x="240.93" y="325.92" width="2.62" height="3.08" fill="#1b7a3e"/>
<rect x="246.64" y="322.06" width="1.23" height="6.94" fill="#1b7a3e"/>
<rect x="247.87" y="318.20" width="1.23" height="10.80" fill="#1b7a3e"/>
<rect x="249.10" y="325.92" width="1.08" height="3.08" fill="#1b7a3e"/>
<rect x="252.81" y="322.06" width="1.23" height="6.94" fill="#1b7a3e"/>
<rect x="257.90" y="322.06" width="1.23" height="6.94" fill="#1b7a3e"/>
<rect x="259.13" y="325.92" width="1.08" height="3.08" fill="#1b7a3e"/>
<rect x="262.99" y="322.06" width="1.23" height="6.94" fill="#1b7a3e"/>
<rect x="264.22" y="325.92" width="1.54" height="3.08" fill="#1b7a3e"/>
<rect x="271.32" y="325.92" width="0.93" height="3.08" fill="#1b7a3e"/>
<rect x="283.81" y="325.92" width="1.08" height="3.08" fill="#1b7a3e"/>
<rect x="73.48" y="382.42" width="1.08" height="2.78" fill="#1b7a3e"/>
<rect x="79.65" y="382.42" width="1.54" height="2.78" fill="#1b7a3e"/>
<rect x="82.28" y="382.42" width="0.93" height="2.78" fill="#1b7a3e"/>
<rect x="83.20" y="378.26" width="1.08" height="6.94" fill="#1b7a3e"/>
<rect x="84.28" y="382.42" width="1.54" height="2.78" fill="#1b7a3e"/>
<rect x="85.82" y="378.26" width="1.54" height="6.94" fill="#1b7a3e"/>
<rect x="87.37" y="382.42" width="0.77" height="2.78" fill="#1b7a3e"/>
<rect x="94.31" y="382.42" width="1.54" height="2.78" fill="#1b7a3e"/>
<rect x="105.41" y="382.42" width="1.54" height="2.78" fill="#1b7a3e"/>
<rect x="110.50" y="382.42" width="0.77" height="2.78" fill="#1b7a3e"/>
<rect x="112.51" y="382.42" width="2.62" height="2.78" fill="#1b7a3e"/>
<rect x="131.64" y="382.42" width="3.55" height="2.78" fill="#1b7a3e"/>
<rect x="136.26" y="382.42" width="2.47" height="2.78" fill="#1b7a3e"/>
<rect x="143.98" y="378.26" width="1.54" height="6.94" fill="#1b7a3e"/>
<rect x="145.52" y="382.42" width="2.01" height="2.78" fill="#1b7a3e"/>
<rect x="147.52" y="378.26" width="2.01" height="6.94" fill="#1b7a3e"/>
<rect x="149.53" y="382.42" width="4.16" height="2.78" fill="#1b7a3e"/>
<rect x="155.24" y="382.42" width="2.01" height="2.78" fill="#1b7a3e"/>
<rect x="157.24" y="378.26" width="1.54" height="6.94" fill="#1b7a3e"/>
<rect x="158.78" y="370.55" width="1.08" height="14.65" fill="#1b7a3e"/>
<rect x="159.86" y="378.26" width="1.08" height="6.94" fill="#1b7a3e"/>
<rect x="160.94" y="382.42" width="3.55" height="2.78" fill="#1b7a3e"/>
<rect x="168.04" y="362.83" width="1.54" height="22.37" fill="#1b7a3e"/>
<rect x="169.58" y="378.26" width="1.54" height="6.94" fill="#1b7a3e"/>
<rect x="171.12" y="355.12" width="1.08" height="30.08" fill="#1b7a3e"/>
<rect x="172.20" y="378.26" width="1.08" height="6.94" fill="#1b7a3e"/>
<rect x="173.28" y="370.55" width="2.16" height="14.65" fill="#1b7a3e"/>
<rect x="181.46" y="382.42" width="1.08" height="2.78" fill="#1b7a3e"/>
<rect x="184.08" y="382.42" width="0.93" height="2.78" fill="#1b7a3e"/>
<rect x="180.77" y="382.42" width="1.08" height="2.78" fill="#1b7a3e"/>
<rect x="183.39" y="382.42" width="1.23" height="2.78" fill="#1b7a3e"/>
<rect x="185.86" y="382.42" width="1.54" height="2.78" fill="#1b7a3e"/>
<rect x="188.02" y="382.42" width="1.54" height="2.78" fill="#1b7a3e"/>
<rect x="190.18" y="382.42" width="1.39" height="2.78" fill="#1b7a3e"/>
<rect x="196.20" y="382.42" width="3.08" height="2.78" fill="#1b7a3e"/>
<rect x="199.28" y="374.40" width="2.01" height="10.80" fill="#1b7a3e"/>
<rect x="201.29" y="382.42" width="1.08" height="2.78" fill="#1b7a3e"/>
<rect x="204.68" y="382.42" width="1.85" height="2.78" fill="#1b7a3e"/>
<rect x="207.46" y="382.42" width="3.39" height="2.78" fill="#1b7a3e"/>
<rect x="219.33" y="382.42" width="1.08" height="2.78" fill="#1b7a3e"/>
<rect x="223.50" y="382.42" width="2.47" height="2.78" fill="#1b7a3e"/>
<rect x="231.67" y="382.42" width="1.08" height="2.78" fill="#1b7a3e"/>
<rect x="235.53" y="382.42" width="1.23" height="2.78" fill="#1b7a3e"/>
<rect x="238.31" y="382.42" width="1.85" height="2.78" fill="#1b7a3e"/>
<rect x="244.78" y="382.42" width="1.23" height="2.78" fill="#1b7a3e"/>
<rect x="246.02" y="338.93" width="1.54" height="46.27" fill="#1b7a3e"/>
<rect x="247.56" y="365.92" width="1.08" height="19.28" fill="#1b7a3e"/>
<rect x="248.64" y="378.26" width="1.08" height="6.94" fill="#1b7a3e"/>
<rect x="249.72" y="382.42" width="0.93" height="2.78" fill="#1b7a3e"/>
<rect x="252.50" y="378.26" width="1.23" height="6.94" fill="#1b7a3e"/>
<rect x="253.73" y="382.42" width="1.08" height="2.78" fill="#1b7a3e"/>
<rect x="255.89" y="382.42" width="2.01" height="2.78" fill="#1b7a3e"/>
<rect x="258.36" y="382.42" width="1.85" height="2.78" fill="#1b7a3e"/>
<rect x="262.52" y="382.42" width="3.86" height="2.78" fill="#1b7a3e"/>
<rect x="267.92" y="382.42" width="1.23" height="2.78" fill="#1b7a3e"/>
<rect x="271.01" y="382.42" width="1.54" height="2.78" fill="#1b7a3e"/>
<rect x="283.81" y="382.42" width="1.08" height="2.78" fill="#1b7a3e"/>
<line x1="58.60" y1="329.30" x2="299.20" y2="329.30" stroke="#000" stroke-width="0.9"/>
<line x1="58.60" y1="385.40" x2="299.20" y2="385.40" stroke="#000" stroke-width="0.9"/>
<line x1="58.60" y1="442.00" x2="299.20" y2="442.00" stroke="#000" stroke-width="0.9"/>
<rect x="246.50" y="396.00" width="1.10" height="46.00" fill="#1b7a3e"/>
<text transform="translate(9.3,68.4) rotate(-90)" font-size="9.5" text-anchor="middle" fill="#111">Non-</text>
<text transform="translate(21.2,68.4) rotate(-90)" font-size="9.5" text-anchor="middle" fill="#111">amplified</text>
<text transform="translate(21.0,129.5) rotate(-90)" font-size="9.5" text-anchor="middle" fill="#111">Amplified</text>
<text transform="translate(9.8,185.6) rotate(-90)" font-size="9.7" text-anchor="middle" fill="#111">Fisher’s</text>
<text transform="translate(21.6,185.6) rotate(-90)" font-size="9.6" text-anchor="middle" fill="#111">exact test</text>
<text transform="translate(35.0,130.7) rotate(-90)" font-size="6.2" text-anchor="middle" fill="#111">Frequency</text>
<text transform="translate(14.2,304.4) rotate(-90)" font-size="9.5" text-anchor="middle" fill="#111">Non-</text>
<text transform="translate(26.5,304.8) rotate(-90)" font-size="9.5" text-anchor="middle" fill="#111">amplified</text>
<text transform="translate(30.0,361.0) rotate(-90)" font-size="9.5" text-anchor="middle" fill="#111">Amplified</text>
<text transform="translate(17.0,416.3) rotate(-90)" font-size="9.7" text-anchor="middle" fill="#111">Fisher’s</text>
<text transform="translate(28.7,416.2) rotate(-90)" font-size="9.6" text-anchor="middle" fill="#111">exact test</text>
<text transform="translate(39.4,360.8) rotate(-90)" font-size="5.9" text-anchor="middle" fill="#111">Frequency</text>
</svg>
</body></html>
